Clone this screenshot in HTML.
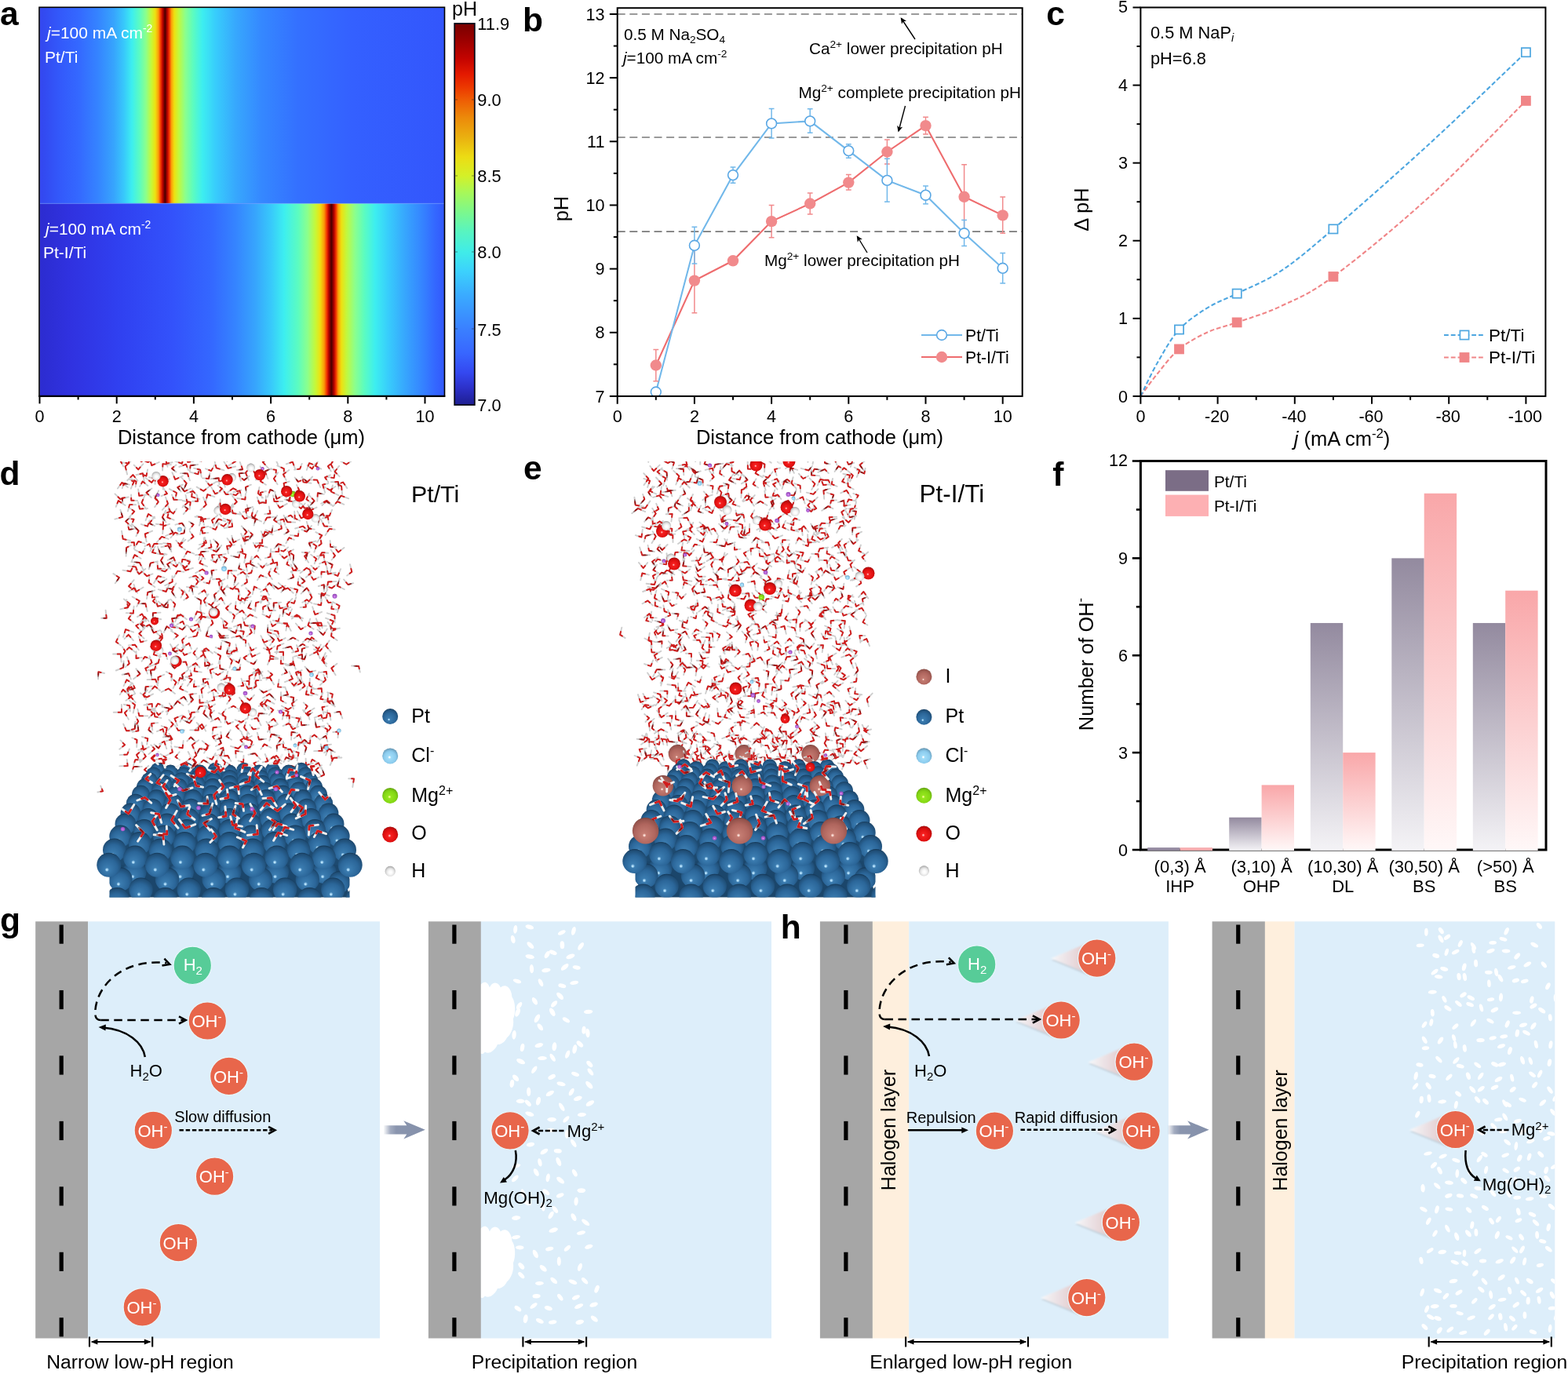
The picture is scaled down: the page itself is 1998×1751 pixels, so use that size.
<!DOCTYPE html>
<html lang="en"><head><meta charset="utf-8"><title>Figure</title>
<style>
html,body{margin:0;padding:0;background:#fff;}
body{width:1998px;height:1751px;overflow:hidden;}
svg{display:block;}
svg text{font-family:"Liberation Sans", sans-serif;}
</style></head>
<body>
<svg width="1998" height="1751" viewBox="0 0 1998 1751">
<defs>
<linearGradient id="ga1" x1="0" y1="0" x2="1" y2="0"><stop offset="0.0000" stop-color="#3346ee"/><stop offset="0.0475" stop-color="#3358fa"/><stop offset="0.0960" stop-color="#3468ff"/><stop offset="0.1445" stop-color="#3584ff"/><stop offset="0.1833" stop-color="#37a4fd"/><stop offset="0.2085" stop-color="#38c8fb"/><stop offset="0.2279" stop-color="#3deef0"/><stop offset="0.2473" stop-color="#5cfcc0"/><stop offset="0.2629" stop-color="#8cff8c"/><stop offset="0.2764" stop-color="#c6f838"/><stop offset="0.2861" stop-color="#eee010"/><stop offset="0.2939" stop-color="#fb9a08"/><stop offset="0.2997" stop-color="#f03000"/><stop offset="0.3046" stop-color="#b00000"/><stop offset="0.3100" stop-color="#4a0000"/><stop offset="0.3152" stop-color="#b00000"/><stop offset="0.3201" stop-color="#f03000"/><stop offset="0.3259" stop-color="#fba008"/><stop offset="0.3327" stop-color="#eee010"/><stop offset="0.3443" stop-color="#c0f840"/><stop offset="0.3598" stop-color="#8cff8c"/><stop offset="0.3792" stop-color="#5cfcc0"/><stop offset="0.4025" stop-color="#3deef0"/><stop offset="0.4355" stop-color="#38ccfc"/><stop offset="0.4840" stop-color="#37a8fd"/><stop offset="0.5480" stop-color="#3588ff"/><stop offset="0.6392" stop-color="#3470ff"/><stop offset="0.7750" stop-color="#3460ff"/><stop offset="1.0000" stop-color="#3356fc"/></linearGradient>
<linearGradient id="ga2" x1="0" y1="0" x2="1" y2="0"><stop offset="0.0000" stop-color="#2c2cd0"/><stop offset="0.0766" stop-color="#3032e0"/><stop offset="0.1930" stop-color="#3040f0"/><stop offset="0.3288" stop-color="#3352fb"/><stop offset="0.4258" stop-color="#3468ff"/><stop offset="0.4840" stop-color="#3584ff"/><stop offset="0.5325" stop-color="#37a4fd"/><stop offset="0.5713" stop-color="#38c8fb"/><stop offset="0.6043" stop-color="#3deef0"/><stop offset="0.6392" stop-color="#5cfcc0"/><stop offset="0.6625" stop-color="#8cff8c"/><stop offset="0.6819" stop-color="#c6f838"/><stop offset="0.6935" stop-color="#eee010"/><stop offset="0.7032" stop-color="#fb9a08"/><stop offset="0.7100" stop-color="#f03000"/><stop offset="0.7148" stop-color="#b00000"/><stop offset="0.7212" stop-color="#4a0000"/><stop offset="0.7274" stop-color="#b00000"/><stop offset="0.7323" stop-color="#f03000"/><stop offset="0.7381" stop-color="#fba008"/><stop offset="0.7459" stop-color="#eee010"/><stop offset="0.7595" stop-color="#c0f840"/><stop offset="0.7789" stop-color="#8cff8c"/><stop offset="0.8021" stop-color="#5cfcc0"/><stop offset="0.8293" stop-color="#3deef0"/><stop offset="0.8623" stop-color="#38ccfc"/><stop offset="0.9011" stop-color="#37a8fd"/><stop offset="0.9457" stop-color="#3584ff"/><stop offset="0.9767" stop-color="#3468ff"/><stop offset="1.0000" stop-color="#3359fc"/></linearGradient>
<linearGradient id="gcb" x1="0" y1="0" x2="0" y2="1"><stop offset="0.0000" stop-color="#780000"/><stop offset="0.0412" stop-color="#990000"/><stop offset="0.0926" stop-color="#c40400"/><stop offset="0.1337" stop-color="#e41a00"/><stop offset="0.1687" stop-color="#ec3a00"/><stop offset="0.1996" stop-color="#ee5c04"/><stop offset="0.2469" stop-color="#ec8a0a"/><stop offset="0.2984" stop-color="#eab010"/><stop offset="0.3498" stop-color="#ecdc14"/><stop offset="0.3992" stop-color="#d4f028"/><stop offset="0.4424" stop-color="#a8f858"/><stop offset="0.4938" stop-color="#7cf88c"/><stop offset="0.5453" stop-color="#58f4c0"/><stop offset="0.5988" stop-color="#40ece8"/><stop offset="0.6481" stop-color="#3cd2fc"/><stop offset="0.7099" stop-color="#3aacff"/><stop offset="0.8004" stop-color="#3a80ff"/><stop offset="0.8642" stop-color="#3866ff"/><stop offset="0.9156" stop-color="#3448f0"/><stop offset="0.9568" stop-color="#2c30c8"/><stop offset="1.0000" stop-color="#1e1e90"/></linearGradient>
<marker id="ah" viewBox="0 0 10 10" refX="8" refY="5" markerWidth="11" markerHeight="8" markerUnits="userSpaceOnUse" orient="auto"><path d="M0,0.5 L10,5 L0,9.5 L2.5,5 z" fill="#000"/></marker>
<filter id="fsoft" x="-2%" y="-2%" width="104%" height="104%"><feGaussianBlur stdDeviation="0.45"/></filter>
<radialGradient id="sPt" cx="0.5" cy="0.6" r="0.63" fx="0.41" fy="0.71"><stop offset="0" stop-color="#b8e4ff"/><stop offset="0.038" stop-color="#b8e4ff"/><stop offset="0.136" stop-color="#3b7cb0"/><stop offset="0.6" stop-color="#2b6699"/><stop offset="0.88" stop-color="#1f4d75"/><stop offset="1" stop-color="#0e2a44"/></radialGradient>
<radialGradient id="sI" cx="0.5" cy="0.6" r="0.63" fx="0.45" fy="0.68"><stop offset="0" stop-color="#ffe0d8"/><stop offset="0.032" stop-color="#ffe0d8"/><stop offset="0.112" stop-color="#c47c72"/><stop offset="0.6" stop-color="#b0665e"/><stop offset="0.88" stop-color="#93524b"/><stop offset="1" stop-color="#6a3630"/></radialGradient>
<radialGradient id="sO" cx="0.5" cy="0.6" r="0.63" fx="0.45" fy="0.58"><stop offset="0" stop-color="#ffb0b0"/><stop offset="0.045" stop-color="#ffb0b0"/><stop offset="0.160" stop-color="#f62020"/><stop offset="0.6" stop-color="#e01010"/><stop offset="0.88" stop-color="#b50d0d"/><stop offset="1" stop-color="#7a0808"/></radialGradient>
<radialGradient id="sH" cx="0.5" cy="0.6" r="0.63" fx="0.55" fy="0.6"><stop offset="0" stop-color="#ffffff"/><stop offset="0.090" stop-color="#ffffff"/><stop offset="0.320" stop-color="#f8f8f8"/><stop offset="0.6" stop-color="#e2e2e2"/><stop offset="0.88" stop-color="#b0b0b0"/><stop offset="1" stop-color="#6c6c6c"/></radialGradient>
<radialGradient id="sCl" cx="0.5" cy="0.6" r="0.63" fx="0.45" fy="0.58"><stop offset="0" stop-color="#ffffff"/><stop offset="0.045" stop-color="#ffffff"/><stop offset="0.160" stop-color="#a0dcf8"/><stop offset="0.6" stop-color="#8cccee"/><stop offset="0.88" stop-color="#6ca1bf"/><stop offset="1" stop-color="#41667e"/></radialGradient>
<radialGradient id="sMg" cx="0.5" cy="0.6" r="0.63" fx="0.45" fy="0.58"><stop offset="0" stop-color="#f4ff90"/><stop offset="0.045" stop-color="#f4ff90"/><stop offset="0.160" stop-color="#96e61e"/><stop offset="0.6" stop-color="#84d814"/><stop offset="0.88" stop-color="#6cb111"/><stop offset="1" stop-color="#4a7c0c"/></radialGradient>
<radialGradient id="sNa" cx="0.5" cy="0.6" r="0.63" fx="0.45" fy="0.58"><stop offset="0" stop-color="#f0c8ff"/><stop offset="0.045" stop-color="#f0c8ff"/><stop offset="0.160" stop-color="#c070e0"/><stop offset="0.6" stop-color="#a858cc"/><stop offset="0.88" stop-color="#8e47af"/><stop offset="1" stop-color="#6a3088"/></radialGradient>
<linearGradient id="gfg" x1="0" y1="0" x2="0" y2="1"><stop offset="0" stop-color="#938a9f"/><stop offset="1" stop-color="#f4f3f6"/></linearGradient>
<linearGradient id="gfp" x1="0" y1="0" x2="0" y2="1"><stop offset="0" stop-color="#f9a7a9"/><stop offset="1" stop-color="#fff8f8"/></linearGradient>
<linearGradient id="gtr" x1="0" y1="0" x2="1" y2="0"><stop offset="0" stop-color="#8c97b0" stop-opacity="0.05"/><stop offset="0.16" stop-color="#8c97b0" stop-opacity="0.8"/><stop offset="0.3" stop-color="#8a95ae"/><stop offset="1" stop-color="#8490aa"/></linearGradient>
<linearGradient id="gtail" x1="0" y1="0" x2="1" y2="0"><stop offset="0" stop-color="#fbfbfc" stop-opacity="0.9"/><stop offset="0.5" stop-color="#ecdfe2" stop-opacity="0.95"/><stop offset="1" stop-color="#e2c4c2" stop-opacity="0.95"/></linearGradient>
<filter id="fblur" x="-20%" y="-20%" width="140%" height="140%"><feGaussianBlur stdDeviation="1.2"/></filter>
</defs>
<rect x="50.50" y="9.50" width="515.50" height="249.80" fill="url(#ga1)" />
<rect x="50.50" y="259.30" width="515.50" height="245.20" fill="url(#ga2)" />
<rect x="50.50" y="258.70" width="515.50" height="1.20" fill="#5f8cff" opacity="0.55"/>
<rect x="50.0" y="9.3" width="516.5" height="495.8" fill="none" stroke="#000" stroke-width="1.6"/>
<line x1="49.20" y1="504.80" x2="567.30" y2="504.80" stroke="#000" stroke-width="2" />
<line x1="50.50" y1="504.50" x2="50.50" y2="514.40" stroke="#000" stroke-width="2" />
<text x="50.50" y="538.20" font-size="21.6" text-anchor="middle" >0</text>
<line x1="99.60" y1="504.50" x2="99.60" y2="509.40" stroke="#000" stroke-width="2" />
<line x1="148.70" y1="504.50" x2="148.70" y2="514.40" stroke="#000" stroke-width="2" />
<text x="148.70" y="538.20" font-size="21.6" text-anchor="middle" >2</text>
<line x1="197.80" y1="504.50" x2="197.80" y2="509.40" stroke="#000" stroke-width="2" />
<line x1="246.90" y1="504.50" x2="246.90" y2="514.40" stroke="#000" stroke-width="2" />
<text x="246.90" y="538.20" font-size="21.6" text-anchor="middle" >4</text>
<line x1="296.00" y1="504.50" x2="296.00" y2="509.40" stroke="#000" stroke-width="2" />
<line x1="345.10" y1="504.50" x2="345.10" y2="514.40" stroke="#000" stroke-width="2" />
<text x="345.10" y="538.20" font-size="21.6" text-anchor="middle" >6</text>
<line x1="394.20" y1="504.50" x2="394.20" y2="509.40" stroke="#000" stroke-width="2" />
<line x1="443.30" y1="504.50" x2="443.30" y2="514.40" stroke="#000" stroke-width="2" />
<text x="443.30" y="538.20" font-size="21.6" text-anchor="middle" >8</text>
<line x1="492.40" y1="504.50" x2="492.40" y2="509.40" stroke="#000" stroke-width="2" />
<line x1="541.50" y1="504.50" x2="541.50" y2="514.40" stroke="#000" stroke-width="2" />
<text x="541.50" y="538.20" font-size="21.6" text-anchor="middle" >10</text>
<text x="307.50" y="566.00" font-size="25.5" text-anchor="middle" >Distance from cathode (μm)</text>
<text x="60.00" y="49.20" font-size="21" fill="#fff" ><tspan font-style="italic">j</tspan>=100 mA cm<tspan dy="-8.4" font-size="13.9">-2</tspan></text>
<text x="57.00" y="80.00" font-size="21" fill="#fff" >Pt/Ti</text>
<text x="58.00" y="299.20" font-size="21" fill="#fff" ><tspan font-style="italic">j</tspan>=100 mA cm<tspan dy="-8.4" font-size="13.9">-2</tspan></text>
<text x="55.00" y="329.00" font-size="21" fill="#fff" >Pt-I/Ti</text>
<rect x="579.2" y="30" width="25.6" height="486" fill="url(#gcb)" stroke="#0a0a18" stroke-width="1.8"/>
<line x1="579.00" y1="127.00" x2="583.00" y2="127.00" stroke="#222" stroke-width="1" opacity="0.5"/>
<line x1="601.00" y1="127.00" x2="605.00" y2="127.00" stroke="#222" stroke-width="1" opacity="0.5"/>
<line x1="579.00" y1="224.00" x2="583.00" y2="224.00" stroke="#222" stroke-width="1" opacity="0.5"/>
<line x1="601.00" y1="224.00" x2="605.00" y2="224.00" stroke="#222" stroke-width="1" opacity="0.5"/>
<line x1="579.00" y1="321.00" x2="583.00" y2="321.00" stroke="#222" stroke-width="1" opacity="0.5"/>
<line x1="601.00" y1="321.00" x2="605.00" y2="321.00" stroke="#222" stroke-width="1" opacity="0.5"/>
<line x1="579.00" y1="419.00" x2="583.00" y2="419.00" stroke="#222" stroke-width="1" opacity="0.5"/>
<line x1="601.00" y1="419.00" x2="605.00" y2="419.00" stroke="#222" stroke-width="1" opacity="0.5"/>
<text x="576.00" y="20.00" font-size="25" >pH</text>
<text x="608.30" y="38.00" font-size="21.8" >11.9</text>
<text x="608.30" y="135.00" font-size="21.8" >9.0</text>
<text x="608.30" y="232.00" font-size="21.8" >8.5</text>
<text x="608.30" y="329.00" font-size="21.8" >8.0</text>
<text x="608.30" y="427.50" font-size="21.8" >7.5</text>
<text x="608.30" y="524.00" font-size="21.8" >7.0</text>
<text x="0.00" y="32.00" font-size="42.5" font-weight="bold" >a</text>
<line x1="786.70" y1="18.00" x2="1302.70" y2="18.00" stroke="#7a7a7a" stroke-width="1.6" stroke-dasharray="10 5.6"/>
<line x1="786.70" y1="175.03" x2="1302.70" y2="175.03" stroke="#7a7a7a" stroke-width="1.6" stroke-dasharray="10 5.6"/>
<line x1="786.70" y1="295.13" x2="1302.70" y2="295.13" stroke="#7a7a7a" stroke-width="1.6" stroke-dasharray="10 5.6"/>
<clipPath id="cpb"><rect x="786.7" y="10.2" width="516.0" height="494.7"/></clipPath>
<g clip-path="url(#cpb)">
<polyline fill="none" stroke="#ee6c6e" stroke-width="2.1" points="835.8,465.5 884.9,357.6 934.0,332.3 983.1,282.1 1032.2,259.5 1081.3,232.6 1130.4,193.5 1179.5,160.1 1228.6,250.8 1277.7,274.4"/>
<polyline fill="none" stroke="#72b8ea" stroke-width="2.1" points="835.8,499.5 884.9,312.8 934.0,223.1 983.1,157.4 1032.2,154.4 1081.3,192.1 1130.4,229.9 1179.5,248.7 1228.6,297.3 1277.7,341.8"/>
<line x1="835.80" y1="445.57" x2="835.80" y2="485.68" stroke="#f18a8c" stroke-width="1.5" />
<line x1="832.40" y1="445.57" x2="839.20" y2="445.57" stroke="#f18a8c" stroke-width="1.5" />
<line x1="832.40" y1="485.68" x2="839.20" y2="485.68" stroke="#f18a8c" stroke-width="1.5" />
<line x1="884.90" y1="316.82" x2="884.90" y2="398.72" stroke="#f18a8c" stroke-width="1.5" />
<line x1="881.50" y1="316.82" x2="888.30" y2="316.82" stroke="#f18a8c" stroke-width="1.5" />
<line x1="881.50" y1="398.72" x2="888.30" y2="398.72" stroke="#f18a8c" stroke-width="1.5" />
<line x1="983.10" y1="261.54" x2="983.10" y2="302.66" stroke="#f18a8c" stroke-width="1.5" />
<line x1="979.70" y1="261.54" x2="986.50" y2="261.54" stroke="#f18a8c" stroke-width="1.5" />
<line x1="979.70" y1="302.66" x2="986.50" y2="302.66" stroke="#f18a8c" stroke-width="1.5" />
<line x1="1032.20" y1="246.04" x2="1032.20" y2="273.00" stroke="#f18a8c" stroke-width="1.5" />
<line x1="1028.80" y1="246.04" x2="1035.60" y2="246.04" stroke="#f18a8c" stroke-width="1.5" />
<line x1="1028.80" y1="273.00" x2="1035.60" y2="273.00" stroke="#f18a8c" stroke-width="1.5" />
<line x1="1081.30" y1="222.45" x2="1081.30" y2="242.00" stroke="#f18a8c" stroke-width="1.5" />
<line x1="1077.90" y1="222.45" x2="1084.70" y2="222.45" stroke="#f18a8c" stroke-width="1.5" />
<line x1="1077.90" y1="242.00" x2="1084.70" y2="242.00" stroke="#f18a8c" stroke-width="1.5" />
<line x1="1130.40" y1="177.96" x2="1130.40" y2="208.97" stroke="#f18a8c" stroke-width="1.5" />
<line x1="1127.00" y1="177.96" x2="1133.80" y2="177.96" stroke="#f18a8c" stroke-width="1.5" />
<line x1="1127.00" y1="208.97" x2="1133.80" y2="208.97" stroke="#f18a8c" stroke-width="1.5" />
<line x1="1179.50" y1="149.31" x2="1179.50" y2="170.88" stroke="#f18a8c" stroke-width="1.5" />
<line x1="1176.10" y1="149.31" x2="1182.90" y2="149.31" stroke="#f18a8c" stroke-width="1.5" />
<line x1="1176.10" y1="170.88" x2="1182.90" y2="170.88" stroke="#f18a8c" stroke-width="1.5" />
<line x1="1228.60" y1="209.64" x2="1228.60" y2="291.88" stroke="#f18a8c" stroke-width="1.5" />
<line x1="1225.20" y1="209.64" x2="1232.00" y2="209.64" stroke="#f18a8c" stroke-width="1.5" />
<line x1="1225.20" y1="291.88" x2="1232.00" y2="291.88" stroke="#f18a8c" stroke-width="1.5" />
<line x1="1277.70" y1="251.10" x2="1277.70" y2="297.27" stroke="#f18a8c" stroke-width="1.5" />
<line x1="1274.30" y1="251.10" x2="1281.10" y2="251.10" stroke="#f18a8c" stroke-width="1.5" />
<line x1="1274.30" y1="297.27" x2="1281.10" y2="297.27" stroke="#f18a8c" stroke-width="1.5" />
<line x1="835.80" y1="496.12" x2="835.80" y2="502.86" stroke="#72b8ea" stroke-width="1.5" />
<line x1="832.40" y1="496.12" x2="839.20" y2="496.12" stroke="#72b8ea" stroke-width="1.5" />
<line x1="832.40" y1="502.86" x2="839.20" y2="502.86" stroke="#72b8ea" stroke-width="1.5" />
<line x1="884.90" y1="289.18" x2="884.90" y2="336.03" stroke="#72b8ea" stroke-width="1.5" />
<line x1="881.50" y1="289.18" x2="888.30" y2="289.18" stroke="#72b8ea" stroke-width="1.5" />
<line x1="881.50" y1="336.03" x2="888.30" y2="336.03" stroke="#72b8ea" stroke-width="1.5" />
<line x1="934.00" y1="213.01" x2="934.00" y2="233.23" stroke="#72b8ea" stroke-width="1.5" />
<line x1="930.60" y1="213.01" x2="937.40" y2="213.01" stroke="#72b8ea" stroke-width="1.5" />
<line x1="930.60" y1="233.23" x2="937.40" y2="233.23" stroke="#72b8ea" stroke-width="1.5" />
<line x1="983.10" y1="138.52" x2="983.10" y2="175.94" stroke="#72b8ea" stroke-width="1.5" />
<line x1="979.70" y1="138.52" x2="986.50" y2="138.52" stroke="#72b8ea" stroke-width="1.5" />
<line x1="979.70" y1="175.94" x2="986.50" y2="175.94" stroke="#72b8ea" stroke-width="1.5" />
<line x1="1032.20" y1="138.86" x2="1032.20" y2="169.19" stroke="#72b8ea" stroke-width="1.5" />
<line x1="1028.80" y1="138.86" x2="1035.60" y2="138.86" stroke="#72b8ea" stroke-width="1.5" />
<line x1="1028.80" y1="169.19" x2="1035.60" y2="169.19" stroke="#72b8ea" stroke-width="1.5" />
<line x1="1081.30" y1="183.69" x2="1081.30" y2="201.21" stroke="#72b8ea" stroke-width="1.5" />
<line x1="1077.90" y1="183.69" x2="1084.70" y2="183.69" stroke="#72b8ea" stroke-width="1.5" />
<line x1="1077.90" y1="201.21" x2="1084.70" y2="201.21" stroke="#72b8ea" stroke-width="1.5" />
<line x1="1130.40" y1="202.22" x2="1130.40" y2="257.16" stroke="#72b8ea" stroke-width="1.5" />
<line x1="1127.00" y1="202.22" x2="1133.80" y2="202.22" stroke="#72b8ea" stroke-width="1.5" />
<line x1="1127.00" y1="257.16" x2="1133.80" y2="257.16" stroke="#72b8ea" stroke-width="1.5" />
<line x1="1179.50" y1="236.94" x2="1179.50" y2="259.86" stroke="#72b8ea" stroke-width="1.5" />
<line x1="1176.10" y1="236.94" x2="1182.90" y2="236.94" stroke="#72b8ea" stroke-width="1.5" />
<line x1="1176.10" y1="259.86" x2="1182.90" y2="259.86" stroke="#72b8ea" stroke-width="1.5" />
<line x1="1228.60" y1="280.42" x2="1228.60" y2="313.45" stroke="#72b8ea" stroke-width="1.5" />
<line x1="1225.20" y1="280.42" x2="1232.00" y2="280.42" stroke="#72b8ea" stroke-width="1.5" />
<line x1="1225.20" y1="313.45" x2="1232.00" y2="313.45" stroke="#72b8ea" stroke-width="1.5" />
<line x1="1277.70" y1="322.55" x2="1277.70" y2="360.97" stroke="#72b8ea" stroke-width="1.5" />
<line x1="1274.30" y1="322.55" x2="1281.10" y2="322.55" stroke="#72b8ea" stroke-width="1.5" />
<line x1="1274.30" y1="360.97" x2="1281.10" y2="360.97" stroke="#72b8ea" stroke-width="1.5" />
<circle cx="835.8" cy="465.5" r="7.2" fill="#f18a8c"/>
<circle cx="884.9" cy="357.6" r="7.2" fill="#f18a8c"/>
<circle cx="934.0" cy="332.3" r="7.2" fill="#f18a8c"/>
<circle cx="983.1" cy="282.1" r="7.2" fill="#f18a8c"/>
<circle cx="1032.2" cy="259.5" r="7.2" fill="#f18a8c"/>
<circle cx="1081.3" cy="232.6" r="7.2" fill="#f18a8c"/>
<circle cx="1130.4" cy="193.5" r="7.2" fill="#f18a8c"/>
<circle cx="1179.5" cy="160.1" r="7.2" fill="#f18a8c"/>
<circle cx="1228.6" cy="250.8" r="7.2" fill="#f18a8c"/>
<circle cx="1277.7" cy="274.4" r="7.2" fill="#f18a8c"/>
<circle cx="835.8" cy="499.5" r="6.4" fill="#fff" stroke="#5aa7e4" stroke-width="1.6"/>
<circle cx="884.9" cy="312.8" r="6.4" fill="#fff" stroke="#5aa7e4" stroke-width="1.6"/>
<circle cx="934.0" cy="223.1" r="6.4" fill="#fff" stroke="#5aa7e4" stroke-width="1.6"/>
<circle cx="983.1" cy="157.4" r="6.4" fill="#fff" stroke="#5aa7e4" stroke-width="1.6"/>
<circle cx="1032.2" cy="154.4" r="6.4" fill="#fff" stroke="#5aa7e4" stroke-width="1.6"/>
<circle cx="1081.3" cy="192.1" r="6.4" fill="#fff" stroke="#5aa7e4" stroke-width="1.6"/>
<circle cx="1130.4" cy="229.9" r="6.4" fill="#fff" stroke="#5aa7e4" stroke-width="1.6"/>
<circle cx="1179.5" cy="248.7" r="6.4" fill="#fff" stroke="#5aa7e4" stroke-width="1.6"/>
<circle cx="1228.6" cy="297.3" r="6.4" fill="#fff" stroke="#5aa7e4" stroke-width="1.6"/>
<circle cx="1277.7" cy="341.8" r="6.4" fill="#fff" stroke="#5aa7e4" stroke-width="1.6"/>
</g>
<rect x="786.7" y="10.2" width="516.0" height="494.7" fill="none" stroke="#000" stroke-width="2"/>
<line x1="786.70" y1="504.90" x2="786.70" y2="514.80" stroke="#000" stroke-width="2" />
<text x="786.70" y="538.20" font-size="21.6" text-anchor="middle" >0</text>
<line x1="835.80" y1="504.90" x2="835.80" y2="509.80" stroke="#000" stroke-width="2" />
<line x1="884.90" y1="504.90" x2="884.90" y2="514.80" stroke="#000" stroke-width="2" />
<text x="884.90" y="538.20" font-size="21.6" text-anchor="middle" >2</text>
<line x1="934.00" y1="504.90" x2="934.00" y2="509.80" stroke="#000" stroke-width="2" />
<line x1="983.10" y1="504.90" x2="983.10" y2="514.80" stroke="#000" stroke-width="2" />
<text x="983.10" y="538.20" font-size="21.6" text-anchor="middle" >4</text>
<line x1="1032.20" y1="504.90" x2="1032.20" y2="509.80" stroke="#000" stroke-width="2" />
<line x1="1081.30" y1="504.90" x2="1081.30" y2="514.80" stroke="#000" stroke-width="2" />
<text x="1081.30" y="538.20" font-size="21.6" text-anchor="middle" >6</text>
<line x1="1130.40" y1="504.90" x2="1130.40" y2="509.80" stroke="#000" stroke-width="2" />
<line x1="1179.50" y1="504.90" x2="1179.50" y2="514.80" stroke="#000" stroke-width="2" />
<text x="1179.50" y="538.20" font-size="21.6" text-anchor="middle" >8</text>
<line x1="1228.60" y1="504.90" x2="1228.60" y2="509.80" stroke="#000" stroke-width="2" />
<line x1="1277.70" y1="504.90" x2="1277.70" y2="514.80" stroke="#000" stroke-width="2" />
<text x="1277.70" y="538.20" font-size="21.6" text-anchor="middle" >10</text>
<line x1="776.80" y1="504.90" x2="786.70" y2="504.90" stroke="#000" stroke-width="2" />
<text x="770.50" y="512.50" font-size="21.6" text-anchor="end" >7</text>
<line x1="781.80" y1="464.32" x2="786.70" y2="464.32" stroke="#000" stroke-width="2" />
<line x1="776.80" y1="423.75" x2="786.70" y2="423.75" stroke="#000" stroke-width="2" />
<text x="770.50" y="431.35" font-size="21.6" text-anchor="end" >8</text>
<line x1="781.80" y1="383.17" x2="786.70" y2="383.17" stroke="#000" stroke-width="2" />
<line x1="776.80" y1="342.60" x2="786.70" y2="342.60" stroke="#000" stroke-width="2" />
<text x="770.50" y="350.20" font-size="21.6" text-anchor="end" >9</text>
<line x1="781.80" y1="302.02" x2="786.70" y2="302.02" stroke="#000" stroke-width="2" />
<line x1="776.80" y1="261.45" x2="786.70" y2="261.45" stroke="#000" stroke-width="2" />
<text x="770.50" y="269.05" font-size="21.6" text-anchor="end" >10</text>
<line x1="781.80" y1="220.87" x2="786.70" y2="220.87" stroke="#000" stroke-width="2" />
<line x1="776.80" y1="180.30" x2="786.70" y2="180.30" stroke="#000" stroke-width="2" />
<text x="770.50" y="187.90" font-size="21.6" text-anchor="end" >11</text>
<line x1="781.80" y1="139.72" x2="786.70" y2="139.72" stroke="#000" stroke-width="2" />
<line x1="776.80" y1="99.15" x2="786.70" y2="99.15" stroke="#000" stroke-width="2" />
<text x="770.50" y="106.75" font-size="21.6" text-anchor="end" >12</text>
<line x1="781.80" y1="58.57" x2="786.70" y2="58.57" stroke="#000" stroke-width="2" />
<line x1="776.80" y1="18.00" x2="786.70" y2="18.00" stroke="#000" stroke-width="2" />
<text x="770.50" y="25.60" font-size="21.6" text-anchor="end" >13</text>
<text x="1044.50" y="566.00" font-size="25.5" text-anchor="middle" >Distance from cathode (μm)</text>
<text x="723.50" y="266.00" font-size="25.5" text-anchor="middle" transform="rotate(-90 723.50 266.00)" >pH</text>
<text x="666.00" y="40.00" font-size="42.5" font-weight="bold" >b</text>
<text x="795.00" y="51.30" font-size="20.7" >0.5 M Na<tspan dy="4.1" font-size="13.7">2</tspan><tspan dy="-4.1">SO</tspan><tspan dy="4.1" font-size="13.7">4</tspan></text>
<text x="794.00" y="81.30" font-size="20.7" ><tspan font-style="italic">j</tspan>=100 mA cm<tspan dy="-8.3" font-size="13.7">-2</tspan></text>
<text x="1031.00" y="69.00" font-size="20.7" >Ca<tspan dy="-8.3" font-size="13.7">2+</tspan><tspan dy="8.3"> lower precipitation pH</tspan></text>
<text x="1017.50" y="125.20" font-size="20.7" >Mg<tspan dy="-8.3" font-size="13.7">2+</tspan><tspan dy="8.3"> complete precipitation pH</tspan></text>
<text x="974.00" y="339.20" font-size="20.7" >Mg<tspan dy="-8.3" font-size="13.7">2+</tspan><tspan dy="8.3"> lower precipitation pH</tspan></text>
<line x1="1166.00" y1="50.00" x2="1148.50" y2="23.50" stroke="#000" stroke-width="1.4" marker-end="url(#ah)"/>
<line x1="1153.50" y1="135.00" x2="1145.00" y2="167.00" stroke="#000" stroke-width="1.4" marker-end="url(#ah)"/>
<line x1="1105.00" y1="322.00" x2="1092.50" y2="301.50" stroke="#000" stroke-width="1.4" marker-end="url(#ah)"/>
<line x1="1174.00" y1="427.00" x2="1226.00" y2="427.00" stroke="#72b8ea" stroke-width="2.1" />
<circle cx="1200" cy="427" r="6.4" fill="#fff" stroke="#5aa7e4" stroke-width="1.6"/>
<text x="1230.00" y="434.50" font-size="21.2" >Pt/Ti</text>
<line x1="1174.00" y1="455.00" x2="1226.00" y2="455.00" stroke="#ee6c6e" stroke-width="2.1" />
<circle cx="1200" cy="455" r="7.2" fill="#f18a8c"/>
<text x="1230.00" y="462.50" font-size="21.2" >Pt-I/Ti</text>
<path d="M1453.4,504.9 C1457.0,500.1 1466.8,486.0 1475.0,476.0 C1483.2,466.0 1491.8,453.7 1502.5,444.9 C1513.2,436.1 1527.0,428.8 1539.3,423.1 C1551.6,417.4 1560.7,416.4 1576.2,410.9 C1591.6,405.4 1611.7,399.9 1632.1,390.2 C1652.6,380.5 1667.3,375.8 1698.9,352.5 C1730.5,329.2 1780.7,287.9 1821.7,250.5 C1862.6,213.2 1923.9,148.8 1944.4,128.4" fill="none" stroke="#f08587" stroke-width="2.1" stroke-dasharray="5.8 3"/>
<path d="M1453.4,504.9 C1457.0,497.8 1466.8,476.1 1475.0,462.0 C1483.2,447.9 1491.8,431.7 1502.5,420.0 C1513.2,408.3 1527.0,399.5 1539.3,391.9 C1551.6,384.2 1560.7,381.9 1576.2,374.1 C1591.6,366.4 1611.7,359.1 1632.1,345.4 C1652.6,331.7 1667.3,319.0 1698.9,291.9 C1730.5,264.8 1780.7,220.5 1821.7,183.0 C1862.6,145.5 1923.9,86.1 1944.4,66.7" fill="none" stroke="#4da6e0" stroke-width="2.1" stroke-dasharray="5.8 3"/>
<rect x="1496.10" y="438.50" width="12.80" height="12.80" fill="#f08587" />
<rect x="1569.75" y="404.50" width="12.80" height="12.80" fill="#f08587" />
<rect x="1692.50" y="346.10" width="12.80" height="12.80" fill="#f08587" />
<rect x="1938.00" y="122.00" width="12.80" height="12.80" fill="#f08587" />
<rect x="1496.9" y="414.4" width="11.2" height="11.2" fill="#fff" stroke="#4da6e0" stroke-width="1.7"/>
<rect x="1570.6" y="368.5" width="11.2" height="11.2" fill="#fff" stroke="#4da6e0" stroke-width="1.7"/>
<rect x="1693.3" y="286.3" width="11.2" height="11.2" fill="#fff" stroke="#4da6e0" stroke-width="1.7"/>
<rect x="1938.8" y="61.1" width="11.2" height="11.2" fill="#fff" stroke="#4da6e0" stroke-width="1.7"/>
<rect x="1453.4" y="9.5" width="516.0" height="495.4" fill="none" stroke="#000" stroke-width="2"/>
<line x1="1453.40" y1="504.90" x2="1453.40" y2="514.80" stroke="#000" stroke-width="2" />
<text x="1453.40" y="538.20" font-size="21.6" text-anchor="middle" >0</text>
<line x1="1502.50" y1="504.90" x2="1502.50" y2="509.80" stroke="#000" stroke-width="2" />
<line x1="1551.60" y1="504.90" x2="1551.60" y2="514.80" stroke="#000" stroke-width="2" />
<text x="1550.60" y="538.20" font-size="21.6" text-anchor="middle" >-20</text>
<line x1="1600.70" y1="504.90" x2="1600.70" y2="509.80" stroke="#000" stroke-width="2" />
<line x1="1649.80" y1="504.90" x2="1649.80" y2="514.80" stroke="#000" stroke-width="2" />
<text x="1648.80" y="538.20" font-size="21.6" text-anchor="middle" >-40</text>
<line x1="1698.90" y1="504.90" x2="1698.90" y2="509.80" stroke="#000" stroke-width="2" />
<line x1="1748.00" y1="504.90" x2="1748.00" y2="514.80" stroke="#000" stroke-width="2" />
<text x="1747.00" y="538.20" font-size="21.6" text-anchor="middle" >-60</text>
<line x1="1797.10" y1="504.90" x2="1797.10" y2="509.80" stroke="#000" stroke-width="2" />
<line x1="1846.20" y1="504.90" x2="1846.20" y2="514.80" stroke="#000" stroke-width="2" />
<text x="1845.20" y="538.20" font-size="21.6" text-anchor="middle" >-80</text>
<line x1="1895.30" y1="504.90" x2="1895.30" y2="509.80" stroke="#000" stroke-width="2" />
<line x1="1944.40" y1="504.90" x2="1944.40" y2="514.80" stroke="#000" stroke-width="2" />
<text x="1943.40" y="538.20" font-size="21.6" text-anchor="middle" >-100</text>
<line x1="1443.50" y1="504.90" x2="1453.40" y2="504.90" stroke="#000" stroke-width="2" />
<text x="1437.00" y="512.50" font-size="21.6" text-anchor="end" >0</text>
<line x1="1448.50" y1="455.36" x2="1453.40" y2="455.36" stroke="#000" stroke-width="2" />
<line x1="1443.50" y1="405.82" x2="1453.40" y2="405.82" stroke="#000" stroke-width="2" />
<text x="1437.00" y="413.42" font-size="21.6" text-anchor="end" >1</text>
<line x1="1448.50" y1="356.28" x2="1453.40" y2="356.28" stroke="#000" stroke-width="2" />
<line x1="1443.50" y1="306.74" x2="1453.40" y2="306.74" stroke="#000" stroke-width="2" />
<text x="1437.00" y="314.34" font-size="21.6" text-anchor="end" >2</text>
<line x1="1448.50" y1="257.20" x2="1453.40" y2="257.20" stroke="#000" stroke-width="2" />
<line x1="1443.50" y1="207.66" x2="1453.40" y2="207.66" stroke="#000" stroke-width="2" />
<text x="1437.00" y="215.26" font-size="21.6" text-anchor="end" >3</text>
<line x1="1448.50" y1="158.12" x2="1453.40" y2="158.12" stroke="#000" stroke-width="2" />
<line x1="1443.50" y1="108.58" x2="1453.40" y2="108.58" stroke="#000" stroke-width="2" />
<text x="1437.00" y="116.18" font-size="21.6" text-anchor="end" >4</text>
<line x1="1448.50" y1="59.04" x2="1453.40" y2="59.04" stroke="#000" stroke-width="2" />
<line x1="1443.50" y1="9.50" x2="1453.40" y2="9.50" stroke="#000" stroke-width="2" />
<text x="1437.00" y="15.80" font-size="21.6" text-anchor="end" >5</text>
<text x="1710.00" y="568.00" font-size="25.5" text-anchor="middle" ><tspan font-style="italic">j</tspan> (mA cm<tspan dy="-10.2" font-size="16.8">-2</tspan><tspan dy="10.2">)</tspan></text>
<text x="1386.50" y="267.00" font-size="25.5" text-anchor="middle" transform="rotate(-90 1386.50 267.00)" >Δ pH</text>
<text x="1333.20" y="32.40" font-size="42.5" font-weight="bold" >c</text>
<text x="1466.00" y="48.80" font-size="21.8" >0.5 M NaP<tspan dy="4.4" font-size="14.4" font-style="italic">i</tspan></text>
<text x="1466.00" y="81.60" font-size="21.8" >pH=6.8</text>
<line x1="1840.00" y1="427.00" x2="1892.00" y2="427.00" stroke="#4da6e0" stroke-width="2.1" stroke-dasharray="5.8 3"/>
<rect x="1860.4" y="421.4" width="11.2" height="11.2" fill="#fff" stroke="#4da6e0" stroke-width="1.7"/>
<text x="1897.00" y="434.50" font-size="22.5" >Pt/Ti</text>
<line x1="1840.00" y1="455.50" x2="1892.00" y2="455.50" stroke="#f08587" stroke-width="2.1" stroke-dasharray="5.8 3"/>
<rect x="1859.60" y="449.10" width="12.80" height="12.80" fill="#f08587" />
<text x="1897.00" y="463.00" font-size="22.5" >Pt-I/Ti</text>
<clipPath id="cpd"><rect x="100" y="588" width="380" height="560"/></clipPath>
<g clip-path="url(#cpd)">
<g filter="url(#fsoft)">
<path d="M158.3,581.5L153.7,587.7l3.5,6.7M155.1,589.2L164.2,590.6l0.3,-10.2M174.2,583.2L180.2,588.3l5.5,-3.9M180.9,586.6L188.8,589.0l7.3,-6.7M217.9,592.2L207.4,591.1l-0.3,8.4M213.5,594.8L211.1,586.1l-10.3,0.3M222.4,587.4L231.9,590.8l2.5,-10.3M236.4,581.7L239.3,588.9l6.8,-1.1M255.1,588.0L257.3,580.4l-9.6,-1.6M248.2,582.0L256.8,587.5l6.0,-8.8M274.6,583.8L282.0,583.4l-2.2,-8.0M289.3,587.9L282.9,579.8l-8.1,0.9M291.3,593.4L300.2,587.9l-2.4,-8.4M319.8,574.9L315.2,582.5l4.9,4.5M316.5,578.2L325.6,579.5l-0.4,-8.5M342.8,583.9L334.8,588.8l7.1,7.8M354.1,591.8L350.4,583.6l-7.4,2.8M359.2,574.8L365.1,579.6l6.4,-7.6M376.3,598.1L372.8,588.7l-8.0,2.6M381.5,576.2L381.5,583.8l7.1,0.9M403.4,593.8L394.1,590.2l-3.3,8.6M404.6,573.9L408.5,581.0l7.2,-4.1M426.9,582.9L421.7,591.7l5.0,9.4M433.2,587.1L441.3,591.8l7.3,-4.8M166.5,587.9L159.6,594.4l2.5,10.1M170.7,592.7L176.2,598.4l6.1,-7.1M183.8,613.2L181.9,603.3l-8.4,1.9M190.3,583.8L193.3,593.2l9.5,-4.2M212.2,582.9L212.0,590.7l7.6,-1.4M224.5,592.5L218.9,596.9l5.5,4.6M240.0,599.2L237.0,591.7l-8.7,3.3M252.2,592.0L242.7,593.1l-0.8,8.1M256.8,607.8L255.1,598.7l-8.1,-2.0M262.0,597.3L269.1,600.1l4.3,-7.7M273.7,588.4L275.7,596.3l9.8,3.0M285.2,588.1L290.5,596.8l9.6,-2.3M302.0,599.0L309.2,598.2l-3.4,-9.2M317.5,597.0L312.9,602.5l4.0,9.2M331.6,594.3L335.2,603.4l7.3,-4.8M345.8,597.1L337.6,600.7l3.8,9.3M351.2,607.1L351.9,598.9l-8.0,-1.2M361.6,604.6L361.9,597.3l-8.6,-3.9M375.0,598.6L382.2,597.5l2.5,-6.6M391.6,593.0L397.8,597.5l3.9,-6.4M406.4,585.3L401.9,593.7l7.3,3.9M424.1,588.8L417.9,594.2l3.9,6.2M432.1,593.8L426.6,601.0l5.9,6.2M162.9,620.9L155.5,614.9l-5.6,7.6M175.4,612.5L169.4,605.1l-7.2,7.1M172.7,620.5L173.6,613.6l-6.2,-3.3M179.1,603.3L186.4,606.7l1.7,-8.2M197.6,616.9L197.6,609.8l-7.6,-1.6M215.9,610.3L208.6,613.9l-0.9,9.7M219.4,602.2L223.3,611.0l9.5,-4.5M241.9,612.3L238.9,603.4l-8.9,-0.3M242.4,601.6L252.5,604.3l0.9,-7.2M258.1,609.4L266.0,610.0l1.5,-7.2M279.5,617.4L278.7,609.2l-10.1,1.1M286.9,620.7L284.2,612.3l-9.5,2.1M314.4,602.6L304.6,603.4l2.2,9.3M305.3,607.5L311.1,611.9l6.5,-5.1M320.9,595.8L325.4,604.6l7.9,-6.6M326.0,611.5L335.2,609.3l2.6,-7.4M354.2,602.3L348.9,610.0l4.7,7.3M368.3,599.0L360.9,604.5l3.8,7.5M375.7,608.5L379.9,613.9l7.5,-3.0M385.1,607.4L386.5,614.4l10.0,1.4M408.3,621.1L404.1,611.6l-10.1,-0.2M420.9,605.3L414.1,608.4l4.2,6.0M417.2,607.9L425.6,609.1l1.5,-9.6M431.6,622.8L430.9,614.0l-9.1,0.2M165.0,617.6L157.9,615.8l-2.2,6.4M166.8,622.7L170.6,614.0l-6.0,-3.3M188.4,618.9L181.7,613.5l-3.5,6.4M185.4,608.9L193.3,614.9l5.1,-6.9M201.0,609.6L205.0,616.6l6.8,-1.7M232.7,617.6L226.3,621.2l4.3,5.3M233.4,625.3L237.7,615.9l-6.9,-7.9M250.8,631.2L246.0,626.0l-7.9,2.3M250.7,620.6L259.3,625.7l7.0,-5.5M262.4,612.8L267.3,618.8l6.4,-3.6M276.3,629.7L282.9,622.8l-5.4,-4.1M305.5,626.6L297.2,622.3l-8.2,6.1M307.4,631.9L305.4,625.3l-8.0,1.9M319.9,617.7L313.0,620.9l0.9,6.8M336.9,606.0L331.8,613.3l7.1,4.4M350.6,626.8L344.4,623.9l-3.4,9.4M368.7,613.5L361.6,615.9l1.7,9.9M372.1,631.5L369.5,623.5l-7.1,0.4M373.3,629.7L381.1,624.2l-3.1,-6.2M384.5,608.6L391.9,614.2l6.2,-6.7M418.3,616.1L411.2,617.7l3.0,10.0M423.9,618.5L421.8,626.5l9.4,4.6M436.1,630.1L435.1,619.7l-6.9,-3.7M442.3,622.1L437.1,614.5l-6.2,2.7M163.8,633.5L155.6,634.6l0.9,6.9M167.1,630.4L167.3,637.7l7.9,0.3M176.1,623.4L177.3,631.8l10.1,-1.5M193.4,622.4L186.5,627.8l6.3,6.2M202.1,625.3L197.5,634.9l4.4,5.1M205.6,632.2L212.9,629.1l-4.2,-6.4M223.1,637.2L225.0,628.0l-9.2,-4.8M229.1,618.2L235.0,626.3l8.0,-3.8M245.3,623.9L244.2,633.2l10.0,2.8M273.3,633.2L264.4,630.1l-2.6,10.4M268.8,620.1L274.1,629.3l6.7,-2.7M283.0,622.4L287.9,630.1l6.8,-0.2M293.8,629.2L300.6,631.1l6.6,-6.6M302.1,635.0L312.4,636.6l0.6,-7.3M330.5,621.0L328.9,628.8l6.1,5.6M339.0,626.0L331.8,627.9l2.1,6.6M350.5,628.3L352.4,635.8l9.4,-4.9M370.6,623.4L361.2,628.1l3.5,6.3M362.6,636.6L369.3,637.9l0.7,-9.7M393.8,628.9L390.4,636.3l5.7,4.2M412.8,629.9L404.9,628.3l-0.6,10.3M424.3,645.0L416.5,638.0l-6.1,6.1M412.8,620.0L420.4,624.8l7.1,-4.8M444.2,635.3L434.4,631.7l-5.7,8.3M159.6,644.0L150.8,638.1l-3.1,7.7M146.5,629.4L153.2,636.0l8.6,-1.9M173.2,643.2L165.2,643.1l-2.3,8.4M184.5,631.3L180.6,640.7l6.0,8.1M197.2,646.1L201.8,639.5l-5.2,-7.7M206.8,649.8L214.0,641.9l-3.0,-8.3M219.0,630.4L221.5,636.8l10.1,0.3M232.5,646.4L238.8,640.8l-2.3,-9.9M241.6,649.1L242.7,639.9l-10.0,-1.9M245.1,638.8L252.1,638.8l-1.0,-7.9M255.5,650.0L262.8,643.1l-3.8,-9.3M280.6,636.5L280.7,645.0l10.2,0.7M297.5,645.8L289.6,647.0l2.4,6.2M295.2,645.9L301.8,639.5l-5.7,-7.4M322.1,646.0L312.9,649.1l2.1,10.5M327.7,633.6L330.4,641.5l8.6,-2.6M328.7,638.9L338.9,641.1l-0.1,-8.8M348.0,631.3L349.6,639.0l10.6,-0.1M369.9,630.0L367.9,638.6l9.1,0.8M378.4,643.5L383.5,648.1l5.2,-6.6M384.0,641.7L388.0,647.6l10.3,-0.6M393.7,645.8L400.6,638.3l-6.9,-7.3M421.4,643.4L415.3,638.2l-6.1,3.6M438.3,642.8L429.9,639.1l-4.9,5.5M146.3,661.6L156.2,658.8l-2.8,-9.0M164.8,659.0L171.2,651.8l-6.5,-4.7M176.0,640.0L178.0,648.6l10.1,-0.7M197.3,660.3L189.1,655.0l-3.5,8.2M211.3,650.5L206.8,659.1l4.6,6.3M208.1,655.1L217.0,651.9l-3.3,-8.3M214.4,649.5L220.8,654.6l4.1,-6.2M233.8,655.2L239.4,648.6l-5.9,-4.3M254.6,666.4L256.4,658.9l-7.9,-0.4M253.9,669.7L257.8,660.0l-6.9,-2.6M279.9,641.3L275.4,649.8l6.4,8.1M296.6,642.2L291.0,650.2l5.9,4.4M294.9,645.5L296.8,654.0l9.3,1.5M309.8,652.5L316.3,650.6l-1.5,-7.2M323.0,648.1L320.6,657.4l6.1,5.4M349.7,658.8L340.1,659.6l-4.1,7.6M337.2,655.1L344.4,654.5l-1.7,-9.0M351.7,640.2L356.5,647.2l9.3,-5.3M375.5,661.9L370.5,656.6l-6.2,2.7M378.9,651.6L383.7,660.3l7.7,-3.4M392.4,643.5L396.0,650.2l7.5,-3.6M414.3,660.7L411.6,654.5l-6.4,4.8M411.0,657.0L419.7,657.4l3.4,-7.6M166.1,658.9L160.1,664.4l8.0,7.1M167.4,669.8L170.5,661.8l-6.6,-0.9M179.9,668.1L188.0,670.7l2.5,-7.5M196.9,658.6L190.4,666.9l6.7,3.3M198.8,667.7L208.1,668.9l-0.5,-8.7M215.8,650.2L213.3,659.4l8.3,3.3M236.3,672.8L231.8,666.6l-8.3,2.1M241.6,674.7L246.6,668.5l-5.7,-3.9M267.0,660.7L258.4,661.7l1.6,7.5M277.3,656.7L270.0,663.0l2.8,7.6M287.2,664.3L278.4,661.4l-5.3,8.0M290.2,671.2L293.5,663.6l-8.8,-3.0M305.3,652.6L311.7,661.1l6.9,-2.1M328.2,651.0L323.8,660.1l9.3,4.5M323.5,669.5L325.8,661.4l-9.9,-3.1M353.2,657.1L349.0,662.7l8.3,6.0M363.2,668.8L361.2,661.6l-8.5,2.3M361.5,656.8L366.2,665.3l10.0,0.3M375.2,651.7L375.8,660.5l6.4,3.1M391.6,675.8L386.1,670.7l-10.0,2.8M405.5,669.1L406.7,659.9l-8.9,-1.5M418.9,666.7L417.8,658.8l-6.9,1.7M162.6,667.0L164.3,674.9l8.0,-1.2M173.5,683.2L176.6,676.5l-7.5,-7.6M194.1,676.6L184.8,680.5l1.9,9.9M216.1,667.9L208.0,670.5l-0.8,9.6M211.1,682.8L220.6,678.9l-3.8,-5.9M229.5,681.1L223.1,678.7l-5.7,6.6M225.3,681.5L234.5,679.3l1.1,-6.6M265.3,670.9L257.1,672.7l-2.2,8.5M257.4,672.1L258.1,679.6l7.3,-0.7M267.3,671.6L274.5,675.0l4.4,-8.7M277.7,666.6L284.8,670.8l7.4,-7.5M285.7,673.0L296.1,671.1l-1.1,-9.2M309.1,684.7L314.4,677.9l-6.6,-7.5M316.2,689.0L321.8,681.2l-5.4,-5.1M347.5,681.4L337.6,677.6l-2.5,8.1M338.5,675.3L346.3,678.7l1.4,-8.5M349.4,677.1L358.9,673.7l-1.5,-8.6M362.2,680.9L367.8,677.2l-3.4,-5.8M384.4,675.0L390.8,677.6l6.1,-7.5M390.8,665.0L393.5,673.6l7.2,1.0M409.0,662.1L413.3,670.5l9.1,0.5M426.7,674.8L419.7,673.9l-5.1,8.2M155.0,676.6L156.7,686.9l9.3,2.0M171.4,700.3L170.9,691.2l-7.6,0.0M184.4,692.6L176.3,689.9l-5.6,9.0M206.5,693.1L196.5,692.9l-4.9,9.5M214.6,686.9L206.2,683.9l-6.7,7.4M218.1,701.7L217.3,693.3l-9.2,-1.2M224.4,688.8L229.3,694.3l7.1,-6.5M239.6,689.6L246.6,684.0l-4.8,-7.0M252.6,699.7L260.3,694.4l-0.6,-9.0M254.0,694.2L262.8,691.8l-1.8,-6.9M274.8,701.2L278.2,693.7l-6.1,-6.3M295.3,682.7L297.3,691.4l7.7,-3.9M307.2,680.1L311.3,689.5l7.8,-2.9M322.5,682.8L312.5,684.5l-0.4,9.0M325.8,692.3L334.1,692.2l0.3,-10.7M332.8,677.2L336.2,683.7l8.3,-5.1M362.6,695.8L354.6,693.2l-5.0,5.7M374.8,687.8L368.4,685.2l-4.0,7.0M369.7,681.9L379.9,683.2l0.8,-6.8M402.6,689.5L393.8,692.2l2.6,6.2M402.2,698.7L409.6,692.7l-1.7,-8.7M404.2,691.0L410.3,682.3l-8.0,-4.1M167.0,694.9L161.0,698.1l-0.4,10.6M172.2,700.8L181.2,705.3l3.2,-6.3M192.6,700.6L190.4,693.2l-6.0,3.0M201.0,696.8L204.3,705.8l8.2,0.7M218.4,703.1L214.4,695.2l-9.0,2.0M233.9,686.1L228.7,695.3l7.5,5.2M247.2,705.6L238.8,702.6l-4.4,7.3M265.4,702.6L256.2,703.2l-3.0,10.0M261.3,699.5L269.4,697.4l-1.5,-8.8M266.9,699.2L275.8,703.1l6.4,-8.0M299.0,694.4L289.1,695.9l1.9,9.3M291.0,700.4L295.3,693.9l-5.7,-7.8M302.6,704.2L309.3,703.1l-2.1,-8.3M322.8,691.7L326.0,697.5l8.5,-6.2M340.5,697.5L331.5,694.8l-2.8,7.6M345.9,703.2L355.2,703.1l0.1,-9.3M354.7,700.8L361.3,702.6l5.7,-5.1M373.9,700.3L368.1,703.5l2.1,9.9M389.5,714.0L391.7,704.5l-7.0,-0.8M400.4,703.6L403.2,695.7l-8.9,-5.5M418.2,704.7L410.3,704.1l-5.2,8.8M420.6,688.9L421.2,696.9l7.3,0.4M179.5,711.8L171.6,707.1l-4.2,9.1M182.4,725.7L177.8,717.0l-9.7,-0.9M197.7,696.2L194.0,703.9l10.0,2.5M210.2,705.5L205.0,714.3l5.1,8.1M225.0,719.8L221.0,710.2l-7.2,3.7M242.3,714.2L232.4,712.9l-1.3,7.6M238.4,722.2L241.9,715.8l-8.2,-3.1M261.2,712.4L257.4,706.6l-8.3,0.7M276.8,706.9L270.1,707.2l1.4,8.3M287.7,705.9L278.5,707.6l2.8,6.4M284.6,719.9L288.9,711.9l-8.4,-4.4M294.3,708.3L304.4,710.6l1.6,-7.9M311.2,717.0L313.3,706.6l-10.0,-3.4M332.3,713.6L327.1,708.1l-5.8,5.0M337.8,711.3L344.3,709.7l0.9,-10.0M353.5,725.1L353.1,716.7l-8.1,2.2M356.4,706.1L362.1,711.5l8.2,-5.7M373.3,717.9L374.2,707.5l-7.7,-5.3M394.4,703.2L388.1,708.8l5.0,7.9M400.7,718.3L403.1,711.9l-7.0,-5.2M413.4,714.8L412.5,707.1l-8.6,1.8M422.6,713.5L427.0,708.1l-5.3,-7.3M156.5,726.6L166.4,728.3l4.6,-9.0M176.6,731.8L172.9,722.4l-9.4,-1.0M200.8,715.5L191.8,717.7l-2.1,7.5M200.5,716.0L201.0,724.5l9.6,0.6M221.5,713.6L213.1,719.0l4.0,5.9M216.2,716.9L224.4,722.2l3.7,-5.5M229.2,717.3L235.8,723.5l5.8,-5.4M257.6,711.1L254.4,717.7l9.6,4.1M264.2,730.4L258.0,725.5l-8.7,4.7M268.9,713.6L274.9,716.7l3.2,-6.2M301.4,727.3L290.9,727.1l-0.9,10.1M305.5,718.0L304.2,724.6l7.5,2.4M321.9,716.9L313.4,718.8l1.5,8.9M320.6,709.4L318.7,718.5l8.8,4.7M328.9,718.2L334.5,723.5l5.3,-5.5M340.1,720.6L348.5,717.1l-3.2,-9.5M367.5,712.7L365.5,719.1l6.1,3.4M370.5,728.8L378.7,724.8l-6.1,-8.8M399.8,729.0L390.7,723.8l-8.0,6.4M396.3,720.8L401.6,726.0l5.0,-4.3M417.0,724.7L414.0,715.6l-6.9,2.8M420.8,728.7L423.6,719.7l-7.3,-3.9M172.7,725.5L177.3,731.4l8.0,-6.4M179.9,727.3L187.2,734.2l7.3,-2.8M209.6,736.2L201.5,734.1l-5.4,8.8M200.4,725.6L210.3,728.4l5.5,-5.4M234.3,728.9L226.4,727.6l-4.9,8.2M230.2,718.8L236.4,726.9l9.5,-3.0M255.4,739.1L249.5,733.7l-8.2,2.5M253.4,741.5L259.4,737.0l-5.3,-4.9M276.1,726.1L269.5,727.3l0.9,8.5M283.5,744.2L279.6,737.6l-8.7,0.6M298.1,745.7L300.4,735.9l-5.8,-5.8M316.7,735.0L309.5,728.8l-6.6,3.8M312.6,732.0L320.1,730.0l2.1,-7.0M339.9,736.2L332.0,732.9l-4.0,6.3M345.3,724.5L342.3,731.4l4.5,6.8M353.2,720.0L349.6,727.6l5.7,4.1M367.3,738.3L374.2,735.6l-2.7,-7.4M370.7,719.4L373.7,726.9l8.5,0.4M389.9,735.7L396.0,730.5l-1.6,-6.4M418.8,729.2L409.6,728.7l-0.3,7.0M416.2,722.0L417.9,731.6l9.5,-1.8M421.8,730.2L430.3,734.0l3.8,-8.8M170.7,739.2L163.9,747.1l6.8,5.3M175.1,755.5L170.7,749.3l-6.4,4.5M190.4,734.4L189.6,742.5l7.6,5.6M198.3,738.0L204.5,743.1l7.8,-5.1M212.1,749.3L219.2,750.8l5.3,-7.4M210.2,746.1L219.7,741.5l-0.2,-7.2M251.6,748.5L243.8,746.4l-2.8,7.1M247.2,748.8L252.5,741.2l-5.3,-7.5M259.4,742.0L266.5,743.6l2.2,-7.9M286.3,738.1L278.7,741.8l1.8,9.6M283.5,743.5L281.5,750.7l5.2,5.9M305.7,758.5L303.4,750.7l-7.9,-0.8M307.7,746.6L314.9,741.9l-1.2,-8.3M331.5,751.1L324.0,747.6l-2.3,9.8M342.8,758.1L338.6,750.3l-6.5,3.9M349.6,750.4L343.4,742.9l-5.1,5.4M358.3,754.8L362.9,749.7l-8.0,-6.8M380.3,737.3L379.6,744.9l7.0,3.5M380.4,746.6L388.4,740.7l-6.8,-6.3M394.2,730.9L399.5,738.9l6.8,-3.3M412.9,753.6L412.9,745.2l-7.1,1.8M428.6,740.9L418.1,741.5l-1.6,9.4M432.6,737.4L429.9,746.6l8.8,4.4M170.5,744.8L173.4,754.0l9.1,-5.5M197.2,752.4L188.2,754.9l-1.2,8.2M193.9,753.8L194.0,761.4l7.6,-0.8M201.8,751.1L211.6,754.0l3.8,-8.7M222.7,746.2L219.0,754.3l4.8,7.2M230.5,761.6L233.7,754.5l-5.5,-5.4M246.0,757.1L244.5,749.1l-6.6,-1.1M263.6,758.0L260.4,752.1l-7.2,4.8M278.7,753.0L273.0,758.0l1.4,7.5M289.9,746.1L283.5,753.2l4.0,5.9M289.3,747.7L296.6,750.8l7.2,-7.7M314.8,765.1L307.9,762.3l-1.8,6.9M312.7,762.7L318.9,755.4l-5.6,-6.1M345.1,763.1L335.3,760.7l-2.8,7.6M341.1,766.8L339.0,760.1l-6.6,-0.9M346.3,744.1L354.5,750.5l9.0,-4.0M373.7,755.8L366.8,749.4l-7.1,3.0M376.8,758.9L379.2,751.6l-9.5,-2.6M396.6,757.2L390.9,749.3l-7.3,7.3M419.5,759.1L409.7,756.0l-0.8,9.9M406.0,756.7L412.6,759.1l4.7,-7.6M414.9,746.8L422.9,749.5l7.9,-6.3M161.8,775.7L165.5,769.7l-7.6,-6.3M174.3,772.8L177.7,765.8l-9.1,-5.3M187.8,778.9L185.3,769.2l-7.9,0.2M199.7,760.0L194.9,766.0l5.8,5.2M201.8,766.5L209.0,772.5l6.5,-8.1M220.8,777.9L223.2,770.0l-5.7,-6.2M234.1,764.8L239.8,761.0l-5.2,-8.5M255.3,775.5L256.2,765.2l-7.7,-4.5M265.6,757.3L259.8,765.2l3.0,7.0M261.9,767.2L269.1,771.5l6.1,-7.9M286.3,769.6L281.9,761.8l-5.4,4.6M304.8,753.3L303.6,763.5l5.6,3.8M319.5,760.3L313.0,762.3l-1.9,6.7M333.6,766.0L326.0,768.2l-0.8,10.5M343.4,769.4L339.4,762.1l-8.3,5.3M358.2,767.6L348.7,768.5l-0.1,9.4M372.5,762.9L365.9,769.8l1.8,7.5M366.8,766.9L374.8,768.8l2.4,-7.6M397.5,768.8L390.9,764.2l-5.6,3.6M391.7,769.5L397.4,761.2l-4.8,-8.7M400.0,769.4L409.0,771.2l1.0,-6.9M414.3,760.8L418.5,768.0l6.9,-0.4M429.9,780.4L432.6,772.0l-8.5,-4.9M153.3,776.4L163.2,774.0l-1.9,-9.7M160.8,781.1L169.8,781.6l0.8,-9.0M186.1,791.6L181.0,782.4l-6.0,3.7M204.5,780.6L194.9,781.2l-0.1,7.2M198.6,764.6L200.9,772.7l8.6,-2.0M205.5,772.8L213.7,774.2l0.4,-8.9M233.9,784.5L226.3,783.9l-3.1,8.4M260.6,781.9L251.2,779.3l-4.0,8.7M250.0,791.1L257.1,784.3l-1.8,-8.4M267.2,769.8L272.8,775.6l6.7,-5.7M294.4,769.0L288.0,775.0l5.3,5.8M300.6,766.9L299.9,775.6l6.0,3.3M313.6,784.5L308.6,777.9l-7.6,5.1M320.3,765.8L316.2,774.7l8.7,3.1M342.6,770.2L335.2,773.6l-0.0,6.6M340.7,770.7L343.2,778.0l7.9,0.0M354.8,767.8L356.7,775.3l7.9,-1.8M370.4,773.9L361.4,776.9l-1.2,8.5M386.0,788.1L378.2,783.5l-6.4,4.9M382.6,774.0L389.8,773.5l-0.6,-6.8M398.1,773.3L401.5,783.2l8.5,-3.4M423.2,768.9L422.3,775.9l6.7,0.9M426.7,793.5L426.4,784.4l-9.5,-3.1M169.0,781.3L163.8,788.2l6.2,5.1M183.7,787.6L180.7,795.6l7.3,3.3M189.8,791.8L184.2,786.0l-4.9,7.0M205.3,789.3L197.9,787.6l-2.9,6.8M227.7,787.5L219.0,788.1l3.0,10.1M237.9,789.2L230.1,783.1l-8.9,5.1M236.4,799.6L232.8,791.8l-7.3,4.0M265.3,785.7L256.8,786.0l-2.4,7.9M267.3,787.7L258.0,785.9l-5.6,7.3M270.4,772.5L270.7,783.1l7.9,1.1M285.0,800.4L289.6,794.4l-7.9,-6.7M296.0,792.6L299.0,784.8l-5.1,-4.8M307.5,803.1L306.9,795.6l-8.8,3.0M327.1,787.1L318.6,783.1l-6.4,5.9M334.4,782.6L343.2,787.1l2.6,-6.3M347.6,790.6L354.6,791.7l2.1,-7.9M370.7,803.8L365.6,794.8l-6.7,0.1M361.5,779.8L368.2,784.0l3.8,-7.7M385.2,791.3L380.9,785.3l-9.7,0.4M407.7,801.9L403.2,793.8l-10.1,0.6M410.7,800.2L409.2,793.6l-10.4,0.2M421.1,800.1L424.9,791.7l-9.9,-4.0M170.1,805.6L160.1,802.1l-3.1,9.8M179.8,793.6L173.3,797.3l7.2,7.8M185.7,790.7L179.3,795.5l5.0,5.2M195.5,801.9L190.3,796.1l-8.5,4.1M219.4,803.0L212.6,798.2l-3.8,7.6M219.2,791.2L218.9,799.1l9.7,1.3M223.6,797.6L232.4,802.5l5.3,-5.8M239.3,797.2L245.7,805.1l7.4,-5.3M255.6,804.1L252.4,795.5l-10.0,3.4M265.6,800.0L271.4,794.4l-3.3,-8.6M284.1,791.5L285.3,800.1l9.5,0.6M290.9,802.2L300.1,806.9l2.8,-8.7M309.0,813.2L310.7,804.8l-10.2,-1.7M309.2,787.1L312.2,797.0l8.3,1.4M324.1,807.3L324.7,797.7l-10.1,-1.1M344.5,791.8L347.2,798.2l9.0,-5.8M355.7,811.6L354.0,804.7l-10.1,-1.9M364.4,803.6L366.0,794.4l-10.7,-0.3M376.9,794.5L383.3,802.1l6.3,-3.7M395.2,788.7L392.5,796.9l7.1,4.9M402.8,788.3L406.3,797.2l9.4,0.4M420.1,797.7L423.2,803.9l9.6,-3.5M417.7,792.9L423.6,801.3l9.3,-0.5M169.9,816.1L163.7,808.8l-5.2,5.3M183.4,801.1L177.3,807.5l6.3,6.2M191.8,798.7L195.8,806.4l8.3,-3.2M198.5,816.8L206.9,810.9l-1.6,-6.8M201.2,821.2L207.1,812.9l-7.3,-6.0M221.4,814.6L226.7,809.7l-8.8,-5.8M237.3,810.6L232.1,815.7l1.7,8.5M240.6,812.7L250.5,810.3l3.3,-10.1M265.5,800.9L262.7,810.4l7.7,2.4M277.5,805.6L280.7,812.8l10.3,0.0M276.3,803.8L282.0,810.7l8.7,-0.8M310.0,816.0L305.4,810.2l-10.3,2.4M313.1,823.5L313.2,816.1l-7.4,-2.9M314.5,811.0L320.8,806.1l-3.5,-8.4M341.3,796.5L341.0,805.7l10.2,2.9M344.2,822.2L349.2,815.3l-7.5,-7.0M351.6,808.8L355.9,817.0l7.8,-3.9M380.3,816.4L373.3,812.5l-6.3,3.5M400.5,817.1L391.5,813.6l-5.7,4.8M403.5,817.1L397.2,812.2l-4.3,5.9M404.5,802.4L411.9,809.2l5.0,-7.7M172.5,831.3L164.7,824.9l-7.0,7.0M176.8,828.2L171.9,821.7l-7.9,0.7M176.7,811.0L179.3,818.4l7.5,-2.1M200.7,818.9L192.2,824.1l3.8,6.5M195.1,821.5L201.9,823.5l0.3,-8.3M227.2,821.4L220.0,828.5l6.3,4.4M225.1,825.8L231.1,830.3l4.8,-6.9M243.9,826.9L240.8,819.7l-8.9,5.6M266.4,829.0L258.4,829.8l2.7,8.4M270.8,832.6L262.7,826.3l-6.1,3.4M274.7,825.0L281.1,827.3l1.0,-8.3M291.5,827.7L292.8,819.7l-9.7,-3.4M292.0,830.1L301.9,828.7l-1.4,-7.4M316.5,819.9L320.5,829.0l6.1,-3.4M332.4,810.2L336.4,818.7l9.3,-3.7M336.6,820.2L343.2,828.3l6.8,-4.8M361.5,820.2L353.7,823.4l-1.4,9.5M374.2,830.3L370.6,824.0l-10.2,2.4M392.8,824.4L384.9,826.8l-0.4,7.0M391.4,824.4L385.7,820.8l-6.4,3.8M398.8,821.9L405.4,827.3l3.4,-5.8M419.7,816.4L415.1,823.1l6.6,7.7M154.6,843.5L153.7,833.4l-9.6,0.1M155.3,837.4L159.5,830.0l-3.6,-5.8M173.6,830.1L173.5,839.0l7.4,-1.1M191.1,839.5L184.5,837.0l-3.9,5.7M198.5,826.0L195.8,834.1l9.0,2.8M213.2,840.1L211.2,833.2l-7.8,-0.9M217.0,821.1L222.4,830.3l7.7,-1.8M231.6,828.9L234.9,834.9l8.0,-3.3M251.2,826.1L246.6,832.3l4.2,5.3M264.9,842.8L259.5,833.9l-8.4,6.4M278.5,845.6L281.1,835.9l-8.0,-5.1M290.3,825.6L289.1,832.9l6.6,0.7M302.8,830.4L295.9,830.4l-3.5,5.7M319.2,832.5L310.6,838.3l4.9,4.7M318.0,828.7L321.3,836.9l9.6,-4.6M344.8,838.2L342.9,828.9l-7.1,-2.9M354.0,838.9L344.6,835.3l-1.2,7.3M361.1,841.1L361.0,830.8l-10.7,0.3M372.1,831.6L380.1,829.7l-2.1,-7.6M385.7,842.6L384.9,834.0l-9.8,2.6M407.8,839.1L403.9,830.4l-9.1,4.8M400.0,827.5L407.5,829.9l5.4,-6.6M147.8,854.5L157.2,850.6l0.4,-8.2M159.8,850.1L164.8,845.5l-2.9,-8.2M193.1,848.1L185.3,851.7l2.7,6.8M188.4,849.3L193.5,844.4l-2.9,-8.2M192.9,848.3L201.7,844.9l2.3,-10.2M217.0,846.1L222.4,851.7l7.5,-6.9M240.0,853.0L236.8,843.5l-6.9,0.2M254.3,850.5L249.4,845.1l-8.6,5.4M260.8,838.4L261.2,848.8l9.6,-2.3M264.6,852.2L267.1,845.8l-5.6,-4.0M280.0,841.7L280.4,852.1l7.8,1.6M292.6,850.9L295.8,842.2l-5.5,-6.4M296.5,840.2L304.0,844.8l2.3,-6.6M315.0,842.7L323.3,846.4l3.9,-5.4M334.4,861.5L329.0,852.6l-7.2,5.1M354.2,839.8L344.1,839.7l-3.1,7.2M358.4,836.8L357.8,845.7l6.7,0.3M376.7,852.6L373.9,844.9l-9.9,2.7M366.0,848.4L373.7,846.9l-0.4,-9.5M379.6,838.0L387.8,840.3l2.7,-7.1M414.7,832.1L410.4,841.4l5.9,4.4M416.1,835.8L411.5,842.4l4.4,6.8M166.9,865.5L163.9,858.3l-8.3,1.5M170.1,865.2L178.5,858.8l-5.1,-6.5M199.5,851.5L191.9,854.4l1.4,9.8M188.4,854.0L196.8,853.5l3.1,-9.5M218.4,867.4L218.7,859.5l-6.8,-3.4M239.2,854.2L232.0,859.7l1.9,7.6M236.7,862.9L244.0,860.9l-1.6,-6.7M248.9,846.5L247.6,855.4l9.2,1.2M276.6,850.3L267.7,853.9l2.5,10.0M271.6,856.5L277.7,860.3l6.7,-4.2M292.2,870.5L293.5,863.8l-7.5,-0.4M295.3,853.4L305.4,853.5l1.0,-6.9M326.5,857.2L317.7,861.6l-0.1,10.2M334.5,856.3L326.7,857.5l-2.6,8.0M331.0,864.9L330.1,855.4l-6.9,-3.1M339.3,866.2L347.1,859.8l-5.6,-4.8M359.0,859.8L365.8,857.0l-4.0,-6.3M384.6,854.1L377.1,856.8l2.7,8.4M384.1,866.2L383.0,856.6l-6.4,2.1M388.5,849.6L394.6,856.5l7.6,-1.9M417.0,863.3L415.8,856.0l-7.7,0.9M429.4,845.7L422.3,851.6l5.3,8.7M168.1,870.8L161.5,866.2l-3.9,8.0M172.0,883.6L167.4,875.2l-8.1,6.6M193.8,874.5L185.6,875.2l-0.6,9.0M201.1,873.8L198.1,865.8l-10.5,0.3M209.4,859.7L201.5,863.1l-0.0,8.0M220.7,876.9L224.6,869.4l-7.1,-6.3M236.1,866.6L229.3,863.8l-2.5,7.7M238.9,873.9L244.7,865.9l-7.9,-3.6M265.9,865.2L258.7,865.4l1.0,7.2M266.8,876.5L264.3,868.7l-6.9,3.6M281.6,867.0L288.1,864.7l2.2,-9.0M295.1,880.5L293.8,871.6l-7.3,-2.2M303.4,874.6L310.3,873.8l-2.8,-9.0M317.2,878.5L317.4,868.0l-6.9,-0.1M333.0,866.9L326.3,867.1l-2.1,8.1M349.0,872.3L343.9,863.5l-9.0,0.8M355.5,866.0L354.1,875.4l9.4,0.4M363.0,869.1L372.9,865.2l-4.3,-9.4M374.3,874.9L384.0,870.4l-3.7,-6.8M394.9,864.6L394.2,873.8l5.8,3.4M406.4,856.3L402.7,864.0l9.2,4.6M408.1,872.8L415.0,866.6l-2.7,-6.9M163.6,885.3L156.8,878.8l-4.0,6.4M167.2,871.8L162.2,878.1l2.2,6.4M161.8,880.6L171.8,876.9l-3.1,-6.5M187.9,879.5L182.4,885.3l3.7,6.1M203.9,880.0L197.2,874.5l-7.2,7.9M223.0,883.9L214.7,877.5l-9.0,4.4M232.6,871.4L229.1,877.4l9.7,4.4M250.3,883.9L242.3,884.9l1.6,10.1M247.8,867.4L246.9,875.3l7.0,-0.8M261.9,873.9L256.5,878.7l1.6,10.3M278.1,883.8L273.2,878.5l-7.9,4.4M273.9,887.9L283.4,886.4l1.8,-8.8M292.0,888.3L298.9,883.4l-1.3,-8.5M312.4,871.3L316.0,877.9l10.4,-2.5M320.7,879.1L326.5,874.2l-1.2,-6.6M330.6,878.5L335.8,882.7l9.7,-4.3M350.9,891.7L343.4,884.3l-8.3,5.2M358.9,886.8L367.0,885.3l-3.6,-9.2M368.9,867.2L374.6,873.7l7.2,-7.6M381.8,879.7L388.5,874.3l-3.4,-6.0M397.8,873.1L396.3,883.0l8.4,2.6M410.4,887.9L409.7,877.2l-10.5,0.9M422.2,894.3L423.8,884.6l-6.5,-2.3M161.8,881.0L164.9,887.9l7.4,-3.9M172.7,895.1L166.8,888.2l-6.3,4.6M178.8,883.3L186.9,888.6l8.2,-4.2M193.9,905.6L193.7,896.9l-10.2,1.6M207.4,899.1L201.1,896.7l-4.9,8.6M233.5,899.1L226.2,893.5l-6.3,7.8M238.6,894.0L234.3,887.9l-8.8,5.7M240.1,898.1L246.1,891.6l-5.3,-6.6M254.2,886.4L254.5,895.7l10.6,-0.7M266.6,894.0L273.3,892.2l-1.8,-9.7M280.6,888.9L287.4,886.6l-2.3,-7.8M289.2,896.9L293.7,890.7l-5.0,-7.0M305.3,904.1L309.8,895.4l-4.8,-6.5M311.6,887.1L318.1,892.4l5.8,-6.6M342.5,903.9L337.1,896.5l-7.4,3.3M349.5,896.8L340.4,891.9l-5.9,8.6M358.0,882.1L357.9,892.5l6.6,3.6M378.4,891.7L371.9,896.4l2.1,6.9M372.9,897.4L374.2,888.9l-8.6,-1.5M391.8,875.0L389.9,885.0l8.0,1.2M411.3,882.9L408.3,890.7l7.7,1.4M418.0,884.3L417.4,894.1l7.5,5.2M426.7,900.4L423.0,893.2l-10.2,1.5M144.7,907.7L155.0,907.7l-0.1,-9.8M165.7,906.4L165.1,899.2l-7.3,-1.5M169.7,908.6L172.0,898.3l-7.0,-5.5M187.3,896.7L188.2,904.3l8.3,0.5M189.6,914.8L195.2,909.5l-5.6,-5.8M212.8,910.5L215.6,902.8l-9.2,-2.1M211.8,906.9L219.6,902.1l-3.7,-5.7M253.1,907.3L244.1,907.9l-2.1,9.7M262.5,899.4L254.6,900.3l-3.3,6.4M263.9,892.9L267.2,902.0l7.0,-4.6M267.1,912.2L268.8,905.0l-6.0,-5.2M287.7,903.7L283.3,909.5l4.8,6.5M303.3,903.5L297.7,899.7l-6.3,2.9M319.0,909.4L313.8,903.6l-9.8,2.5M340.2,909.6L329.9,909.1l-1.6,8.3M337.5,891.6L331.8,897.1l6.2,7.7M343.0,911.1L348.3,904.7l-8.2,-5.7M365.2,914.7L367.5,906.9l-8.0,-2.9M358.8,899.5L367.0,904.1l8.5,-4.9M387.1,907.0L391.6,900.0l-4.8,-4.6M400.5,902.5L391.9,908.1l2.6,8.8M417.6,899.6L410.4,901.3l1.9,8.2M421.4,917.6L420.3,909.5l-6.5,-2.1M436.3,915.4L433.1,906.9l-7.0,1.3M165.2,902.1L158.9,908.5l5.0,8.2M171.7,926.7L176.2,919.2l-3.1,-5.9M175.3,903.7L177.5,912.3l10.7,0.1M195.9,903.0L197.3,913.2l8.1,1.8M197.4,904.6L201.9,911.3l5.8,-4.8M232.1,911.5L222.5,915.6l3.5,9.0M239.3,915.9L233.4,912.7l-3.9,7.0M237.7,919.9L243.3,913.0l-3.0,-7.4M262.8,900.7L259.3,909.4l7.4,6.8M273.1,905.5L267.6,909.9l2.7,7.7M281.5,920.4L277.9,914.8l-9.1,4.7M286.7,920.9L287.5,913.5l-8.8,-4.8M299.7,917.3L307.7,920.6l6.0,-4.6M325.1,907.3L317.8,907.9l-2.5,8.1M332.5,924.3L327.6,915.1l-7.1,1.6M353.9,922.9L348.6,915.9l-5.7,4.8M359.8,916.7L361.6,908.5l-7.4,-3.2M368.6,920.9L368.7,911.7l-8.9,0.6M378.4,925.1L381.7,915.8l-10.2,-1.9M386.1,905.0L392.2,911.7l5.9,-3.7M411.3,918.8L409.5,911.2l-8.8,3.5M406.1,916.7L416.1,914.5l1.1,-9.2M157.2,922.7L161.0,931.2l8.7,0.2M162.4,931.1L171.8,928.9l0.6,-9.3M201.2,921.1L193.1,921.9l1.2,8.6M209.6,937.6L207.5,929.0l-7.5,3.2M210.9,936.9L212.7,927.7l-7.0,-2.6M214.1,930.6L220.8,922.8l-5.4,-5.5M233.3,917.5L241.5,921.5l6.5,-7.8M262.2,931.6L257.3,922.9l-7.7,5.9M250.7,920.9L257.5,929.1l5.4,-4.8M281.9,926.1L271.6,927.2l-0.9,8.2M286.7,916.3L290.5,922.7l6.6,-2.7M306.2,921.4L300.8,925.7l7.2,7.4M313.4,920.4L311.1,927.1l6.4,8.2M318.4,923.8L322.6,929.4l7.6,-1.2M352.4,924.0L342.8,927.1l1.4,6.7M340.9,932.7L344.3,926.7l-4.8,-6.9M373.4,926.3L367.7,922.1l-7.1,3.0M367.5,921.0L373.0,929.3l7.3,-3.4M383.0,913.9L384.3,924.3l9.3,-0.7M401.3,916.6L403.0,926.8l10.1,-1.7M416.9,936.2L417.1,929.6l-6.2,-3.7M415.7,935.2L421.4,927.5l-4.2,-5.7M168.8,932.9L176.4,931.2l-1.2,-9.9M187.2,948.7L188.3,941.2l-7.4,-2.2M191.9,923.6L189.3,930.0l5.3,4.7M212.6,929.0L211.0,936.2l8.3,5.9M218.5,948.0L217.2,937.6l-9.4,1.9M222.9,924.3L227.2,930.9l7.8,-0.4M249.6,945.5L243.1,939.4l-4.7,5.1M242.3,930.4L252.8,930.6l0.2,-7.9M277.4,935.9L271.1,938.7l3.9,5.9M274.0,942.9L282.1,940.4l-0.7,-7.5M293.7,930.2L288.6,938.5l6.4,4.3M315.3,938.0L306.5,943.1l4.5,5.3M315.2,934.3L314.1,942.4l6.4,1.8M327.8,933.7L330.0,942.6l9.0,-1.0M356.1,937.7L345.8,935.7l-2.5,8.1M353.7,947.8L358.5,941.5l-7.6,-3.8M378.9,934.0L371.5,932.9l-0.4,9.9M385.3,944.7L381.4,936.0l-6.7,4.9M393.2,947.5L388.0,942.7l-7.6,7.4M407.7,942.6L400.5,936.6l-6.1,4.4M417.4,945.0L415.2,937.7l-6.0,3.6M430.5,940.0L431.0,932.4l-6.7,0.6M152.2,954.7L159.1,949.2l-5.6,-5.8M174.2,952.0L174.5,942.8l-6.2,-2.6M176.2,955.8L182.7,953.6l-2.0,-7.6M189.4,961.1L197.1,954.5l-4.8,-5.1M212.3,954.2L209.3,944.8l-6.1,3.2M211.4,944.3L219.5,942.0l-4.0,-7.0M253.1,943.3L244.8,949.4l4.2,9.3M261.8,955.2L254.3,954.1l-4.7,9.1M260.1,959.6L265.1,950.2l-7.4,-6.0M275.0,951.0L281.9,947.2l-3.1,-7.5M285.9,961.3L284.2,952.8l-6.9,3.0M293.9,950.9L303.5,954.0l7.2,-6.8M307.9,934.6L312.2,942.0l8.6,-4.0M318.3,954.2L321.3,945.2l-6.1,-5.2M345.4,952.8L336.8,948.4l-4.4,6.4M361.9,947.0L352.7,950.2l0.1,7.1M360.9,944.6L360.9,952.2l9.2,2.4M375.3,963.6L370.1,954.8l-7.3,0.5M388.8,946.9L380.6,946.1l-1.2,8.6M388.3,946.1L395.0,947.5l0.6,-9.8M422.0,948.6L413.4,950.0l-2.8,7.6M426.8,958.6L419.2,954.4l-6.0,4.9M152.7,962.1L162.1,961.5l2.8,-6.9M181.4,955.2L174.0,962.0l4.9,9.0M180.6,947.5L182.9,955.6l6.9,-3.7M196.5,948.6L202.1,953.6l4.0,-6.7M209.1,973.4L211.8,965.9l-7.4,-5.0M212.6,962.5L219.9,958.6l-1.8,-7.9M222.4,951.5L232.6,953.3l1.1,-9.3M237.5,970.5L243.6,965.6l-3.9,-7.6M243.7,968.4L250.3,962.7l-3.6,-9.3M256.5,953.1L262.7,955.9l4.1,-6.1M273.5,962.6L281.7,962.5l2.8,-9.7M294.3,970.0L290.2,963.0l-9.8,0.7M309.0,958.3L300.2,956.8l0.5,8.7M309.3,948.7L316.5,953.1l6.5,-4.1M331.8,967.7L325.0,960.1l-8.5,1.6M353.4,969.0L348.4,964.3l-6.5,4.9M358.8,969.8L352.1,963.0l-6.1,4.1M367.6,956.8L368.5,964.0l9.5,2.2M378.6,969.2L380.6,959.2l-7.1,-2.3M387.9,961.3L390.4,952.7l-5.0,-5.8M400.2,957.1L410.5,956.8l-1.7,-8.3M415.2,962.5L418.3,953.9l-9.7,-2.9M435.4,965.5L424.9,965.9l-4.2,9.1M179.8,968.3L172.4,968.3l-2.3,6.8M178.3,971.5L185.8,964.1l-4.2,-6.6M210.2,971.9L205.7,966.8l-7.3,1.2M198.7,972.8L208.2,972.9l3.1,-10.0M228.6,958.3L223.5,964.6l5.5,3.9M242.6,976.6L237.3,971.1l-9.2,4.9M255.6,972.4L248.9,976.6l3.5,6.6M267.9,973.7L259.2,968.6l-6.1,6.3M263.9,965.3L270.2,967.8l4.4,-7.8M285.1,978.1L286.9,971.4l-5.7,-6.1M292.4,986.9L294.5,976.5l-5.4,-4.8M303.5,969.5L310.1,971.3l0.4,-8.4M329.5,970.0L323.4,972.6l5.4,8.1M334.6,971.5L341.4,970.1l-3.6,-9.0M358.6,973.2L351.1,969.2l-5.5,6.9M371.8,968.1L364.6,965.1l-3.2,5.9M367.4,970.1L373.7,965.8l-0.8,-7.8M389.6,966.6L389.9,975.2l9.0,-2.5M405.1,972.4L397.8,967.9l-2.8,6.7M409.6,979.7L405.8,972.2l-8.4,5.1M421.6,957.7L422.7,966.9l9.4,-2.9M152.3,976.4L162.7,976.0l-0.9,-8.0M180.8,976.9L170.3,977.1l-2.2,6.5M189.2,975.9L184.0,981.0l6.8,5.3M202.5,974.7L198.8,982.1l6.1,8.8M216.6,978.5L211.6,986.3l5.2,7.9M218.7,990.0L220.7,980.3l-8.1,-2.4M243.1,980.9L235.1,987.7l7.0,6.2M257.7,982.6L249.8,976.4l-4.3,9.1M259.2,979.2L263.0,987.1l10.3,-0.1M272.7,996.4L267.6,987.0l-8.3,2.8M284.0,980.7L276.0,980.3l-4.4,7.2M291.2,980.3L287.3,988.5l9.4,2.9M297.5,984.9L304.8,986.3l5.0,-7.6M309.5,980.2L314.3,984.9l6.0,-5.2M336.6,978.4L329.1,982.2l3.0,9.2M355.1,986.5L347.3,985.0l-4.6,6.4M361.5,993.5L360.5,984.3l-8.1,-4.1M377.9,978.1L370.7,975.8l-2.9,6.1M379.8,971.8L382.8,980.7l9.1,-0.5M387.1,986.5L389.5,978.1l-6.0,-4.6M409.8,975.2L402.4,981.2l6.0,6.2M403.9,991.9L413.1,987.3l-3.2,-8.7" fill="none" stroke="#cecece" stroke-width="1.9" stroke-linecap="round" stroke-linejoin="round"/>
<path d="M155.6,585.1L153.7,587.7l1.5,2.8M160.4,590.0L164.2,590.6l0.1,-4.3M177.7,586.2L180.2,588.3l2.3,-1.6M185.5,587.9L188.8,589.0l3.0,-2.8M211.8,591.6L207.4,591.1l-0.1,3.5M212.1,589.7L211.1,586.1l-4.3,0.1M227.9,589.4L231.9,590.8l1.0,-4.3M238.1,585.9L239.3,588.9l2.9,-0.4M256.4,583.6L257.3,580.4l-4.0,-0.7M253.2,585.2L256.8,587.5l2.5,-3.7M278.9,583.6L282.0,583.4l-0.9,-3.4M285.6,583.2L282.9,579.8l-3.4,0.4M296.4,590.2L300.2,587.9l-1.0,-3.5M317.1,579.3L315.2,582.5l2.1,1.9M321.8,579.0L325.6,579.5l-0.2,-3.6M338.2,586.7L334.8,588.8l3.0,3.3M351.9,587.0L350.4,583.6l-3.1,1.2M362.6,577.6L365.1,579.6l2.7,-3.2M374.3,592.6L372.8,588.7l-3.4,1.1M381.5,580.6L381.5,583.8l3.0,0.4M398.0,591.7L394.1,590.2l-1.4,3.6M406.9,578.0L408.5,581.0l3.0,-1.7M423.9,588.0L421.7,591.7l2.1,4.0M437.9,589.8L441.3,591.8l3.1,-2.0M162.5,591.7L159.6,594.4l1.1,4.2M173.9,596.0L176.2,598.4l2.5,-3.0M182.7,607.4L181.9,603.3l-3.5,0.8M192.1,589.3L193.3,593.2l4.0,-1.8M212.1,587.4L212.0,590.7l3.2,-0.6M221.3,595.1L218.9,596.9l2.3,1.9M238.3,594.9L237.0,591.7l-3.6,1.4M246.7,592.7L242.7,593.1l-0.4,3.4M255.8,602.5L255.1,598.7l-3.4,-0.9M266.1,598.9L269.1,600.1l1.8,-3.2M274.8,593.0L275.7,596.3l4.1,1.3M288.3,593.1L290.5,596.8l4.0,-1.0M306.2,598.5L309.2,598.2l-1.4,-3.9M314.9,600.2L312.9,602.5l1.7,3.9M333.7,599.6L335.2,603.4l3.0,-2.0M341.1,599.2L337.6,600.7l1.6,3.9M351.6,602.3L351.9,598.9l-3.3,-0.5M361.8,600.4L361.9,597.3l-3.6,-1.6M379.2,598.0L382.2,597.5l1.1,-2.8M395.2,595.6L397.8,597.5l1.6,-2.7M403.8,590.2L401.9,593.7l3.1,1.7M420.5,591.9L417.9,594.2l1.6,2.6M429.0,598.0L426.6,601.0l2.5,2.6M158.6,617.4L155.5,614.9l-2.3,3.2M171.9,608.2L169.4,605.1l-3.0,3.0M173.2,616.5L173.6,613.6l-2.6,-1.4M183.3,605.3L186.4,606.7l0.7,-3.5M197.6,612.8L197.6,609.8l-3.2,-0.7M211.6,612.4L208.6,613.9l-0.4,4.1M221.7,607.3L223.3,611.0l4.0,-1.9M240.1,607.1L238.9,603.4l-3.8,-0.1M248.2,603.2L252.5,604.3l0.4,-3.0M262.7,609.7L266.0,610.0l0.6,-3.0M279.0,612.6L278.7,609.2l-4.3,0.5M285.3,615.8L284.2,612.3l-4.0,0.9M308.7,603.0L304.6,603.4l0.9,3.9M308.7,610.1L311.1,611.9l2.7,-2.1M323.5,600.9L325.4,604.6l3.3,-2.8M331.4,610.3L335.2,609.3l1.1,-3.1M351.1,606.8L348.9,610.0l2.0,3.1M364.0,602.2L360.9,604.5l1.6,3.2M378.2,611.7L379.9,613.9l3.2,-1.3M385.9,611.5L386.5,614.4l4.2,0.6M405.8,615.6L404.1,611.6l-4.3,-0.1M416.9,607.1L414.1,608.4l1.7,2.5M422.1,608.6L425.6,609.1l0.6,-4.0M431.2,617.7L430.9,614.0l-3.8,0.1M160.9,616.6L157.9,615.8l-0.9,2.7M169.0,617.7L170.6,614.0l-2.5,-1.4M184.5,615.8L181.7,613.5l-1.5,2.7M190.0,612.4L193.3,614.9l2.1,-2.9M203.3,613.6L205.0,616.6l2.9,-0.7M229.0,619.7L226.3,621.2l1.8,2.2M235.9,619.9L237.7,615.9l-2.9,-3.3M248.0,628.2L246.0,626.0l-3.3,0.9M255.7,623.6L259.3,625.7l2.9,-2.3M265.3,616.3L267.3,618.8l2.7,-1.5M280.1,625.7L282.9,622.8l-2.3,-1.7M300.7,624.1L297.2,622.3l-3.5,2.5M306.2,628.1L305.4,625.3l-3.4,0.8M315.9,619.6L313.0,620.9l0.4,2.8M334.0,610.3L331.8,613.3l3.0,1.8M347.0,625.1L344.4,623.9l-1.4,3.9M364.6,614.9L361.6,615.9l0.7,4.1M370.6,626.9L369.5,623.5l-3.0,0.2M377.8,626.5L381.1,624.2l-1.3,-2.6M388.8,611.8L391.9,614.2l2.6,-2.8M414.1,617.0L411.2,617.7l1.2,4.2M422.7,623.1L421.8,626.5l4.0,1.9M435.5,624.1L435.1,619.7l-2.9,-1.6M439.3,617.7L437.1,614.5l-2.6,1.1M159.0,634.1L155.6,634.6l0.4,2.9M167.2,634.6L167.3,637.7l3.3,0.1M176.8,628.3L177.3,631.8l4.3,-0.6M189.4,625.5L186.5,627.8l2.6,2.6M199.4,630.9L197.5,634.9l1.9,2.2M209.8,630.4L212.9,629.1l-1.8,-2.7M224.2,631.9L225.0,628.0l-3.8,-2.0M232.5,622.9L235.0,626.3l3.4,-1.6M244.6,629.3L244.2,633.2l4.2,1.2M268.1,631.4L264.4,630.1l-1.1,4.4M271.9,625.4L274.1,629.3l2.8,-1.1M285.8,626.8L287.9,630.1l2.8,-0.1M297.7,630.3L300.6,631.1l2.8,-2.8M308.1,635.9L312.4,636.6l0.2,-3.1M329.6,625.5L328.9,628.8l2.5,2.3M334.8,627.1L331.8,627.9l0.9,2.8M351.6,632.7L352.4,635.8l3.9,-2.0M365.1,626.1L361.2,628.1l1.5,2.6M366.5,637.4L369.3,637.9l0.3,-4.1M391.8,633.2L390.4,636.3l2.4,1.8M408.2,629.0L404.9,628.3l-0.3,4.3M419.8,640.9L416.5,638.0l-2.6,2.6M417.2,622.8L420.4,624.8l3.0,-2.0M438.5,633.2L434.4,631.7l-2.4,3.5M154.5,640.6L150.8,638.1l-1.3,3.2M150.4,633.3L153.2,636.0l3.6,-0.8M168.6,643.1L165.2,643.1l-1.0,3.5M182.2,636.7L180.6,640.7l2.5,3.4M199.9,642.2L201.8,639.5l-2.2,-3.2M211.0,645.3L214.0,641.9l-1.2,-3.5M220.5,634.1L221.5,636.8l4.2,0.1M236.1,643.1L238.8,640.8l-1.0,-4.2M242.2,643.8L242.7,639.9l-4.2,-0.8M249.1,638.8L252.1,638.8l-0.4,-3.3M259.7,646.0L262.8,643.1l-1.6,-3.9M280.6,641.4L280.7,645.0l4.3,0.3M292.9,646.5L289.6,647.0l1.0,2.6M299.0,642.2L301.8,639.5l-2.4,-3.1M316.8,647.8L312.9,649.1l0.9,4.4M329.3,638.2L330.4,641.5l3.6,-1.1M334.6,640.2L338.9,641.1l-0.0,-3.7M348.9,635.8L349.6,639.0l4.5,-0.0M368.8,634.9L367.9,638.6l3.8,0.3M381.4,646.2L383.5,648.1l2.2,-2.8M386.3,645.1L388.0,647.6l4.3,-0.3M397.7,641.5L400.6,638.3l-2.9,-3.1M417.8,640.4L415.3,638.2l-2.6,1.5M433.4,640.7L429.9,639.1l-2.1,2.3M152.0,660.0L156.2,658.8l-1.2,-3.8M168.5,654.8L171.2,651.8l-2.7,-2.0M177.2,645.0L178.0,648.6l4.3,-0.3M192.5,657.2L189.1,655.0l-1.5,3.4M208.7,655.5L206.8,659.1l1.9,2.7M213.2,653.2L217.0,651.9l-1.4,-3.5M218.1,652.5L220.8,654.6l1.7,-2.6M237.0,651.3L239.4,648.6l-2.5,-1.8M255.7,662.1L256.4,658.9l-3.3,-0.2M256.2,664.1L257.8,660.0l-2.9,-1.1M277.3,646.3L275.4,649.8l2.7,3.4M293.3,646.8L291.0,650.2l2.5,1.8M296.0,650.5L296.8,654.0l3.9,0.6M313.6,651.4L316.3,650.6l-0.6,-3.0M321.6,653.5L320.6,657.4l2.6,2.3M344.2,659.3L340.1,659.6l-1.7,3.2M341.3,654.7L344.4,654.5l-0.7,-3.8M354.5,644.3L356.5,647.2l3.9,-2.2M372.6,658.9L370.5,656.6l-2.6,1.1M381.7,656.6L383.7,660.3l3.2,-1.4M394.5,647.4L396.0,650.2l3.2,-1.5M412.7,657.1L411.6,654.5l-2.7,2.0M416.1,657.3L419.7,657.4l1.4,-3.2M162.6,662.1L160.1,664.4l3.3,3.0M169.2,665.2L170.5,661.8l-2.8,-0.4M184.6,669.6L188.0,670.7l1.0,-3.1M193.1,663.4L190.4,666.9l2.8,1.4M204.2,668.4L208.1,668.9l-0.2,-3.7M214.3,655.5L213.3,659.4l3.5,1.4M233.7,669.2L231.8,666.6l-3.5,0.9M244.5,671.1L246.6,668.5l-2.4,-1.6M262.0,661.3L258.4,661.7l0.7,3.1M273.1,660.4L270.0,663.0l1.2,3.2M282.1,662.6L278.4,661.4l-2.2,3.4M292.1,666.8L293.5,663.6l-3.7,-1.2M309.0,657.5L311.7,661.1l2.9,-0.9M325.6,656.3L323.8,660.1l3.9,1.9M324.8,664.8L325.8,661.4l-4.2,-1.3M350.8,660.4L349.0,662.7l3.5,2.5M362.0,664.6L361.2,661.6l-3.6,0.9M364.2,661.7L366.2,665.3l4.2,0.1M375.6,656.8L375.8,660.5l2.7,1.3M388.4,672.8L386.1,670.7l-4.2,1.2M406.2,663.8L406.7,659.9l-3.7,-0.6M418.3,662.1L417.8,658.8l-2.9,0.7M163.6,671.6L164.3,674.9l3.4,-0.5M175.3,679.3L176.6,676.5l-3.1,-3.2M188.7,678.9L184.8,680.5l0.8,4.2M211.4,669.4L208.0,670.5l-0.3,4.0M216.6,680.6L220.6,678.9l-1.6,-2.5M225.8,679.7L223.1,678.7l-2.4,2.8M230.7,680.2L234.5,679.3l0.5,-2.8M260.5,672.0L257.1,672.7l-0.9,3.6M257.8,676.5L258.1,679.6l3.1,-0.3M271.4,673.6L274.5,675.0l1.9,-3.6M281.8,669.0L284.8,670.8l3.1,-3.1M291.7,671.9L296.1,671.1l-0.5,-3.9M312.1,680.8L314.4,677.9l-2.8,-3.2M319.4,684.5L321.8,681.2l-2.3,-2.1M341.8,679.2L337.6,677.6l-1.0,3.4M343.0,677.3L346.3,678.7l0.6,-3.6M354.9,675.1L358.9,673.7l-0.6,-3.6M365.5,678.8L367.8,677.2l-1.4,-2.5M388.1,676.5L390.8,677.6l2.6,-3.2M392.3,670.0L393.5,673.6l3.0,0.4M411.5,667.0L413.3,670.5l3.8,0.2M422.7,674.3L419.7,673.9l-2.2,3.4M156.0,682.6L156.7,686.9l3.9,0.8M171.1,695.0L170.9,691.2l-3.2,0.0M179.7,691.0L176.3,689.9l-2.3,3.8M200.7,693.0L196.5,692.9l-2.1,4.0M209.7,685.1L206.2,683.9l-2.8,3.1M217.6,696.8L217.3,693.3l-3.9,-0.5M227.3,692.0L229.3,694.3l3.0,-2.7M243.7,686.3L246.6,684.0l-2.0,-2.9M257.1,696.6L260.3,694.4l-0.2,-3.8M259.1,692.8L262.8,691.8l-0.7,-2.9M276.8,696.8L278.2,693.7l-2.5,-2.7M296.5,687.7L297.3,691.4l3.2,-1.6M309.6,685.6L311.3,689.5l3.3,-1.2M316.7,683.8L312.5,684.5l-0.2,3.8M330.7,692.3L334.1,692.2l0.1,-4.5M334.8,681.0L336.2,683.7l3.5,-2.2M358.0,694.3L354.6,693.2l-2.1,2.4M371.1,686.3L368.4,685.2l-1.7,2.9M375.6,682.6L379.9,683.2l0.3,-2.9M397.5,691.1L393.8,692.2l1.1,2.6M406.5,695.2L409.6,692.7l-0.7,-3.7M407.8,685.9L410.3,682.3l-3.4,-1.7M163.5,696.7L161.0,698.1l-0.2,4.4M177.4,703.4L181.2,705.3l1.3,-2.7M191.3,696.3L190.4,693.2l-2.5,1.3M202.9,702.0L204.3,705.8l3.4,0.3M216.1,698.5L214.4,695.2l-3.8,0.9M230.9,691.4L228.7,695.3l3.2,2.2M242.3,703.9L238.8,702.6l-1.8,3.1M260.1,702.9L256.2,703.2l-1.2,4.2M266.0,698.3L269.4,697.4l-0.6,-3.7M272.0,701.5L275.8,703.1l2.7,-3.3M293.3,695.3L289.1,695.9l0.8,3.9M293.5,696.6L295.3,693.9l-2.4,-3.3M306.5,703.5L309.3,703.1l-0.9,-3.5M324.7,695.0L326.0,697.5l3.6,-2.6M335.2,695.9L331.5,694.8l-1.2,3.2M351.3,703.1L355.2,703.1l0.0,-3.9M358.5,701.8L361.3,702.6l2.4,-2.1M370.5,702.1L368.1,703.5l0.9,4.1M390.8,708.5L391.7,704.5l-2.9,-0.3M402.0,699.0L403.2,695.7l-3.7,-2.3M413.6,704.3L410.3,704.1l-2.2,3.7M420.9,693.5L421.2,696.9l3.1,0.2M174.9,709.1L171.6,707.1l-1.8,3.8M179.7,720.6L177.8,717.0l-4.1,-0.4M195.5,700.6L194.0,703.9l4.2,1.1M207.2,710.6L205.0,714.3l2.1,3.4M222.7,714.2L221.0,710.2l-3.0,1.6M236.6,713.4L232.4,712.9l-0.5,3.2M240.4,718.5L241.9,715.8l-3.4,-1.3M259.0,709.1L257.4,706.6l-3.5,0.3M272.9,707.1L270.1,707.2l0.6,3.5M282.4,706.9L278.5,707.6l1.2,2.7M287.1,715.2L288.9,711.9l-3.5,-1.8M300.2,709.6L304.4,710.6l0.7,-3.3M312.4,711.0L313.3,706.6l-4.2,-1.4M329.3,710.4L327.1,708.1l-2.4,2.1M341.6,710.4L344.3,709.7l0.4,-4.2M353.3,720.2L353.1,716.7l-3.4,0.9M359.7,709.2L362.1,711.5l3.4,-2.4M373.9,711.9L374.2,707.5l-3.2,-2.2M390.8,706.4L388.1,708.8l2.1,3.3M402.1,714.6L403.1,711.9l-2.9,-2.2M412.9,710.3L412.5,707.1l-3.6,0.7M425.2,710.4L427.0,708.1l-2.2,-3.1M162.3,727.5L166.4,728.3l1.9,-3.8M174.5,726.4L172.9,722.4l-3.9,-0.4M195.6,716.7L191.8,717.7l-0.9,3.1M200.8,720.9L201.0,724.5l4.0,0.2M216.6,716.7L213.1,719.0l1.7,2.5M220.9,720.0L224.4,722.2l1.6,-2.3M233.0,720.9L235.8,723.5l2.4,-2.3M255.8,714.9L254.4,717.7l4.0,1.7M260.6,727.6L258.0,725.5l-3.6,2.0M272.4,715.4L274.9,716.7l1.3,-2.6M295.3,727.2L290.9,727.1l-0.4,4.2M304.8,721.9L304.2,724.6l3.2,1.0M317.0,718.0L313.4,718.8l0.6,3.7M319.5,714.7L318.7,718.5l3.7,2.0M332.2,721.3L334.5,723.5l2.2,-2.3M345.0,718.6L348.5,717.1l-1.3,-4.0M366.3,716.4L365.5,719.1l2.6,1.4M375.3,726.5L378.7,724.8l-2.6,-3.7M394.5,726.0L390.7,723.8l-3.3,2.7M399.4,723.8L401.6,726.0l2.1,-1.8M415.3,719.4L414.0,715.6l-2.9,1.2M422.4,723.5L423.6,719.7l-3.1,-1.6M175.3,728.9L177.3,731.4l3.4,-2.7M184.1,731.3L187.2,734.2l3.1,-1.2M204.9,735.0L201.5,734.1l-2.3,3.7M206.2,727.2L210.3,728.4l2.3,-2.3M229.7,728.1L226.4,727.6l-2.1,3.4M233.8,723.5L236.4,726.9l4.0,-1.3M252.0,736.0L249.5,733.7l-3.4,1.0M256.9,738.9L259.4,737.0l-2.2,-2.1M272.3,726.8L269.5,727.3l0.4,3.6M281.2,740.4L279.6,737.6l-3.7,0.3M299.5,740.0L300.4,735.9l-2.4,-2.4M312.5,731.4L309.5,728.8l-2.8,1.6M316.9,730.8L320.1,730.0l0.9,-2.9M335.3,734.3L332.0,732.9l-1.7,2.6M343.6,728.5L342.3,731.4l1.9,2.8M351.1,724.4L349.6,727.6l2.4,1.7M371.3,736.8L374.2,735.6l-1.1,-3.1M372.4,723.8L373.7,726.9l3.6,0.2M393.5,732.6L396.0,730.5l-0.7,-2.7M413.5,728.9L409.6,728.7l-0.1,3.0M417.2,727.6L417.9,731.6l4.0,-0.8M426.7,732.4L430.3,734.0l1.6,-3.7M166.8,743.8L163.9,747.1l2.8,2.2M172.5,751.9L170.7,749.3l-2.7,1.9M190.0,739.1L189.6,742.5l3.2,2.3M201.9,740.9L204.5,743.1l3.3,-2.2M216.2,750.2L219.2,750.8l2.2,-3.1M215.7,743.4L219.7,741.5l-0.1,-3.0M247.1,747.3L243.8,746.4l-1.2,3.0M250.3,744.4L252.5,741.2l-2.2,-3.2M263.5,742.9L266.5,743.6l0.9,-3.3M281.9,740.2L278.7,741.8l0.8,4.0M282.4,747.7L281.5,750.7l2.2,2.5M304.4,754.0L303.4,750.7l-3.3,-0.4M311.9,743.9L314.9,741.9l-0.5,-3.5M327.1,749.0L324.0,747.6l-0.9,4.1M340.4,753.6L338.6,750.3l-2.7,1.6M346.0,746.1L343.4,742.9l-2.1,2.3M361.0,751.8L362.9,749.7l-3.4,-2.9M379.8,741.7L379.6,744.9l2.9,1.5M385.1,743.2L388.4,740.7l-2.9,-2.7M397.3,735.5L399.5,738.9l2.9,-1.4M412.9,748.8L412.9,745.2l-3.0,0.7M422.5,741.3L418.1,741.5l-0.7,4.0M431.1,742.7L429.9,746.6l3.7,1.8M172.2,750.2L173.4,754.0l3.8,-2.3M192.0,753.9L188.2,754.9l-0.5,3.4M194.0,758.2L194.0,761.4l3.2,-0.3M207.5,752.7L211.6,754.0l1.6,-3.6M220.5,750.9L219.0,754.3l2.0,3.0M232.4,757.5L233.7,754.5l-2.3,-2.3M245.1,752.5L244.5,749.1l-2.8,-0.5M261.8,754.5L260.4,752.1l-3.0,2.0M275.4,755.9L273.0,758.0l0.6,3.1M286.2,750.3L283.5,753.2l1.7,2.5M293.5,749.5L296.6,750.8l3.0,-3.2M310.8,763.5L307.9,762.3l-0.7,2.9M316.3,758.5L318.9,755.4l-2.4,-2.6M339.4,761.7L335.3,760.7l-1.2,3.2M339.9,762.9L339.0,760.1l-2.8,-0.4M351.1,747.8L354.5,750.5l3.8,-1.7M369.7,752.1L366.8,749.4l-3.0,1.3M378.2,754.7L379.2,751.6l-4.0,-1.1M393.3,752.6L390.9,749.3l-3.1,3.1M413.8,757.3L409.7,756.0l-0.4,4.2M409.8,758.1L412.6,759.1l2.0,-3.2M419.5,748.3L422.9,749.5l3.3,-2.7M164.0,772.2L165.5,769.7l-3.2,-2.6M176.3,768.8L177.7,765.8l-3.8,-2.2M186.3,773.3L185.3,769.2l-3.3,0.1M196.9,763.5L194.9,766.0l2.4,2.2M206.0,770.0L209.0,772.5l2.7,-3.4M222.2,773.3L223.2,770.0l-2.4,-2.6M237.4,762.6L239.8,761.0l-2.2,-3.6M255.8,769.6L256.2,765.2l-3.2,-1.9M262.2,761.9L259.8,765.2l1.3,2.9M266.1,769.7L269.1,771.5l2.6,-3.3M283.7,765.1L281.9,761.8l-2.3,2.0M304.1,759.2L303.6,763.5l2.3,1.6M315.7,761.5L313.0,762.3l-0.8,2.8M329.2,767.3L326.0,768.2l-0.3,4.4M341.1,765.2L339.4,762.1l-3.5,2.2M352.7,768.1L348.7,768.5l-0.0,3.9M368.7,766.9L365.9,769.8l0.7,3.2M371.4,768.0L374.8,768.8l1.0,-3.2M393.7,766.2L390.9,764.2l-2.3,1.5M395.0,764.7L397.4,761.2l-2.0,-3.7M405.3,770.5L409.0,771.2l0.4,-2.9M416.8,765.0L418.5,768.0l2.9,-0.2M431.4,775.5L432.6,772.0l-3.6,-2.0M159.0,775.0L163.2,774.0l-0.8,-4.1M166.0,781.4L169.8,781.6l0.3,-3.8M183.2,786.3L181.0,782.4l-2.5,1.6M198.9,781.0L194.9,781.2l-0.1,3.0M199.9,769.3L200.9,772.7l3.6,-0.8M210.3,773.6L213.7,774.2l0.2,-3.8M229.5,784.2L226.3,783.9l-1.3,3.5M255.1,780.4L251.2,779.3l-1.7,3.7M254.1,787.1L257.1,784.3l-0.8,-3.5M270.4,773.2L272.8,775.6l2.8,-2.4M290.7,772.5L288.0,775.0l2.2,2.4M300.2,772.0L299.9,775.6l2.5,1.4M310.7,780.7L308.6,777.9l-3.2,2.1M317.9,770.9L316.2,774.7l3.7,1.3M338.3,772.2L335.2,773.6l-0.0,2.8M342.1,775.0L343.2,778.0l3.3,0.0M355.9,772.1L356.7,775.3l3.3,-0.7M365.2,775.6L361.4,776.9l-0.5,3.6M381.5,785.5L378.2,783.5l-2.7,2.1M386.8,773.8L389.8,773.5l-0.2,-2.9M400.0,779.1L401.5,783.2l3.6,-1.4M422.7,773.0L422.3,775.9l2.8,0.4M426.6,788.2L426.4,784.4l-4.0,-1.3M165.9,785.3L163.8,788.2l2.6,2.1M182.0,792.3L180.7,795.6l3.1,1.4M186.5,788.4L184.2,786.0l-2.1,2.9M201.0,788.3L197.9,787.6l-1.2,2.9M222.7,787.8L219.0,788.1l1.3,4.2M233.4,785.7L230.1,783.1l-3.7,2.1M234.3,795.1L232.8,791.8l-3.1,1.7M260.4,785.9L256.8,786.0l-1.0,3.3M261.9,786.7L258.0,785.9l-2.3,3.1M270.6,778.6L270.7,783.1l3.3,0.5M287.7,796.9L289.6,794.4l-3.3,-2.8M297.8,788.1L299.0,784.8l-2.1,-2.0M307.1,798.8L306.9,795.6l-3.7,1.3M322.1,784.8L318.6,783.1l-2.7,2.5M339.5,785.2L343.2,787.1l1.1,-2.6M351.7,791.2L354.6,791.7l0.9,-3.3M367.8,798.6L365.6,794.8l-2.8,0.0M365.4,782.3L368.2,784.0l1.6,-3.2M382.7,787.8L380.9,785.3l-4.1,0.2M405.1,797.2L403.2,793.8l-4.2,0.2M409.8,796.3L409.2,793.6l-4.4,0.1M423.3,795.2L424.9,791.7l-4.1,-1.7M164.3,803.6L160.1,802.1l-1.3,4.1M176.0,795.7L173.3,797.3l3.0,3.3M182.0,793.5L179.3,795.5l2.1,2.2M192.5,798.5L190.3,796.1l-3.6,1.7M215.4,800.2L212.6,798.2l-1.6,3.2M219.0,795.8L218.9,799.1l4.1,0.5M228.7,800.5L232.4,802.5l2.2,-2.4M243.0,801.8L245.7,805.1l3.1,-2.2M253.7,799.1L252.4,795.5l-4.2,1.4M269.0,796.7L271.4,794.4l-1.4,-3.6M284.8,796.5L285.3,800.1l4.0,0.2M296.2,804.9L300.1,806.9l1.2,-3.7M310.0,808.4L310.7,804.8l-4.3,-0.7M310.9,792.9L312.2,797.0l3.5,0.6M324.4,801.7L324.7,797.7l-4.2,-0.5M346.1,795.5L347.2,798.2l3.8,-2.4M354.7,807.6L354.0,804.7l-4.2,-0.8M365.3,798.3L366.0,794.4l-4.5,-0.1M380.6,798.9L383.3,802.1l2.6,-1.6M393.7,793.5L392.5,796.9l3.0,2.1M404.8,793.5L406.3,797.2l3.9,0.2M421.9,801.3L423.2,803.9l4.0,-1.5M421.1,797.8L423.6,801.3l3.9,-0.2M166.3,811.9L163.7,808.8l-2.2,2.2M179.9,804.8L177.3,807.5l2.7,2.6M194.1,803.1L195.8,806.4l3.5,-1.4M203.3,813.4L206.9,810.9l-0.7,-2.9M204.6,816.4L207.1,812.9l-3.1,-2.5M224.4,811.8L226.7,809.7l-3.7,-2.5M234.3,813.6L232.1,815.7l0.7,3.6M246.4,811.3L250.5,810.3l1.4,-4.3M263.9,806.4L262.7,810.4l3.2,1.0M279.3,809.8L280.7,812.8l4.3,0.0M279.6,807.8L282.0,810.7l3.7,-0.4M307.3,812.6L305.4,810.2l-4.3,1.0M313.1,819.2L313.2,816.1l-3.1,-1.2M318.1,808.2L320.8,806.1l-1.5,-3.5M341.1,801.9L341.0,805.7l4.3,1.2M347.1,818.2L349.2,815.3l-3.1,-2.9M354.1,813.5L355.9,817.0l3.3,-1.6M376.3,814.1L373.3,812.5l-2.7,1.5M395.3,815.1L391.5,813.6l-2.4,2.0M399.8,814.3L397.2,812.2l-1.8,2.5M408.8,806.4L411.9,809.2l2.1,-3.2M168.0,827.6L164.7,824.9l-2.9,2.9M174.0,824.4L171.9,821.7l-3.3,0.3M178.2,815.3L179.3,818.4l3.2,-0.9M195.8,821.9L192.2,824.1l1.6,2.7M199.0,822.7L201.9,823.5l0.1,-3.5M223.0,825.5L220.0,828.5l2.6,1.8M228.6,828.4L231.1,830.3l2.0,-2.9M242.1,822.7L240.8,819.7l-3.7,2.3M261.8,829.5L258.4,829.8l1.1,3.5M266.1,829.0L262.7,826.3l-2.6,1.4M278.4,826.3L281.1,827.3l0.4,-3.5M292.3,823.1L292.8,819.7l-4.1,-1.4M297.7,829.3L301.9,828.7l-0.6,-3.1M318.8,825.2L320.5,829.0l2.6,-1.4M334.7,815.1L336.4,818.7l3.9,-1.6M340.4,824.9L343.2,828.3l2.9,-2.0M357.0,822.1L353.7,823.4l-0.6,4.0M372.1,826.6L370.6,824.0l-4.3,1.0M388.2,825.8L384.9,826.8l-0.2,2.9M388.1,822.3L385.7,820.8l-2.7,1.6M402.6,825.0L405.4,827.3l1.4,-2.4M417.0,820.3L415.1,823.1l2.8,3.2M154.1,837.7L153.7,833.4l-4.0,0.1M157.7,833.1L159.5,830.0l-1.5,-2.4M173.5,835.3L173.5,839.0l3.1,-0.5M187.3,838.0L184.5,837.0l-1.6,2.4M196.9,830.7L195.8,834.1l3.8,1.2M212.1,836.1L211.2,833.2l-3.3,-0.4M220.1,826.5L222.4,830.3l3.2,-0.8M233.5,832.4L234.9,834.9l3.4,-1.4M248.5,829.7L246.6,832.3l1.8,2.2M261.7,837.7L259.5,833.9l-3.5,2.7M280.0,840.0L281.1,835.9l-3.4,-2.2M289.6,829.8L289.1,832.9l2.8,0.3M298.8,830.4L295.9,830.4l-1.5,2.4M314.2,835.9L310.6,838.3l2.1,2.0M319.9,833.5L321.3,836.9l4.0,-2.0M343.7,832.8L342.9,828.9l-3.0,-1.2M348.6,836.8L344.6,835.3l-0.5,3.1M361.0,835.1L361.0,830.8l-4.5,0.1M376.7,830.5L380.1,829.7l-0.9,-3.2M385.2,837.6L384.9,834.0l-4.1,1.1M405.5,834.1L403.9,830.4l-3.8,2.0M404.3,828.9L407.5,829.9l2.3,-2.8M153.3,852.3L157.2,850.6l0.2,-3.4M162.7,847.5L164.8,845.5l-1.2,-3.4M188.6,850.2L185.3,851.7l1.1,2.8M191.3,846.4L193.5,844.4l-1.2,-3.4M198.0,846.3L201.7,844.9l1.0,-4.3M220.2,849.3L222.4,851.7l3.2,-2.9M238.1,847.5L236.8,843.5l-2.9,0.1M251.4,847.4L249.4,845.1l-3.6,2.3M261.1,844.4L261.2,848.8l4.0,-0.9M266.1,848.5L267.1,845.8l-2.4,-1.7M280.2,847.8L280.4,852.1l3.3,0.7M294.5,845.8L295.8,842.2l-2.3,-2.7M300.9,842.9L304.0,844.8l1.0,-2.8M319.8,844.8L323.3,846.4l1.7,-2.3M331.2,856.3L329.0,852.6l-3.0,2.1M348.3,839.8L344.1,839.7l-1.3,3.0M358.0,841.9L357.8,845.7l2.8,0.1M375.1,848.1L373.9,844.9l-4.1,1.1M370.5,847.5L373.7,846.9l-0.2,-4.0M384.4,839.3L387.8,840.3l1.1,-3.0M412.2,837.5L410.4,841.4l2.5,1.9M413.4,839.7L411.5,842.4l1.8,2.9M165.1,861.3L163.9,858.3l-3.5,0.6M175.0,861.5L178.5,858.8l-2.1,-2.7M195.1,853.2L191.9,854.4l0.6,4.1M193.2,853.7L196.8,853.5l1.3,-4.0M218.6,862.8L218.7,859.5l-2.9,-1.4M235.0,857.4L232.0,859.7l0.8,3.2M240.9,861.8L244.0,860.9l-0.7,-2.8M248.1,851.6L247.6,855.4l3.9,0.5M271.5,852.4L267.7,853.9l1.0,4.2M275.2,858.7L277.7,860.3l2.8,-1.8M293.0,866.6L293.5,863.8l-3.1,-0.2M301.1,853.5L305.4,853.5l0.4,-2.9M321.4,859.8L317.7,861.6l-0.0,4.3M330.0,857.0L326.7,857.5l-1.1,3.4M330.5,859.4L330.1,855.4l-2.9,-1.3M343.8,862.5L347.1,859.8l-2.3,-2.0M362.9,858.2L365.8,857.0l-1.7,-2.7M380.2,855.7L377.1,856.8l1.1,3.5M383.5,860.6L383.0,856.6l-2.7,0.9M392.0,853.6L394.6,856.5l3.2,-0.8M416.3,859.0L415.8,856.0l-3.2,0.4M425.3,849.1L422.3,851.6l2.2,3.7M164.3,868.1L161.5,866.2l-1.6,3.4M169.3,878.7L167.4,875.2l-3.4,2.8M189.0,874.9L185.6,875.2l-0.2,3.8M199.4,869.2L198.1,865.8l-4.4,0.1M204.8,861.7L201.5,863.1l-0.0,3.4M222.9,872.6L224.6,869.4l-3.0,-2.7M232.2,865.0L229.3,863.8l-1.1,3.2M242.3,869.3L244.7,865.9l-3.3,-1.5M261.7,865.3L258.7,865.4l0.4,3.0M265.4,872.0L264.3,868.7l-2.9,1.5M285.4,865.7L288.1,864.7l0.9,-3.8M294.3,875.4L293.8,871.6l-3.0,-0.9M307.4,874.2L310.3,873.8l-1.2,-3.8M317.3,872.4L317.4,868.0l-2.9,-0.0M329.1,867.0L326.3,867.1l-0.9,3.4M346.0,867.2L343.9,863.5l-3.8,0.3M354.7,871.4L354.1,875.4l3.9,0.2M368.7,866.8L372.9,865.2l-1.8,-3.9M379.9,872.3L384.0,870.4l-1.6,-2.8M394.5,870.0L394.2,873.8l2.4,1.4M404.3,860.8L402.7,864.0l3.9,1.9M412.1,869.2L415.0,866.6l-1.1,-2.9M159.7,881.5L156.8,878.8l-1.7,2.7M164.3,875.4L162.2,878.1l0.9,2.7M167.6,878.4L171.8,876.9l-1.3,-2.7M184.7,882.9L182.4,885.3l1.6,2.6M200.0,876.8L197.2,874.5l-3.0,3.3M218.2,880.2L214.7,877.5l-3.8,1.9M230.5,874.9L229.1,877.4l4.1,1.9M245.7,884.5L242.3,884.9l0.7,4.2M247.3,872.0L246.9,875.3l3.0,-0.3M258.8,876.7L256.5,878.7l0.7,4.3M275.3,880.8L273.2,878.5l-3.3,1.8M279.4,887.0L283.4,886.4l0.7,-3.7M296.0,885.5L298.9,883.4l-0.6,-3.6M314.5,875.1L316.0,877.9l4.4,-1.1M324.1,876.2L326.5,874.2l-0.5,-2.8M333.6,880.9L335.8,882.7l4.1,-1.8M346.6,887.4L343.4,884.3l-3.5,2.2M363.6,885.9L367.0,885.3l-1.5,-3.9M372.2,871.0L374.6,873.7l3.0,-3.2M385.7,876.6L388.5,874.3l-1.4,-2.5M396.9,878.8L396.3,883.0l3.5,1.1M410.0,881.7L409.7,877.2l-4.4,0.4M423.1,888.7L423.8,884.6l-2.7,-1.0M163.6,885.0L164.9,887.9l3.1,-1.6M169.3,891.1L166.8,888.2l-2.7,1.9M183.5,886.4L186.9,888.6l3.5,-1.7M193.8,900.5L193.7,896.9l-4.3,0.7M203.7,897.7L201.1,896.7l-2.0,3.6M229.3,895.9L226.2,893.5l-2.6,3.3M236.1,890.5L234.3,887.9l-3.7,2.4M243.5,894.4L246.1,891.6l-2.2,-2.8M254.4,891.8L254.5,895.7l4.4,-0.3M270.5,892.9L273.3,892.2l-0.8,-4.1M284.5,887.5L287.4,886.6l-1.0,-3.3M291.8,893.3L293.7,890.7l-2.1,-2.9M307.9,899.1L309.8,895.4l-2.0,-2.7M315.4,890.2L318.1,892.4l2.4,-2.8M339.4,899.6L337.1,896.5l-3.1,1.4M344.2,893.9L340.4,891.9l-2.5,3.6M358.0,888.1L357.9,892.5l2.8,1.5M374.6,894.4L371.9,896.4l0.9,2.9M373.6,892.5L374.2,888.9l-3.6,-0.6M390.7,880.8L389.9,885.0l3.4,0.5M409.5,887.4L408.3,890.7l3.2,0.6M417.7,890.0L417.4,894.1l3.1,2.2M424.6,896.2L423.0,893.2l-4.3,0.6M150.7,907.7L155.0,907.7l-0.1,-4.1M165.4,902.2L165.1,899.2l-3.1,-0.6M171.0,902.6L172.0,898.3l-2.9,-2.3M187.8,901.1L188.2,904.3l3.5,0.2M192.8,911.7L195.2,909.5l-2.3,-2.4M214.4,906.1L215.6,902.8l-3.9,-0.9M216.3,904.1L219.6,902.1l-1.5,-2.4M247.9,907.6L244.1,907.9l-0.9,4.1M257.9,899.9L254.6,900.3l-1.4,2.7M265.8,898.2L267.2,902.0l2.9,-1.9M268.1,908.1L268.8,905.0l-2.5,-2.2M285.2,907.0L283.3,909.5l2.0,2.7M300.1,901.3L297.7,899.7l-2.6,1.2M316.0,906.0L313.8,903.6l-4.1,1.1M334.2,909.3L329.9,909.1l-0.7,3.5M334.2,894.8L331.8,897.1l2.6,3.2M346.1,907.4L348.3,904.7l-3.4,-2.4M366.5,910.2L367.5,906.9l-3.4,-1.2M363.6,902.2L367.0,904.1l3.6,-2.1M389.7,902.9L391.6,900.0l-2.0,-1.9M395.5,905.7L391.9,908.1l1.1,3.7M413.4,900.6L410.4,901.3l0.8,3.4M420.8,912.9L420.3,909.5l-2.7,-0.9M434.4,910.5L433.1,906.9l-3.0,0.5M161.5,905.8L158.9,908.5l2.1,3.4M174.3,922.4L176.2,919.2l-1.3,-2.5M176.6,908.7L177.5,912.3l4.5,0.1M196.7,908.9L197.3,913.2l3.4,0.7M200.0,908.5L201.9,911.3l2.4,-2.0M226.6,913.8L222.5,915.6l1.5,3.8M235.9,914.1L233.4,912.7l-1.7,3.0M241.0,915.9L243.3,913.0l-1.2,-3.1M260.8,905.7L259.3,909.4l3.1,2.9M269.9,908.0L267.6,909.9l1.1,3.2M279.4,917.2L277.9,914.8l-3.8,2.0M287.1,916.6L287.5,913.5l-3.7,-2.0M304.4,919.2L307.7,920.6l2.5,-1.9M320.8,907.6L317.8,907.9l-1.0,3.4M329.6,919.0L327.6,915.1l-3.0,0.7M350.9,918.8L348.6,915.9l-2.4,2.0M360.8,911.9L361.6,908.5l-3.1,-1.3M368.7,915.5L368.7,911.7l-3.7,0.3M380.3,919.7L381.7,915.8l-4.3,-0.8M389.7,908.9L392.2,911.7l2.5,-1.6M410.3,914.4L409.5,911.2l-3.7,1.4M411.9,915.4L416.1,914.5l0.5,-3.9M159.4,927.6L161.0,931.2l3.7,0.1M167.9,929.8L171.8,928.9l0.2,-3.9M196.5,921.6L193.1,921.9l0.5,3.6M208.4,932.6L207.5,929.0l-3.2,1.4M212.0,931.5L212.7,927.7l-2.9,-1.1M218.0,926.1L220.8,922.8l-2.3,-2.3M238.0,919.8L241.5,921.5l2.7,-3.3M259.4,926.5L257.3,922.9l-3.2,2.5M254.7,925.6L257.5,929.1l2.3,-2.0M275.9,926.7L271.6,927.2l-0.4,3.4M288.9,920.0L290.5,922.7l2.8,-1.1M303.1,923.9L300.8,925.7l3.0,3.1M312.0,924.3L311.1,927.1l2.7,3.5M320.8,927.0L322.6,929.4l3.2,-0.5M346.8,925.8L342.8,927.1l0.6,2.8M342.9,929.2L344.3,926.7l-2.0,-2.9M370.1,923.8L367.7,922.1l-3.0,1.3M370.7,925.8L373.0,929.3l3.1,-1.4M383.7,919.9L384.3,924.3l3.9,-0.3M402.3,922.5L403.0,926.8l4.2,-0.7M417.0,932.4L417.1,929.6l-2.6,-1.6M419.0,930.7L421.4,927.5l-1.8,-2.4M173.2,931.9L176.4,931.2l-0.5,-4.2M187.8,944.3L188.3,941.2l-3.1,-0.9M190.4,927.3L189.3,930.0l2.2,2.0M211.7,933.2L211.0,936.2l3.5,2.5M217.8,942.0L217.2,937.6l-4.0,0.8M225.4,928.1L227.2,930.9l3.3,-0.2M245.8,942.0L243.1,939.4l-2.0,2.2M248.4,930.5L252.8,930.6l0.1,-3.3M273.8,937.5L271.1,938.7l1.6,2.5M278.7,941.5L282.1,940.4l-0.3,-3.1M290.7,935.0L288.6,938.5l2.7,1.8M310.2,941.0L306.5,943.1l1.9,2.2M314.5,939.0L314.1,942.4l2.7,0.8M329.1,938.9L330.0,942.6l3.8,-0.4M350.2,936.5L345.8,935.7l-1.1,3.4M356.5,944.2L358.5,941.5l-3.2,-1.6M374.6,933.4L371.5,932.9l-0.2,4.2M383.0,939.7L381.4,936.0l-2.8,2.1M390.2,944.7L388.0,942.7l-3.2,3.1M403.5,939.1L400.5,936.6l-2.6,1.9M416.1,940.8L415.2,937.7l-2.5,1.5M430.8,935.6L431.0,932.4l-2.8,0.3M156.2,951.5L159.1,949.2l-2.4,-2.4M174.3,946.6L174.5,942.8l-2.6,-1.1M180.0,954.5L182.7,953.6l-0.9,-3.2M193.9,957.3L197.1,954.5l-2.0,-2.2M210.5,948.8L209.3,944.8l-2.6,1.3M216.1,943.0L219.5,942.0l-1.7,-2.9M248.3,946.8L244.8,949.4l1.8,3.9M257.4,954.6L254.3,954.1l-2.0,3.8M263.0,954.1L265.1,950.2l-3.1,-2.5M279.0,948.8L281.9,947.2l-1.3,-3.1M284.9,956.3L284.2,952.8l-2.9,1.2M299.5,952.7L303.5,954.0l3.0,-2.9M310.4,938.9L312.2,942.0l3.6,-1.7M320.1,949.0L321.3,945.2l-2.6,-2.2M340.4,950.2L336.8,948.4l-1.8,2.7M356.6,948.8L352.7,950.2l0.1,3.0M360.9,949.0L360.9,952.2l3.8,1.0M372.3,958.5L370.1,954.8l-3.1,0.2M384.0,946.5L380.6,946.1l-0.5,3.6M392.2,946.9L395.0,947.5l0.3,-4.1M417.0,949.4L413.4,950.0l-1.2,3.2M422.4,956.2L419.2,954.4l-2.5,2.1M158.2,961.8L162.1,961.5l1.2,-2.9M177.1,959.2L174.0,962.0l2.1,3.8M182.0,952.2L182.9,955.6l2.9,-1.6M199.7,951.5L202.1,953.6l1.7,-2.8M210.7,969.1L211.8,965.9l-3.1,-2.1M216.8,960.2L219.9,958.6l-0.8,-3.3M228.3,952.6L232.6,953.3l0.4,-3.9M241.0,967.7L243.6,965.6l-1.6,-3.2M247.6,965.1L250.3,962.7l-1.5,-3.9M260.1,954.7L262.7,955.9l1.7,-2.6M278.3,962.6L281.7,962.5l1.2,-4.1M291.9,965.9L290.2,963.0l-4.1,0.3M303.9,957.4L300.2,956.8l0.2,3.6M313.5,951.2L316.5,953.1l2.7,-1.7M327.8,963.3L325.0,960.1l-3.6,0.7M350.5,966.3L348.4,964.3l-2.7,2.1M354.9,965.8L352.1,963.0l-2.5,1.7M368.1,961.0L368.5,964.0l4.0,0.9M379.8,963.4L380.6,959.2l-3.0,-0.9M389.3,956.3L390.4,952.7l-2.1,-2.4M406.2,956.9L410.5,956.8l-0.7,-3.5M417.0,957.5L418.3,953.9l-4.1,-1.2M429.3,965.7L424.9,965.9l-1.8,3.8M175.5,968.3L172.4,968.3l-1.0,2.9M182.6,967.2L185.8,964.1l-1.7,-2.8M207.6,969.0L205.7,966.8l-3.1,0.5M204.3,972.8L208.2,972.9l1.3,-4.2M225.7,962.0L223.5,964.6l2.3,1.7M239.5,973.4L237.3,971.1l-3.9,2.1M251.7,974.8L248.9,976.6l1.5,2.8M262.9,970.7L259.2,968.6l-2.5,2.6M267.6,966.8L270.2,967.8l1.8,-3.3M286.1,974.2L286.9,971.4l-2.4,-2.6M293.6,980.9L294.5,976.5l-2.3,-2.0M307.3,970.6L310.1,971.3l0.2,-3.5M325.9,971.5L323.4,972.6l2.2,3.4M338.5,970.7L341.4,970.1l-1.5,-3.8M354.2,970.9L351.1,969.2l-2.3,2.9M367.6,966.4L364.6,965.1l-1.3,2.5M371.1,967.6L373.7,965.8l-0.3,-3.3M389.8,971.6L389.9,975.2l3.8,-1.1M400.9,969.8L397.8,967.9l-1.2,2.8M407.4,975.4L405.8,972.2l-3.5,2.2M422.3,963.1L422.7,966.9l4.0,-1.2M158.3,976.2L162.7,976.0l-0.4,-3.3M174.7,977.0L170.3,977.1l-0.9,2.7M186.2,978.8L184.0,981.0l2.9,2.2M200.3,979.0L198.8,982.1l2.5,3.7M213.7,983.0L211.6,986.3l2.2,3.3M219.9,984.4L220.7,980.3l-3.4,-1.0M238.4,984.8L235.1,987.7l2.9,2.6M253.1,979.0L249.8,976.4l-1.8,3.8M261.4,983.8L263.0,987.1l4.3,-0.0M269.7,991.0L267.6,987.0l-3.5,1.2M279.4,980.5L276.0,980.3l-1.8,3.0M289.0,985.1L287.3,988.5l3.9,1.2M301.8,985.7L304.8,986.3l2.1,-3.2M312.3,982.9L314.3,984.9l2.5,-2.2M332.3,980.6L329.1,982.2l1.3,3.8M350.6,985.7L347.3,985.0l-1.9,2.7M360.9,988.2L360.5,984.3l-3.4,-1.7M373.7,976.8L370.7,975.8l-1.2,2.5M381.6,976.9L382.8,980.7l3.8,-0.2M388.5,981.6L389.5,978.1l-2.5,-1.9M405.5,978.6L402.4,981.2l2.5,2.6M409.3,989.2L413.1,987.3l-1.3,-3.6" fill="none" stroke="#d01c1c" stroke-width="1.9" stroke-linecap="round" stroke-linejoin="round"/>
<path d="M336.0,588.1l4.0,-2.5M364.2,578.9l-2.9,-2.4M219.7,597.6l2.7,2.3M244.1,593.0l4.7,-0.6M308.1,598.3l-3.6,0.4M338.9,600.1l4.1,-1.8M237.5,603.4l-4.5,-0.2M266.2,608.9l0.8,-3.6M277.2,609.4l-5.1,0.6M306.1,603.3l4.9,-0.4M312.0,611.2l3.2,-2.6M379.3,613.1l-2.1,-2.7M431.0,615.3l0.4,4.4M159.0,616.1l3.6,0.9M226.9,622.0l2.1,2.6M237.0,617.3l-2.1,4.7M313.1,621.9l0.4,3.4M345.3,624.3l3.1,1.5M390.8,613.3l-3.7,-2.8M155.7,635.6l0.5,3.4M187.5,627.0l3.5,-2.7M198.2,633.5l2.3,-4.8M234.1,625.1l-2.9,-4.1M352.1,634.7l-0.9,-3.8M368.3,637.7l-3.4,-0.7M406.1,628.5l4.0,0.8M433.6,633.0l-2.9,4.2M314.3,648.6l4.6,-1.5M399.5,639.5l-3.4,3.7M416.2,639.0l3.1,2.6M155.8,657.4l-1.4,-4.5M207.5,660.0l2.3,3.2M238.6,647.9l-2.9,-2.2M276.4,651.0l3.2,4.0M321.5,658.2l3.1,2.7M395.4,649.2l-1.8,-3.3M410.6,655.2l-3.2,2.4M161.0,663.6l3.0,-2.7M191.4,667.4l3.3,1.6M232.5,667.5l2.2,3.1M245.7,667.9l-2.8,-1.9M277.6,662.6l-2.6,4.0M325.5,662.6l-1.2,4.0M349.7,661.9l2.1,-2.8M365.5,664.0l-2.3,-4.2M406.5,661.3l-0.6,4.6M165.5,674.8l4.0,-0.6M175.5,675.3l-3.7,-3.8M220.0,678.0l-1.9,-2.9M234.7,678.3l0.6,-3.3M313.4,676.8l-3.3,-3.8M320.9,682.4l-2.8,3.9M346.5,677.4l0.7,-4.3M367.0,677.8l-2.8,1.8M391.7,676.5l3.1,-3.8M277.3,692.7l-3.0,-3.2M297.0,690.1l-1.0,-4.3M312.5,689.1l3.9,-1.4M337.5,683.0l4.1,-2.6M353.9,694.1l-2.5,2.8M394.2,693.1l1.3,3.1M160.9,699.6l-0.2,5.3M203.8,704.4l-1.7,-4.5M215.0,696.3l2.0,4.0M257.6,703.1l4.6,-0.3M276.7,701.9l3.2,-4.0M391.4,706.0l-1.1,4.7M422.3,697.0l3.7,0.2M176.3,716.8l-4.8,-0.5M205.7,715.5l2.5,4.0M219.9,710.8l-3.6,1.9M288.3,713.1l-2.2,4.0M302.9,710.2l-5.0,-1.1M374.1,709.1l-0.4,5.2M191.5,718.8l-1.0,3.7M213.7,719.9l2.0,2.9M275.4,715.8l1.6,-3.1M304.4,723.6l0.7,-3.3M320.0,719.2l4.4,2.3M377.8,723.5l-3.1,-4.4M422.5,719.2l-3.7,-1.9M269.6,728.6l0.5,4.3M300.1,737.3l-1.2,4.9M373.2,736.0l-3.4,1.3M205.7,742.3l3.9,-2.6M218.1,750.6l-3.5,-0.8M282.3,751.6l2.6,2.9M362.2,750.5l-2.3,2.6M387.4,739.8l-3.4,-3.2M412.9,746.5l-0.0,4.2M430.3,745.2l1.4,-4.6M189.6,754.5l4.5,-1.3M219.7,755.4l2.4,3.6M244.7,750.3l0.7,4.0M273.2,759.1l0.7,3.7M284.1,754.1l2.0,3.0M353.3,749.5l-4.1,-3.2M389.8,750.4l-3.7,3.6M409.6,757.5l-0.4,5.0M184.1,769.2l-3.9,0.1M210.0,771.3l3.3,-4.0M255.0,764.6l-3.9,-2.2M348.7,769.9l-0.0,4.7M194.9,782.3l-0.1,3.6M212.5,774.0l-4.1,-0.7M272.0,774.7l-2.8,-2.9M300.9,776.1l3.0,1.6M316.8,773.3l2.1,-4.4M342.8,776.9l-1.3,-3.7M361.2,778.2l-0.6,4.3M220.3,788.0l4.4,-0.3M307.0,796.7l0.3,3.7M401.7,793.9l-5.1,0.3M180.0,796.3l2.5,2.6M191.1,796.9l2.6,2.9M212.0,799.3l-1.9,3.8M233.2,801.7l2.7,-2.9M298.7,806.2l-4.6,-2.3M422.7,803.0l-1.5,-3.1M195.2,805.2l-2.0,-3.9M263.1,808.9l1.4,-4.7M282.2,812.8l5.2,0.0M281.1,809.7l-2.8,-3.5M306.1,811.0l2.3,2.9M341.0,804.4l0.2,-4.6M348.1,814.3l-3.7,-3.5M372.4,813.0l-3.2,1.8M392.8,814.1l4.5,1.8M410.8,808.2l-3.7,-3.4M220.9,829.2l3.1,2.2M291.4,819.2l-4.8,-1.7M369.1,824.3l-5.1,1.2M384.8,827.8l-0.2,3.5M384.8,821.4l-3.2,1.9M289.3,831.8l0.6,-3.6M385.1,835.3l0.4,4.3M157.3,849.4l0.2,-4.1M221.6,850.8l-2.7,-2.8M262.7,848.5l4.8,-1.1M281.6,852.4l3.9,0.8M304.3,843.8l1.1,-3.3M323.9,845.6l2.0,-2.7M329.8,853.9l2.7,4.5M372.5,847.1l-3.8,0.8M388.2,839.2l1.3,-3.5M162.6,858.6l-4.2,0.8M177.7,857.8l-2.6,-3.3M192.1,855.9l0.7,4.9M232.3,860.8l1.0,3.8M303.9,853.5l-5.0,-0.1M365.2,856.1l-2.0,-3.2M393.7,855.5l-3.1,-3.4M185.5,876.6l-0.3,4.5M258.8,866.5l0.5,3.6M294.0,873.0l0.7,4.5M383.5,869.4l-1.9,-3.4M170.3,877.4l-5.0,1.9M335.1,882.1l-2.6,-2.1M344.6,885.4l3.7,3.7M365.8,885.5l-4.1,0.8M225.3,894.7l-3.1,3.9M234.9,888.8l2.2,3.0M245.3,890.6l-2.6,-3.3M374.0,890.2l-0.6,4.3M423.6,894.2l1.9,3.6M214.2,902.5l-4.6,-1.0M254.1,901.2l-1.7,3.2M331.4,909.2l5.2,0.3M432.0,907.0l-3.5,0.6M260.4,910.5l3.7,3.4M268.0,911.0l1.4,3.9M393.1,911.1l2.9,-1.9M171.9,927.5l0.3,-4.7M240.2,920.9l-4.1,-2.0M385.7,924.2l4.6,-0.4M402.7,925.3l-0.8,-5.1M176.3,929.7l-0.6,-5.0M190.1,930.7l2.6,2.4M215.8,937.9l-4.7,0.9M244.0,940.3l3.2,3.0M280.9,940.8l-4.0,1.3M289.4,937.2l2.5,-4.1M331.4,942.5l4.5,-0.5M347.4,936.0l5.2,1.0M357.8,942.5l-2.4,3.1M372.6,933.1l3.7,0.5M388.7,943.4l2.6,2.4M414.3,938.2l-3.0,1.8M253.6,955.5l-2.3,4.6M281.5,946.1l-1.5,-3.7M352.8,951.3l0.1,3.6M420.3,955.1l3.8,2.1M201.2,952.8l-2.8,-2.5M282.1,961.0l1.4,-4.9M323.7,960.3l-4.3,0.8M390.0,954.0l-1.2,4.3M410.3,955.5l-0.8,-4.1M206.8,972.9l-4.7,-0.0M260.5,969.4l4.4,2.5M294.2,978.1l-1.0,5.2M365.7,965.6l3.6,1.5M171.9,977.1l5.2,-0.1M219.5,979.9l-4.0,-1.2M249.1,977.8l-2.2,4.6M262.4,986.0l-1.9,-4.0M330.2,981.7l3.8,-1.9M371.8,976.1l3.6,1.2M384.2,980.6l4.5,-0.3M403.3,982.1l3.0,3.1M412.7,986.0l-1.6,-4.3" fill="none" stroke="#5a1010" stroke-width="1.5" stroke-linecap="round" opacity="0.6"/>
</g>
<g filter="url(#fsoft)">
<path d="M146.8,743.3L151.9,736.0l-7.5,-4.9M129.1,787.7L135.8,787.8l-1.2,-10.1M151.9,809.4L147.9,817.9l6.0,4.5M133.0,858.0L125.4,856.2l-0.3,9.1M124.4,1009.5L131.1,1008.3l-2.9,-6.8" fill="none" stroke="#cecece" stroke-width="1.9" stroke-linecap="round" stroke-linejoin="round"/>
<path d="M149.8,739.1L151.9,736.0l-3.2,-2.0M133.0,787.7L135.8,787.8l-0.5,-4.2M149.6,814.3L147.9,817.9l2.5,1.9M128.6,857.0L125.4,856.2l-0.1,3.8M128.3,1008.8L131.1,1008.3l-1.2,-2.8" fill="none" stroke="#d01c1c" stroke-width="1.9" stroke-linecap="round" stroke-linejoin="round"/>
<path d="M151.2,737.1l-2.5,3.6M134.8,787.8l-3.3,-0.1M125.3,857.6l-0.2,4.5" fill="none" stroke="#5a1010" stroke-width="1.5" stroke-linecap="round" opacity="0.6"/>
</g>
<g filter="url(#fsoft)">
<path d="M425.0,695.9L431.0,703.8l7.5,-5.9M442.2,733.6L448.3,728.8l-2.3,-9.6M438.0,738.4L443.4,745.0l6.8,-1.8M423.0,802.0L422.1,810.7l7.5,5.4M458.8,856.6L457.1,848.9l-9.0,-0.4M449.3,1003.0L451.0,992.4l-6.8,-0.1" fill="none" stroke="#cecece" stroke-width="1.9" stroke-linecap="round" stroke-linejoin="round"/>
<path d="M428.5,700.5L431.0,703.8l3.2,-2.5M445.7,730.8L448.3,728.8l-1.0,-4.0M441.1,742.2L443.4,745.0l2.9,-0.7M422.5,807.1L422.1,810.7l3.2,2.3M457.8,852.2L457.1,848.9l-3.8,-0.2M450.3,996.8L451.0,992.4l-2.9,-0.1" fill="none" stroke="#d01c1c" stroke-width="1.9" stroke-linecap="round" stroke-linejoin="round"/>
<path d="M444.4,744.7l3.4,-0.9M455.7,848.9l-4.5,-0.2" fill="none" stroke="#5a1010" stroke-width="1.5" stroke-linecap="round" opacity="0.6"/>
</g>
<clipPath id="cpsd"><rect x="139.5" y="900" width="306" height="243.5"/></clipPath>
<g clip-path="url(#cpsd)">
<path d="M152.5,1098.2 L432.5,1098.2 L446.5,1145.5 L138.5,1145.5 Z" fill="#1b466b"/>
<circle cx="171.5" cy="1111.2" r="15.0" fill="url(#sPt)"/>
<circle cx="232.0" cy="1111.2" r="15.0" fill="url(#sPt)"/>
<circle cx="292.5" cy="1111.2" r="15.0" fill="url(#sPt)"/>
<circle cx="353.0" cy="1111.2" r="15.0" fill="url(#sPt)"/>
<circle cx="413.5" cy="1111.2" r="15.0" fill="url(#sPt)"/>
<circle cx="153.4" cy="1120.6" r="15.2" fill="url(#sPt)"/>
<circle cx="213.0" cy="1120.6" r="15.2" fill="url(#sPt)"/>
<circle cx="272.6" cy="1120.6" r="15.2" fill="url(#sPt)"/>
<circle cx="332.2" cy="1120.6" r="15.2" fill="url(#sPt)"/>
<circle cx="391.8" cy="1120.6" r="15.2" fill="url(#sPt)"/>
<circle cx="432.5" cy="1124.2" r="14.0" fill="url(#sPt)"/>
<circle cx="118.3" cy="1133.6" r="15.2" fill="url(#sPt)"/>
<circle cx="179.5" cy="1133.6" r="15.2" fill="url(#sPt)"/>
<circle cx="240.7" cy="1133.6" r="15.2" fill="url(#sPt)"/>
<circle cx="301.9" cy="1133.6" r="15.2" fill="url(#sPt)"/>
<circle cx="363.1" cy="1133.6" r="15.2" fill="url(#sPt)"/>
<circle cx="424.3" cy="1133.6" r="15.2" fill="url(#sPt)"/>
<circle cx="485.5" cy="1133.6" r="15.2" fill="url(#sPt)"/>
<circle cx="149.5" cy="1146.2" r="15.2" fill="url(#sPt)"/>
<circle cx="210.7" cy="1146.2" r="15.2" fill="url(#sPt)"/>
<circle cx="271.9" cy="1146.2" r="15.2" fill="url(#sPt)"/>
<circle cx="333.1" cy="1146.2" r="15.2" fill="url(#sPt)"/>
<circle cx="394.3" cy="1146.2" r="15.2" fill="url(#sPt)"/>
<circle cx="455.5" cy="1146.2" r="15.2" fill="url(#sPt)"/>
</g>
<path d="M201.5,981.1 L383.5,981.1 L445.5,1102.2 L139.5,1102.2 Z" fill="#1d4a70"/>
<circle cx="201.0" cy="981.1" r="9.3" fill="url(#sPt)"/>
<circle cx="237.6" cy="981.1" r="9.3" fill="url(#sPt)"/>
<circle cx="274.2" cy="981.1" r="9.3" fill="url(#sPt)"/>
<circle cx="310.8" cy="981.1" r="9.3" fill="url(#sPt)"/>
<circle cx="347.4" cy="981.1" r="9.3" fill="url(#sPt)"/>
<circle cx="384.0" cy="981.1" r="9.3" fill="url(#sPt)"/>
<circle cx="217.2" cy="984.2" r="9.6" fill="url(#sPt)"/>
<circle cx="254.8" cy="984.2" r="9.6" fill="url(#sPt)"/>
<circle cx="292.5" cy="984.2" r="9.6" fill="url(#sPt)"/>
<circle cx="330.2" cy="984.2" r="9.6" fill="url(#sPt)"/>
<circle cx="367.8" cy="984.2" r="9.6" fill="url(#sPt)"/>
<circle cx="195.7" cy="987.3" r="9.9" fill="url(#sPt)"/>
<circle cx="234.4" cy="987.3" r="9.9" fill="url(#sPt)"/>
<circle cx="273.1" cy="987.3" r="9.9" fill="url(#sPt)"/>
<circle cx="311.9" cy="987.3" r="9.9" fill="url(#sPt)"/>
<circle cx="350.6" cy="987.3" r="9.9" fill="url(#sPt)"/>
<circle cx="389.3" cy="987.3" r="9.9" fill="url(#sPt)"/>
<circle cx="212.9" cy="991.0" r="10.1" fill="url(#sPt)"/>
<circle cx="252.7" cy="991.0" r="10.1" fill="url(#sPt)"/>
<circle cx="292.5" cy="991.0" r="10.1" fill="url(#sPt)"/>
<circle cx="332.3" cy="991.0" r="10.1" fill="url(#sPt)"/>
<circle cx="372.1" cy="991.0" r="10.1" fill="url(#sPt)"/>
<circle cx="190.3" cy="994.6" r="10.4" fill="url(#sPt)"/>
<circle cx="231.2" cy="994.6" r="10.4" fill="url(#sPt)"/>
<circle cx="272.1" cy="994.6" r="10.4" fill="url(#sPt)"/>
<circle cx="312.9" cy="994.6" r="10.4" fill="url(#sPt)"/>
<circle cx="353.8" cy="994.6" r="10.4" fill="url(#sPt)"/>
<circle cx="394.7" cy="994.6" r="10.4" fill="url(#sPt)"/>
<circle cx="208.6" cy="998.8" r="10.7" fill="url(#sPt)"/>
<circle cx="250.5" cy="998.8" r="10.7" fill="url(#sPt)"/>
<circle cx="292.5" cy="998.8" r="10.7" fill="url(#sPt)"/>
<circle cx="334.5" cy="998.8" r="10.7" fill="url(#sPt)"/>
<circle cx="376.4" cy="998.8" r="10.7" fill="url(#sPt)"/>
<circle cx="184.9" cy="1003.0" r="10.9" fill="url(#sPt)"/>
<circle cx="227.9" cy="1003.0" r="10.9" fill="url(#sPt)"/>
<circle cx="271.0" cy="1003.0" r="10.9" fill="url(#sPt)"/>
<circle cx="314.0" cy="1003.0" r="10.9" fill="url(#sPt)"/>
<circle cx="357.1" cy="1003.0" r="10.9" fill="url(#sPt)"/>
<circle cx="400.1" cy="1003.0" r="10.9" fill="url(#sPt)"/>
<circle cx="204.3" cy="1007.7" r="11.2" fill="url(#sPt)"/>
<circle cx="248.4" cy="1007.7" r="11.2" fill="url(#sPt)"/>
<circle cx="292.5" cy="1007.7" r="11.2" fill="url(#sPt)"/>
<circle cx="336.6" cy="1007.7" r="11.2" fill="url(#sPt)"/>
<circle cx="380.7" cy="1007.7" r="11.2" fill="url(#sPt)"/>
<circle cx="179.5" cy="1012.3" r="11.5" fill="url(#sPt)"/>
<circle cx="224.7" cy="1012.3" r="11.5" fill="url(#sPt)"/>
<circle cx="269.9" cy="1012.3" r="11.5" fill="url(#sPt)"/>
<circle cx="315.1" cy="1012.3" r="11.5" fill="url(#sPt)"/>
<circle cx="360.3" cy="1012.3" r="11.5" fill="url(#sPt)"/>
<circle cx="405.5" cy="1012.3" r="11.5" fill="url(#sPt)"/>
<circle cx="199.5" cy="1018.1" r="11.8" fill="url(#sPt)"/>
<circle cx="246.0" cy="1018.1" r="11.8" fill="url(#sPt)"/>
<circle cx="292.5" cy="1018.1" r="11.8" fill="url(#sPt)"/>
<circle cx="339.0" cy="1018.1" r="11.8" fill="url(#sPt)"/>
<circle cx="385.5" cy="1018.1" r="11.8" fill="url(#sPt)"/>
<circle cx="172.9" cy="1023.9" r="12.1" fill="url(#sPt)"/>
<circle cx="220.7" cy="1023.9" r="12.1" fill="url(#sPt)"/>
<circle cx="268.6" cy="1023.9" r="12.1" fill="url(#sPt)"/>
<circle cx="316.4" cy="1023.9" r="12.1" fill="url(#sPt)"/>
<circle cx="364.3" cy="1023.9" r="12.1" fill="url(#sPt)"/>
<circle cx="412.1" cy="1023.9" r="12.1" fill="url(#sPt)"/>
<circle cx="194.2" cy="1030.1" r="12.4" fill="url(#sPt)"/>
<circle cx="243.4" cy="1030.1" r="12.4" fill="url(#sPt)"/>
<circle cx="292.5" cy="1030.1" r="12.4" fill="url(#sPt)"/>
<circle cx="341.6" cy="1030.1" r="12.4" fill="url(#sPt)"/>
<circle cx="390.8" cy="1030.1" r="12.4" fill="url(#sPt)"/>
<circle cx="166.4" cy="1036.4" r="12.8" fill="url(#sPt)"/>
<circle cx="216.8" cy="1036.4" r="12.8" fill="url(#sPt)"/>
<circle cx="267.3" cy="1036.4" r="12.8" fill="url(#sPt)"/>
<circle cx="317.7" cy="1036.4" r="12.8" fill="url(#sPt)"/>
<circle cx="368.2" cy="1036.4" r="12.8" fill="url(#sPt)"/>
<circle cx="418.6" cy="1036.4" r="12.8" fill="url(#sPt)"/>
<circle cx="189.0" cy="1043.2" r="13.1" fill="url(#sPt)"/>
<circle cx="240.8" cy="1043.2" r="13.1" fill="url(#sPt)"/>
<circle cx="292.5" cy="1043.2" r="13.1" fill="url(#sPt)"/>
<circle cx="344.2" cy="1043.2" r="13.1" fill="url(#sPt)"/>
<circle cx="396.0" cy="1043.2" r="13.1" fill="url(#sPt)"/>
<circle cx="159.9" cy="1050.0" r="13.4" fill="url(#sPt)"/>
<circle cx="212.9" cy="1050.0" r="13.4" fill="url(#sPt)"/>
<circle cx="266.0" cy="1050.0" r="13.4" fill="url(#sPt)"/>
<circle cx="319.0" cy="1050.0" r="13.4" fill="url(#sPt)"/>
<circle cx="372.1" cy="1050.0" r="13.4" fill="url(#sPt)"/>
<circle cx="425.1" cy="1050.0" r="13.4" fill="url(#sPt)"/>
<circle cx="183.8" cy="1057.8" r="13.7" fill="url(#sPt)"/>
<circle cx="238.2" cy="1057.8" r="13.7" fill="url(#sPt)"/>
<circle cx="292.5" cy="1057.8" r="13.7" fill="url(#sPt)"/>
<circle cx="346.8" cy="1057.8" r="13.7" fill="url(#sPt)"/>
<circle cx="401.2" cy="1057.8" r="13.7" fill="url(#sPt)"/>
<circle cx="153.4" cy="1065.6" r="14.1" fill="url(#sPt)"/>
<circle cx="209.0" cy="1065.6" r="14.1" fill="url(#sPt)"/>
<circle cx="264.7" cy="1065.6" r="14.1" fill="url(#sPt)"/>
<circle cx="320.3" cy="1065.6" r="14.1" fill="url(#sPt)"/>
<circle cx="376.0" cy="1065.6" r="14.1" fill="url(#sPt)"/>
<circle cx="431.6" cy="1065.6" r="14.1" fill="url(#sPt)"/>
<circle cx="178.2" cy="1074.5" r="14.4" fill="url(#sPt)"/>
<circle cx="235.3" cy="1074.5" r="14.4" fill="url(#sPt)"/>
<circle cx="292.5" cy="1074.5" r="14.4" fill="url(#sPt)"/>
<circle cx="349.7" cy="1074.5" r="14.4" fill="url(#sPt)"/>
<circle cx="406.8" cy="1074.5" r="14.4" fill="url(#sPt)"/>
<circle cx="145.8" cy="1083.3" r="14.8" fill="url(#sPt)"/>
<circle cx="204.5" cy="1083.3" r="14.8" fill="url(#sPt)"/>
<circle cx="263.2" cy="1083.3" r="14.8" fill="url(#sPt)"/>
<circle cx="321.8" cy="1083.3" r="14.8" fill="url(#sPt)"/>
<circle cx="380.5" cy="1083.3" r="14.8" fill="url(#sPt)"/>
<circle cx="439.2" cy="1083.3" r="14.8" fill="url(#sPt)"/>
<circle cx="172.3" cy="1092.8" r="15.2" fill="url(#sPt)"/>
<circle cx="232.4" cy="1092.8" r="15.2" fill="url(#sPt)"/>
<circle cx="292.5" cy="1092.8" r="15.2" fill="url(#sPt)"/>
<circle cx="352.6" cy="1092.8" r="15.2" fill="url(#sPt)"/>
<circle cx="412.7" cy="1092.8" r="15.2" fill="url(#sPt)"/>
<circle cx="138.8" cy="1102.2" r="15.5" fill="url(#sPt)"/>
<circle cx="200.3" cy="1102.2" r="15.5" fill="url(#sPt)"/>
<circle cx="261.8" cy="1102.2" r="15.5" fill="url(#sPt)"/>
<circle cx="323.2" cy="1102.2" r="15.5" fill="url(#sPt)"/>
<circle cx="384.7" cy="1102.2" r="15.5" fill="url(#sPt)"/>
<circle cx="446.2" cy="1102.2" r="15.5" fill="url(#sPt)"/>
<g filter="url(#fsoft)">
<path d="M201.9,958.2L193.3,966.3l8.0,7.4M216.3,966.9L207.9,968.6l2.4,9.5M242.9,977.0L235.4,972.5l-10.6,5.0M241.7,982.3L249.4,971.6l-6.9,-9.1M278.2,963.2L274.3,974.8l11.0,7.0M274.1,973.1L281.0,982.9l8.6,-8.5M321.3,975.7L310.2,975.1l-2.2,8.5M328.8,987.0L322.2,979.2l-5.8,8.0M343.7,973.3L353.2,972.8l6.2,-10.8M378.2,982.7L368.8,980.5l-3.6,10.0M405.2,975.9L396.3,976.8l3.0,10.7M191.8,986.4L185.9,992.6l7.8,4.9M208.1,987.7L200.0,997.6l8.6,4.1M213.1,994.5L207.7,1002.2l8.9,10.1M222.1,1001.8L227.8,994.7l-9.7,-6.1M238.4,986.2L247.7,991.2l6.2,-8.3M265.5,981.0L273.4,984.3l6.3,-8.2M279.4,1009.9L285.0,1002.3l-5.4,-8.0M306.0,999.6L317.6,995.6l2.4,-13.0M333.3,977.3L325.7,988.2l10.1,8.0M359.4,1009.1L353.1,1002.0l-10.0,2.7M365.3,992.2L376.8,988.6l2.1,-13.2M392.5,1005.5L395.2,994.7l-11.7,-5.1M192.7,1023.2L184.6,1016.3l-9.7,3.7M207.8,1004.0L214.1,1015.1l10.0,-2.7M222.9,999.3L233.1,1007.6l12.0,-3.7M246.0,988.6L249.9,1001.3l8.7,1.9M281.6,1003.8L272.6,1013.2l3.3,11.4M281.0,1018.2L290.9,1016.5l-1.5,-10.2M304.5,1011.6L303.4,1001.9l-10.2,2.3M333.4,1012.6L327.9,1001.6l-7.6,4.8M352.4,1027.2L345.9,1016.8l-10.9,0.6M380.1,1007.0L371.3,1006.3l-6.0,11.6M205.7,1048.3L202.5,1037.5l-9.9,-1.8M211.6,1029.5L217.0,1019.7l-6.4,-11.7M226.5,1019.9L230.6,1028.0l10.4,-1.7M252.8,1023.8L264.8,1024.2l-0.7,-8.8M258.0,1039.4L266.7,1037.1l4.2,-13.0M300.0,1027.2L296.8,1037.6l7.7,5.3M310.5,1033.3L309.3,1024.8l-9.1,-1.3M347.9,1029.8L339.7,1023.5l-7.4,8.7M345.5,1027.8L353.6,1033.4l9.7,-8.4M371.0,1034.6L377.0,1026.3l-6.8,-9.2M379.6,1039.1L385.6,1029.5l-9.8,-7.2M406.7,1009.8L414.3,1018.8l7.1,-6.7M155.5,1031.0L163.7,1036.9l7.1,-11.5M200.0,1038.3L194.0,1046.5l6.2,11.3M225.3,1033.4L218.6,1045.1l8.4,10.1M241.9,1027.8L238.6,1037.5l9.3,6.9M269.4,1043.6L259.8,1049.0l7.8,9.2M278.7,1041.7L288.0,1040.0l-1.1,-12.0M293.7,1040.7L296.5,1051.3l12.0,1.8M318.7,1046.3L325.2,1036.2l-6.3,-11.6M343.5,1057.6L350.8,1047.4l-9.8,-6.2M365.0,1053.1L354.2,1049.6l-5.9,7.9M377.2,1042.9L389.3,1037.4l0.4,-10.5M175.6,1072.1L182.9,1061.3l-9.3,-9.8M208.9,1076.1L207.8,1064.6l-11.6,-0.8M202.7,1062.1L212.8,1063.4l-0.5,-10.4M228.2,1044.4L236.2,1055.3l12.5,-4.7M267.9,1073.4L275.4,1065.9l-6.2,-8.9M302.4,1043.5L299.8,1055.3l12.2,5.1M309.5,1080.0L313.9,1071.8l-11.6,-4.9M315.4,1064.4L328.5,1063.0l-1.4,-11.2M365.7,1064.6L354.4,1061.1l-5.8,10.2M373.8,1057.3L362.8,1054.1l-5.3,10.9M405.4,1051.1L394.1,1052.6l-0.7,11.5M415.5,1062.7L404.7,1058.8l-4.4,7.8" fill="none" stroke="#efefef" stroke-width="2.9" stroke-linecap="round" stroke-linejoin="round"/>
<path d="M196.9,962.9L193.3,966.3l3.3,3.1M211.4,967.9L207.9,968.6l1.0,4.0M238.6,974.4L235.4,972.5l-4.4,2.1M246.2,976.1L249.4,971.6l-2.9,-3.8M276.0,969.9L274.3,974.8l4.6,2.9M278.1,978.8L281.0,982.9l3.6,-3.6M314.8,975.3L310.2,975.1l-0.9,3.6M324.9,982.5L322.2,979.2l-2.4,3.3M349.2,973.0L353.2,972.8l2.6,-4.5M372.8,981.4L368.8,980.5l-1.5,4.2M400.0,976.5L396.3,976.8l1.3,4.5M188.4,990.0L185.9,992.6l3.3,2.1M203.4,993.4L200.0,997.6l3.6,1.7M210.0,999.0L207.7,1002.2l3.8,4.2M225.4,997.7L227.8,994.7l-4.1,-2.6M243.8,989.1L247.7,991.2l2.6,-3.5M270.0,982.9L273.4,984.3l2.7,-3.4M282.7,1005.5L285.0,1002.3l-2.3,-3.4M312.7,997.2L317.6,995.6l1.0,-5.5M328.9,983.6L325.7,988.2l4.2,3.4M355.8,1005.0L353.1,1002.0l-4.2,1.1M371.9,990.1L376.8,988.6l0.9,-5.5M394.1,999.2L395.2,994.7l-4.9,-2.2M188.0,1019.2L184.6,1016.3l-4.1,1.5M211.4,1010.5L214.1,1015.1l4.2,-1.1M228.8,1004.1L233.1,1007.6l5.0,-1.6M248.2,996.0L249.9,1001.3l3.7,0.8M276.4,1009.2L272.6,1013.2l1.4,4.8M286.7,1017.3L290.9,1016.5l-0.6,-4.3M303.9,1006.0L303.4,1001.9l-4.3,1.0M330.2,1006.2L327.9,1001.6l-3.2,2.0M348.6,1021.1L345.9,1016.8l-4.6,0.3M375.0,1006.6L371.3,1006.3l-2.5,4.9M203.8,1042.1L202.5,1037.5l-4.2,-0.7M214.7,1023.8L217.0,1019.7l-2.7,-4.9M228.9,1024.6L230.6,1028.0l4.3,-0.7M259.7,1024.0L264.8,1024.2l-0.3,-3.7M263.0,1038.1L266.7,1037.1l1.8,-5.4M298.1,1033.2L296.8,1037.6l3.2,2.2M309.8,1028.4L309.3,1024.8l-3.8,-0.5M343.1,1026.2L339.7,1023.5l-3.1,3.6M350.2,1031.1L353.6,1033.4l4.1,-3.5M374.5,1029.8L377.0,1026.3l-2.9,-3.9M383.1,1033.6L385.6,1029.5l-4.1,-3.0M411.1,1015.1L414.3,1018.8l3.0,-2.8M160.2,1034.4L163.7,1036.9l3.0,-4.8M196.5,1043.1L194.0,1046.5l2.6,4.8M221.4,1040.2L218.6,1045.1l3.5,4.3M240.0,1033.4L238.6,1037.5l3.9,2.9M263.9,1046.7L259.8,1049.0l3.3,3.9M284.1,1040.7L288.0,1040.0l-0.5,-5.0M295.3,1046.9L296.5,1051.3l5.1,0.8M322.5,1040.4L325.2,1036.2l-2.6,-4.9M347.8,1051.7L350.8,1047.4l-4.1,-2.6M358.7,1051.0L354.2,1049.6l-2.5,3.3M384.2,1039.7L389.3,1037.4l0.1,-4.4M179.9,1065.8L182.9,1061.3l-3.9,-4.1M208.3,1069.4L207.8,1064.6l-4.9,-0.3M208.6,1062.8L212.8,1063.4l-0.2,-4.4M232.8,1050.7L236.2,1055.3l5.3,-2.0M272.2,1069.0L275.4,1065.9l-2.6,-3.7M300.9,1050.3L299.8,1055.3l5.1,2.1M312.0,1075.3L313.9,1071.8l-4.9,-2.1M323.0,1063.6L328.5,1063.0l-0.6,-4.7M359.2,1062.6L354.4,1061.1l-2.4,4.3M367.4,1055.4L362.8,1054.1l-2.2,4.6M398.9,1051.9L394.1,1052.6l-0.3,4.8M409.2,1060.4L404.7,1058.8l-1.8,3.3" fill="none" stroke="#d01c1c" stroke-width="2.9" stroke-linecap="round" stroke-linejoin="round"/>
<path d="M248.2,973.2l-3.8,5.3M246.3,990.5l-4.6,-2.5M394.8,996.3l-1.4,5.4M234.9,1007.1l6.0,-1.9M326.8,1002.3l-3.8,2.4M230.0,1026.8l-2.0,-4.1M264.7,1022.9l-0.4,-4.4M267.3,1035.2l2.1,-6.5M297.2,1036.0l1.6,-5.2M384.7,1031.0l-3.0,4.8M261.3,1048.2l4.8,-2.7M349.7,1048.9l-3.7,5.1M181.6,1059.8l-4.6,-4.9M206.1,1064.5l-5.8,-0.4" fill="none" stroke="#5a1010" stroke-width="2.3" stroke-linecap="round" opacity="0.6"/>
</g>
<circle cx="228.9" cy="674.8" r="3.0" fill="url(#sCl)"/>
<circle cx="285.5" cy="724.8" r="3.4" fill="url(#sCl)"/>
<circle cx="299.0" cy="852.0" r="2.6" fill="url(#sCl)"/>
<circle cx="397.0" cy="860.0" r="2.8" fill="url(#sCl)"/>
<circle cx="232.0" cy="932.0" r="2.8" fill="url(#sCl)"/>
<circle cx="432.0" cy="931.0" r="2.6" fill="url(#sCl)"/>
<circle cx="416.0" cy="953.0" r="2.8" fill="url(#sCl)"/>
<circle cx="376.0" cy="950.0" r="2.4" fill="url(#sCl)"/>
<circle cx="263.1" cy="730.0" r="2.6" fill="url(#sNa)"/>
<circle cx="426.5" cy="759.8" r="3.0" fill="url(#sNa)"/>
<circle cx="334.5" cy="597.3" r="2.2" fill="url(#sNa)"/>
<circle cx="405.0" cy="597.3" r="2.2" fill="url(#sNa)"/>
<circle cx="201.4" cy="630.9" r="2.2" fill="url(#sNa)"/>
<circle cx="243.5" cy="789.0" r="2.6" fill="url(#sNa)"/>
<circle cx="218.5" cy="797.0" r="2.6" fill="url(#sNa)"/>
<circle cx="322.0" cy="798.0" r="2.6" fill="url(#sNa)"/>
<circle cx="396.0" cy="807.0" r="2.6" fill="url(#sNa)"/>
<circle cx="216.5" cy="833.0" r="2.4" fill="url(#sNa)"/>
<circle cx="222.5" cy="843.0" r="2.6" fill="url(#sNa)"/>
<circle cx="269.0" cy="811.0" r="2.2" fill="url(#sNa)"/>
<circle cx="312.5" cy="883.5" r="2.8" fill="url(#sNa)"/>
<circle cx="357.5" cy="907.0" r="2.6" fill="url(#sNa)"/>
<circle cx="313.5" cy="952.0" r="2.4" fill="url(#sNa)"/>
<circle cx="200.5" cy="962.0" r="2.2" fill="url(#sNa)"/>
<circle cx="229.0" cy="1005.5" r="2.8" fill="url(#sNa)"/>
<circle cx="253.0" cy="1029.5" r="2.8" fill="url(#sNa)"/>
<circle cx="321.0" cy="1031.0" r="2.8" fill="url(#sNa)"/>
<circle cx="351.5" cy="1005.5" r="2.8" fill="url(#sNa)"/>
<circle cx="156.5" cy="1056.5" r="2.8" fill="url(#sNa)"/>
<circle cx="353.0" cy="984.0" r="2.6" fill="url(#sNa)"/>
<circle cx="378.0" cy="988.0" r="2.4" fill="url(#sNa)"/>
<circle cx="373.2" cy="629.6" r="3.8" fill="url(#sMg)"/>
<circle cx="207.6" cy="613.2" r="7.2" fill="url(#sO)"/>
<circle cx="199.0" cy="606.5" r="5.6" fill="url(#sH)"/>
<circle cx="295.5" cy="608.5" r="5.4" fill="url(#sH)"/>
<circle cx="289.5" cy="611.3" r="7.2" fill="url(#sO)"/>
<circle cx="319.6" cy="596.0" r="5.4" fill="url(#sH)"/>
<circle cx="331.0" cy="605.1" r="7.2" fill="url(#sO)"/>
<circle cx="365.2" cy="626.2" r="7.2" fill="url(#sO)"/>
<circle cx="377.4" cy="642.0" r="5.4" fill="url(#sH)"/>
<circle cx="381.8" cy="632.3" r="7.2" fill="url(#sO)"/>
<circle cx="402.0" cy="660.5" r="5.4" fill="url(#sH)"/>
<circle cx="392.3" cy="655.0" r="7.2" fill="url(#sO)"/>
<circle cx="277.8" cy="650.7" r="5.4" fill="url(#sH)"/>
<circle cx="287.2" cy="648.9" r="7.2" fill="url(#sO)"/>
<circle cx="203.0" cy="829.0" r="5.4" fill="url(#sH)"/>
<circle cx="198.9" cy="822.7" r="7.2" fill="url(#sO)"/>
<circle cx="224.5" cy="842.8" r="7.2" fill="url(#sO)"/>
<circle cx="222.5" cy="841.5" r="5.6" fill="url(#sH)"/>
<circle cx="282.0" cy="876.0" r="5.4" fill="url(#sH)"/>
<circle cx="292.6" cy="878.5" r="7.2" fill="url(#sO)"/>
<circle cx="322.0" cy="908.0" r="5.4" fill="url(#sH)"/>
<circle cx="312.8" cy="902.5" r="7.2" fill="url(#sO)"/>
<circle cx="255.5" cy="984.0" r="7.2" fill="url(#sO)"/>
<circle cx="273.0" cy="781.3" r="7.2" fill="url(#sO)"/>
<circle cx="272.0" cy="780.0" r="5.6" fill="url(#sH)"/>
<circle cx="197.0" cy="791.5" r="5.0" fill="url(#sO)"/>
</g>
<text x="524.00" y="640.00" font-size="30.3" >Pt/Ti</text>
<circle cx="497.2" cy="913.0" r="10.0" fill="url(#sPt)"/>
<text x="524.30" y="920.80" font-size="25" >Pt</text>
<circle cx="497.2" cy="963.4" r="10.0" fill="url(#sCl)"/>
<text x="524.30" y="970.60" font-size="25" >Cl<tspan dy="-9.0" font-size="16">-</tspan></text>
<circle cx="497.2" cy="1013.9" r="10.0" fill="url(#sMg)"/>
<text x="524.30" y="1021.80" font-size="25" >Mg<tspan dy="-9.0" font-size="16">2+</tspan></text>
<circle cx="497.2" cy="1063.4" r="10.0" fill="url(#sO)"/>
<text x="524.30" y="1070.40" font-size="25" >O</text>
<circle cx="497.2" cy="1110.4" r="6.6" fill="url(#sH)"/>
<text x="524.30" y="1117.60" font-size="25" >H</text>
<text x="-0.60" y="618.00" font-size="42.5" font-weight="bold" >d</text>
<clipPath id="cpe"><rect x="770" y="588" width="380" height="560"/></clipPath>
<g clip-path="url(#cpe)">
<g filter="url(#fsoft)">
<path d="M836.5,583.3L827.0,581.7l-0.8,7.1M828.3,577.0L830.7,583.2l7.7,-0.8M842.3,585.6L851.1,590.1l6.6,-4.0M856.4,597.4L859.0,589.5l-7.4,-2.9M869.8,596.8L875.5,592.6l-2.4,-9.1M886.2,588.1L879.4,582.0l-6.3,5.3M892.2,591.7L892.5,582.4l-10.4,1.5M921.4,590.8L911.4,591.9l-2.9,8.8M933.6,593.3L925.7,591.2l-6.3,7.1M925.5,590.5L934.4,589.0l0.6,-8.1M936.3,580.0L943.2,583.2l2.0,-6.6M955.7,593.1L958.4,586.6l-6.0,-2.8M956.3,584.0L964.8,583.3l-2.1,-7.8M979.6,576.3L975.5,583.8l7.2,6.0M981.1,579.8L988.2,586.0l6.5,-7.7M1010.9,585.6L1004.8,582.5l-4.1,7.2M1028.9,582.2L1020.5,579.3l-3.8,7.0M1037.7,578.8L1030.5,581.1l-1.1,7.8M1035.5,591.5L1037.4,581.0l-5.4,-4.2M1051.0,583.0L1051.0,590.1l6.5,1.4M1066.5,592.6L1063.6,585.7l-9.6,-0.2M1083.8,595.0L1086.5,586.3l-8.7,-5.1M1084.0,574.2L1087.7,581.1l10.1,-3.0M1092.4,573.7L1099.6,579.9l5.4,-8.6M828.3,593.9L833.0,600.2l7.6,-7.6M843.7,596.5L837.6,601.2l6.1,5.1M850.0,611.8L849.6,602.1l-7.3,-4.5M871.3,605.2L870.8,597.8l-8.9,-0.7M878.7,598.7L873.3,591.9l-8.6,1.5M885.7,607.3L886.1,600.6l-8.3,-5.9M900.4,583.1L897.6,591.3l8.7,2.7M909.2,603.3L907.9,596.6l-9.2,2.3M932.2,590.6L932.5,600.6l8.7,4.9M948.1,607.1L942.1,599.6l-6.3,6.5M952.6,587.5L952.9,597.5l8.7,0.4M966.8,594.8L962.6,603.2l9.1,5.0M974.1,601.4L974.4,591.6l-9.5,-4.8M994.1,596.4L987.1,598.2l2.5,7.6M1011.8,602.8L1007.0,593.4l-6.0,3.6M1016.1,598.9L1007.1,595.8l-0.7,6.8M1020.7,596.8L1030.4,599.5l4.6,-5.6M1046.1,598.7L1037.8,597.6l-3.9,7.4M1055.8,603.1L1050.9,598.0l-8.5,3.8M1074.3,597.9L1068.4,594.0l-4.8,7.0M1081.9,601.2L1075.5,596.2l-4.3,5.1M1077.8,584.3L1081.2,591.9l6.9,-2.1M1103.0,586.4L1095.6,592.6l5.7,7.8M820.5,618.1L826.3,610.0l-6.1,-6.8M825.1,620.9L828.1,612.6l-7.8,-2.7M845.2,618.7L848.2,609.4l-8.3,-4.7M872.2,612.8L864.5,609.4l-3.2,8.1M863.2,613.6L865.3,606.6l-7.1,-6.7M879.4,595.5L884.7,602.6l8.1,-2.2M895.9,618.8L895.4,611.7l-9.7,-4.2M904.8,612.9L909.6,607.9l-5.7,-8.1M918.3,595.0L917.2,603.4l5.5,3.9M934.7,603.7L929.0,611.8l8.4,4.6M933.6,609.7L942.5,611.3l2.6,-7.2M944.9,616.4L952.4,611.6l-4.2,-5.4M979.6,607.6L972.9,613.9l7.1,5.9M972.4,606.1L978.7,608.9l5.9,-7.6M994.5,618.8L990.0,610.2l-6.6,2.4M1009.8,616.4L1003.2,610.9l-6.5,3.7M1017.8,603.7L1023.3,610.0l6.8,-3.4M1033.7,598.6L1034.0,605.5l10.2,0.9M1055.3,612.9L1045.3,610.9l-3.6,7.7M1058.7,618.9L1055.5,611.6l-10.2,0.4M1077.7,606.0L1073.1,613.7l6.3,2.8M1080.9,612.8L1083.1,605.7l-8.8,-2.0M1083.1,613.5L1086.8,606.0l-4.9,-4.8M1091.8,599.1L1101.3,603.5l1.3,-6.6M831.8,619.7L827.5,625.5l8.8,4.1M837.5,620.8L843.1,616.5l-7.1,-8.0M848.8,619.0L851.1,625.3l9.6,-0.6M878.7,621.5L871.7,614.1l-5.1,6.7M871.4,614.7L878.5,614.1l3.9,-9.5M880.4,614.4L887.7,615.5l2.0,-8.5M907.6,627.8L908.5,619.5l-7.2,-1.3M925.2,618.8L917.1,619.7l-3.5,9.4M926.9,628.4L928.5,618.0l-6.7,-2.4M951.7,622.0L944.9,624.2l-0.5,10.1M944.4,625.0L951.3,620.2l-1.1,-8.4M963.5,610.3L959.6,617.0l6.6,4.5M980.3,614.3L972.8,615.7l2.8,8.9M992.9,612.7L985.1,617.1l5.4,6.6M1006.0,615.8L999.5,613.4l-3.0,9.5M1010.6,608.2L1008.5,615.9l6.0,6.5M1020.1,627.3L1019.6,618.9l-7.3,-2.7M1034.2,624.0L1038.5,616.6l-7.1,-7.2M1045.4,608.6L1049.1,618.1l8.7,-0.9M1061.0,610.0L1059.7,616.8l6.9,3.0M1084.3,633.6L1078.6,624.8l-7.4,3.6M1080.0,610.0L1080.7,619.7l7.0,3.8M834.0,620.3L826.2,627.3l3.7,5.5M845.8,638.4L840.2,631.3l-8.1,2.5M843.0,620.1L841.5,629.8l9.7,3.2M856.4,632.4L854.4,625.9l-10.4,1.2M866.8,632.1L873.2,629.3l-2.7,-6.8M883.0,630.0L879.8,636.9l5.8,3.9M907.8,630.7L898.7,633.7l0.2,10.5M895.3,637.2L902.0,632.5l-5.3,-6.1M916.6,637.1L919.4,627.5l-4.6,-5.6M929.5,637.7L928.2,628.9l-8.6,2.7M960.2,635.2L951.4,631.4l-5.2,6.9M947.0,639.2L954.2,635.9l-0.5,-7.3M974.3,625.6L975.5,633.8l7.7,-0.4M987.3,624.5L984.8,631.6l8.5,1.1M995.3,635.9L991.0,630.5l-7.8,2.9M1003.3,630.6L1011.7,631.4l3.0,-7.3M1025.7,641.6L1022.8,633.3l-7.8,3.5M1027.8,627.6L1036.4,629.8l6.2,-6.6M1057.7,622.6L1049.4,625.1l0.8,10.6M1060.0,637.1L1062.2,630.7l-8.4,-2.8M1076.7,646.8L1075.0,637.8l-7.0,2.4M1090.6,638.5L1081.4,636.5l-3.2,6.6M1090.2,637.3L1093.7,631.3l-6.4,-2.5M814.5,643.9L821.3,636.2l-2.2,-6.3M812.8,647.1L822.3,647.5l6.0,-8.9M831.5,653.2L839.2,649.0l-3.0,-7.2M861.1,638.6L859.7,645.3l7.5,7.0M866.9,633.0L862.0,640.8l7.9,3.7M880.0,650.4L883.3,640.5l-7.4,-5.5M888.5,647.0L883.9,642.1l-6.6,3.8M907.5,650.9L902.0,645.4l-6.6,2.9M916.6,634.0L912.5,643.8l6.8,7.2M925.6,643.2L932.7,637.5l-6.5,-6.0M937.1,635.1L933.5,642.4l9.0,3.1M961.8,631.1L955.9,637.3l4.9,7.3M977.3,643.9L968.9,638.7l-6.0,3.8M988.5,635.5L982.4,639.5l3.7,8.7M980.3,650.0L986.0,642.3l-2.6,-7.1M1010.2,646.2L1004.4,637.8l-9.7,3.7M999.8,644.2L1009.8,644.0l3.1,-8.0M1034.4,638.0L1029.3,644.2l4.8,5.3M1027.5,636.1L1035.1,640.1l6.7,-6.4M1061.3,648.2L1055.4,645.1l-8.2,5.7M1066.0,637.4L1059.1,638.0l-1.8,7.3M1075.8,637.3L1075.4,644.7l8.1,-1.3M1081.6,648.3L1088.8,647.8l2.2,-7.8M832.0,662.3L826.0,659.3l-4.9,5.6M829.9,662.8L835.7,654.5l-4.5,-6.8M860.7,644.5L851.9,647.7l-0.5,6.9M855.4,664.5L856.6,655.0l-8.0,0.3M879.4,667.4L875.6,659.8l-10.3,0.6M869.4,656.4L877.8,651.0l-0.0,-9.4M893.1,644.4L889.6,651.7l6.3,2.2M898.5,649.5L907.1,654.0l3.8,-8.6M928.2,654.0L920.7,659.5l1.3,7.6M937.4,650.4L938.8,657.1l7.7,-3.1M949.0,664.8L947.2,656.0l-7.4,-1.3M961.2,650.2L957.0,657.9l5.9,7.3M968.2,669.8L970.6,660.5l-6.9,-2.7M968.1,660.7L977.0,660.2l2.4,-7.3M1003.9,644.3L999.8,653.3l7.6,5.0M1013.5,656.5L1008.5,648.9l-6.6,5.0M1019.1,663.0L1012.6,660.5l-4.5,5.6M1027.3,647.1L1033.7,652.0l4.5,-6.4M1034.3,651.4L1040.2,647.9l-6.4,-8.1M1066.1,658.6L1056.7,659.3l1.1,7.0M1079.0,648.0L1072.3,652.6l4.0,8.5M1077.1,650.4L1082.8,659.3l8.2,-1.8M1088.7,661.7L1091.0,651.7l-6.6,-0.6M831.5,659.2L831.8,667.6l6.7,-1.6M848.3,669.6L840.4,664.4l-5.4,4.4M853.3,676.3L850.9,668.3l-6.9,1.4M860.5,677.2L868.4,671.4l-3.1,-8.8M874.4,675.2L882.3,671.5l-4.5,-7.5M901.5,678.7L895.8,670.3l-7.7,2.9M896.3,678.7L898.1,671.2l-6.7,-5.7M917.6,656.5L919.9,665.2l7.9,-3.4M941.2,671.3L931.1,671.6l-2.1,7.5M929.3,661.9L938.9,663.7l6.8,-7.3M945.7,679.4L946.0,668.8l-9.1,-2.6M968.0,677.2L970.0,669.0l-9.6,-2.9M986.7,667.9L982.0,662.6l-6.9,2.1M999.8,654.4L991.7,660.5l1.2,6.7M1001.0,663.7L997.2,671.8l8.0,3.8M1002.9,666.4L1011.0,669.0l0.8,-7.5M1030.2,677.8L1024.2,670.4l-5.1,4.9M1045.8,668.3L1038.0,671.4l3.1,9.3M1057.1,667.2L1047.0,666.6l-4.1,7.0M1066.3,660.8L1058.2,663.2l-1.8,7.5M1076.2,671.1L1074.1,664.0l-8.9,3.3M1073.6,659.1L1081.1,665.8l5.4,-5.4M818.1,671.5L828.1,674.3l3.8,-7.0M829.3,669.9L837.9,671.6l6.9,-7.6M853.3,672.0L852.3,680.6l8.0,0.0M855.9,681.1L856.3,673.9l-7.1,-1.8M880.1,675.3L870.2,677.4l2.2,9.2M883.3,665.9L879.1,675.6l5.8,5.6M906.7,681.0L902.0,672.0l-8.1,2.3M914.3,681.0L909.6,673.5l-6.2,2.7M916.1,667.6L922.4,673.6l8.0,-4.9M920.4,677.4L926.6,670.5l-3.5,-9.0M947.6,672.1L943.9,679.6l7.0,6.3M947.6,682.1L954.9,678.3l0.3,-10.5M964.4,675.2L973.4,670.9l-2.7,-8.6M989.7,675.8L983.1,672.1l-4.4,5.3M986.9,674.8L993.2,671.2l-2.1,-7.8M1009.1,667.6L1008.3,675.1l9.1,2.4M1022.6,682.0L1021.9,673.4l-8.9,2.6M1033.2,667.6L1036.9,673.9l10.4,-1.8M1051.7,673.4L1045.0,673.7l-3.0,7.4M1052.7,686.3L1050.9,679.2l-10.0,-0.3M1077.6,669.8L1070.9,670.3l-4.7,8.5M1096.0,672.0L1086.4,672.8l-0.3,8.4M1098.0,677.7L1091.4,681.2l0.3,7.5M809.8,682.1L817.4,684.5l1.4,-9.6M832.0,680.7L822.7,682.9l-2.0,7.6M830.6,692.1L835.7,683.6l-4.1,-6.3M857.5,691.1L857.3,682.2l-8.3,-1.7M878.0,690.4L871.8,687.5l-7.8,5.5M875.9,692.3L880.2,685.1l-8.3,-4.4M887.7,686.8L895.0,690.5l4.1,-9.1M888.6,675.4L896.2,681.8l4.0,-7.4M905.1,690.6L912.8,691.2l2.6,-8.5M923.3,686.7L927.0,694.2l9.7,-3.0M939.9,676.1L942.2,684.3l7.2,1.7M949.6,671.5L947.8,681.8l6.8,-0.1M971.7,689.6L963.3,685.2l-5.1,6.3M981.3,699.9L978.9,691.2l-8.3,0.1M980.9,678.5L987.5,686.4l9.5,-4.1M1005.8,688.4L997.2,688.2l-0.6,7.0M1025.4,690.7L1017.7,685.4l-3.5,7.2M1029.1,681.2L1029.5,691.3l10.0,-0.2M1037.5,678.5L1034.3,687.2l9.6,3.8M1037.7,680.5L1045.4,687.6l7.6,-3.4M1048.4,689.3L1055.7,684.1l-3.8,-8.1M1072.8,687.0L1068.3,691.9l5.2,8.1M1082.4,686.5L1087.4,693.3l6.3,-5.3M825.5,695.0L827.1,701.7l6.8,1.3M841.0,694.0L837.6,699.8l5.7,4.9M839.3,695.3L843.8,701.0l6.8,-7.0M868.4,703.6L860.5,703.9l-2.2,9.6M870.1,691.8L868.4,701.3l10.0,0.7M891.8,695.1L885.2,693.7l-3.9,6.2M896.4,695.7L897.7,703.9l10.1,0.4M909.8,713.2L905.3,704.6l-6.4,4.1M913.3,694.3L923.6,696.3l3.0,-8.8M935.9,693.4L935.9,700.6l7.7,-1.0M954.3,701.4L947.8,705.0l5.6,8.4M963.9,698.1L956.5,699.3l0.6,7.6M965.4,688.9L964.5,697.1l7.8,3.8M992.1,696.8L989.0,704.8l8.9,4.8M993.1,706.8L998.8,700.4l-3.9,-8.2M1005.8,693.2L1003.5,699.5l6.0,6.9M1020.1,713.7L1023.6,704.3l-9.5,-1.8M1023.2,693.8L1029.5,695.9l2.3,-8.1M1055.1,697.6L1044.6,699.2l-3.4,8.7M1054.0,698.3L1053.6,705.4l8.2,2.8M1071.5,702.8L1067.0,694.0l-6.9,3.8M1081.6,690.3L1075.6,694.5l3.1,8.3M1096.9,694.6L1094.1,701.8l6.9,3.8M815.1,697.5L818.3,707.5l9.7,-0.2M838.4,710.3L831.0,715.7l4.1,5.9M845.4,714.8L838.1,712.6l-5.8,6.7M843.9,716.1L850.7,715.0l-1.2,-9.7M881.4,705.7L871.7,704.5l-1.4,9.6M874.1,702.5L878.4,707.9l6.1,-6.8M881.4,714.8L891.1,714.1l3.8,-7.5M900.6,715.1L908.9,710.4l-4.6,-5.6M926.9,705.7L919.1,712.7l2.4,7.4M911.5,712.9L920.9,713.6l2.5,-9.2M934.6,723.8L941.6,715.7l-4.1,-6.6M957.6,723.5L952.3,716.0l-9.2,1.4M967.4,701.7L968.1,708.5l10.4,1.8M971.0,701.1L976.7,708.0l9.6,-2.2M998.8,716.5L991.1,709.4l-5.8,4.1M1001.0,703.8L1005.4,708.9l6.4,-4.8M1013.8,722.4L1011.9,715.5l-8.3,-0.6M1013.9,716.2L1018.7,708.1l-7.5,-2.8M1043.7,714.8L1042.5,706.2l-8.4,-0.4M1054.4,722.7L1053.6,714.3l-8.2,-0.6M1068.6,714.3L1059.7,709.2l-4.4,6.3M1077.7,710.3L1074.6,703.9l-7.2,0.8M1077.2,704.3L1080.9,714.2l7.0,0.5M1106.2,703.6L1098.5,710.0l4.2,5.2M813.9,716.9L819.7,724.0l5.4,-6.9M837.0,719.7L832.4,726.4l6.3,3.6M841.0,718.0L849.0,719.4l0.6,-10.0M855.8,718.9L852.8,727.9l6.6,4.4M872.4,711.6L870.2,721.2l10.3,1.0M885.8,720.0L889.1,728.0l8.7,-6.0M887.3,710.3L891.2,720.1l6.7,-3.3M911.3,712.0L906.2,719.5l2.7,6.7M923.7,727.0L917.7,723.4l-5.1,6.7M937.0,721.1L927.8,725.8l-0.1,8.5M960.4,723.7L951.8,723.0l-5.2,6.9M964.7,718.1L958.6,723.4l5.7,8.0M978.5,710.7L976.3,717.0l6.7,5.1M973.3,710.4L978.0,718.6l7.5,-4.4M986.5,706.6L988.2,715.8l6.7,-0.4M1002.7,708.1L1002.7,717.6l7.1,-1.4M1020.7,728.2L1020.1,720.8l-8.8,-3.7M1020.6,713.6L1029.4,716.1l3.4,-6.4M1049.2,730.8L1046.5,723.9l-7.2,4.8M1060.6,732.6L1051.9,727.0l-4.5,6.6M1064.6,726.7L1070.0,721.0l-5.0,-5.0M1089.0,713.7L1083.5,719.5l3.2,8.2M1093.3,735.5L1095.7,728.5l-7.7,-6.0M826.9,732.6L818.4,730.5l-2.2,8.9M839.1,729.9L831.9,733.9l2.9,7.7M850.1,731.4L843.0,729.8l-5.1,5.0M857.9,729.0L849.5,726.8l-5.0,5.2M869.0,729.2L870.9,739.3l10.5,1.4M864.4,725.7L872.8,730.5l6.2,-5.1M886.7,728.8L890.7,734.9l8.1,-0.2M913.7,743.5L905.5,737.8l-6.2,3.0M913.3,744.6L915.2,735.0l-6.3,-5.9M923.1,738.5L931.6,739.3l6.5,-8.0M935.7,724.6L941.6,732.7l7.1,-2.6M942.5,721.5L945.3,728.8l7.7,-4.8M970.5,734.6L961.8,728.7l-4.7,6.2M966.3,723.7L975.4,727.7l5.2,-7.1M998.4,738.7L990.8,736.9l-0.7,6.7M1005.8,726.8L1003.6,736.9l7.5,2.1M1019.2,729.9L1009.9,731.5l-0.1,7.6M1013.8,723.7L1022.3,729.5l3.7,-5.7M1033.6,744.8L1036.0,735.9l-5.3,-4.3M1037.1,741.0L1043.7,735.1l-3.6,-6.4M1057.1,719.5L1059.3,726.7l9.1,1.1M1082.8,723.7L1075.3,728.9l2.6,6.9M1096.8,741.3L1092.3,735.4l-8.3,4.3M1086.2,739.7L1095.2,736.2l1.4,-7.9M830.0,757.4L828.1,750.5l-9.0,3.5M823.6,743.8L833.9,745.0l3.2,-8.9M850.9,748.0L847.3,741.0l-8.0,6.4M849.7,739.6L856.7,739.6l-1.5,-9.6M880.4,745.8L872.0,742.0l-2.1,7.7M885.0,735.8L890.3,740.9l6.6,-2.3M894.6,737.2L892.7,744.9l8.1,0.1M916.0,751.7L913.1,745.5l-9.2,0.4M912.6,731.6L914.8,738.3l10.3,-0.8M930.0,743.5L937.7,750.8l9.8,-3.7M934.3,740.6L941.7,739.6l-1.3,-7.0M962.5,749.6L961.2,740.4l-8.3,1.9M973.5,748.7L976.0,741.0l-7.3,-5.3M973.5,742.4L982.0,738.3l-6.5,-8.4M991.0,757.9L995.9,750.6l-7.0,-5.3M1015.5,733.3L1011.2,741.1l6.5,7.0M1006.7,741.2L1014.9,744.4l2.3,-9.2M1038.2,748.4L1032.0,750.8l4.1,6.7M1044.6,758.7L1046.0,750.0l-6.0,-5.2M1064.8,750.1L1054.7,746.9l-4.8,6.5M1061.3,731.3L1064.9,739.0l9.0,-5.5M1067.5,748.4L1074.4,750.8l1.0,-7.2M1091.1,747.4L1097.3,743.3l-3.1,-10.2M825.4,750.5L832.8,751.8l4.4,-5.3M825.5,747.9L835.5,749.7l6.5,-7.1M850.8,763.0L852.2,754.6l-9.3,-4.1M862.4,763.0L864.3,755.8l-7.5,-1.2M888.6,742.4L882.0,750.7l2.8,7.6M883.6,750.5L888.0,756.5l7.4,-2.0M891.2,755.6L898.3,754.5l-2.9,-10.0M922.4,767.2L916.8,760.7l-9.8,3.0M914.5,764.8L921.8,761.1l-3.1,-6.5M928.8,745.8L933.5,754.1l8.2,-5.2M954.7,764.8L954.2,756.3l-8.7,0.2M967.6,765.5L970.0,758.7l-7.3,-6.7M990.2,754.0L980.6,750.5l-6.3,5.8M982.9,760.0L991.3,762.1l3.9,-8.0M1004.4,747.6L1004.5,755.2l9.0,4.0M1020.9,755.2L1015.5,761.1l5.6,6.3M1033.3,751.4L1031.8,757.9l6.6,1.3M1026.8,759.9L1034.4,759.1l-1.6,-8.9M1050.6,761.9L1047.0,754.7l-9.0,4.9M1056.6,756.4L1063.3,749.4l-3.7,-8.0M1067.4,765.8L1073.7,760.4l-2.3,-6.6M1087.6,760.7L1080.9,759.0l-0.6,10.4M1106.3,762.5L1100.4,754.0l-6.3,7.0M831.8,771.5L825.4,765.5l-6.9,3.8M836.4,752.3L833.9,762.1l6.9,4.0M842.2,756.7L846.4,766.5l7.8,-1.7M850.9,764.4L856.1,772.3l6.2,-2.6M862.7,755.4L868.3,762.9l5.7,-5.9M881.0,775.2L889.4,771.8l-1.0,-7.1M903.7,777.3L898.3,773.3l-7.9,6.3M907.1,769.2L904.9,761.6l-8.0,-1.8M919.7,765.0L921.1,773.0l7.3,1.3M929.1,753.0L927.8,761.9l6.9,5.8M939.2,762.4L948.0,763.5l4.9,-8.8M958.4,755.5L962.1,761.6l8.4,0.3M971.5,756.4L970.6,763.3l5.6,4.5M983.4,763.0L976.5,763.5l-2.8,7.1M996.9,754.4L999.8,760.7l6.4,-3.4M997.3,765.2L1004.2,766.5l2.4,-9.4M1018.6,752.8L1018.5,763.3l8.5,-1.5M1037.1,758.4L1029.8,763.5l4.9,5.7M1030.6,758.4L1038.7,764.4l7.2,-7.5M1059.6,780.6L1053.1,773.4l-8.3,1.6M1070.9,767.0L1065.2,762.8l-3.8,6.0M1086.4,758.3L1080.3,763.3l7.0,5.3M1088.9,765.7L1090.9,772.8l8.0,-4.2M1105.3,760.7L1098.8,763.3l1.6,7.6M831.5,790.8L827.5,782.1l-6.5,4.9M834.9,761.7L834.7,771.9l7.6,2.6M845.4,771.4L846.7,779.0l7.0,2.8M862.4,789.2L864.5,782.5l-8.1,-0.8M888.3,770.7L880.0,773.4l3.8,8.2M876.0,774.3L884.6,777.5l2.4,-8.6M908.2,782.0L899.4,778.8l-3.9,6.1M914.9,770.5L914.2,779.8l7.7,3.3M936.5,781.2L930.8,773.8l-9.9,4.0M926.1,778.2L934.7,780.1l1.4,-10.6M960.8,779.1L953.4,783.0l5.5,7.4M957.8,774.0L963.2,777.9l7.1,-3.5M976.2,770.2L970.3,774.7l6.3,5.8M988.0,784.3L994.7,784.8l1.4,-8.4M989.5,783.3L995.9,781.2l1.2,-10.6M1015.3,787.7L1019.4,780.1l-5.3,-6.4M1031.8,777.9L1028.2,772.1l-8.2,1.2M1046.8,778.5L1044.2,784.9l7.0,2.6M1058.7,776.9L1049.2,778.2l0.5,7.0M1061.3,773.6L1065.0,779.9l7.2,0.1M1085.5,774.2L1077.8,772.1l-5.9,6.0M1091.9,778.0L1084.6,783.3l7.3,6.2M1103.2,782.5L1098.1,774.8l-8.2,3.2M826.9,783.0L823.3,790.8l6.8,2.0M830.2,779.4L828.9,787.1l7.7,0.3M843.6,800.6L843.9,793.6l-9.4,-2.6M847.7,786.8L854.2,784.0l-3.1,-6.7M865.8,790.8L875.1,793.8l1.9,-7.2M880.2,786.0L886.5,788.1l1.5,-7.3M903.0,773.9L901.9,783.5l6.9,5.7M908.3,782.2L906.5,790.2l7.4,3.7M930.5,784.9L926.9,793.3l10.0,3.7M928.0,786.6L936.1,783.3l0.8,-10.6M934.2,799.6L941.2,795.7l-2.0,-10.3M963.5,782.0L957.6,785.4l5.1,9.3M969.4,804.2L965.7,795.6l-7.9,-0.4M990.1,795.8L984.2,791.9l-7.9,6.5M982.8,790.7L991.1,789.9l-1.5,-9.5M1004.5,781.6L1000.4,788.6l6.9,4.9M1014.2,799.5L1015.0,789.4l-10.5,1.1M1025.8,789.4L1033.9,796.0l5.2,-6.1M1050.7,775.4L1045.8,783.0l6.4,6.4M1067.4,790.1L1058.6,791.3l0.3,6.9M1072.3,778.3L1074.7,784.6l9.7,-3.4M1075.6,800.6L1076.8,791.2l-10.1,-0.9M1103.9,784.4L1099.5,793.0l5.9,3.5M839.2,799.8L834.0,806.2l2.7,6.6M836.4,799.1L845.3,796.7l-0.7,-7.9M850.5,796.7L854.3,803.6l9.0,-1.6M870.1,790.5L869.4,799.2l7.5,2.7M878.1,813.0L873.3,804.7l-6.3,3.2M894.1,805.3L887.1,802.2l-4.9,5.7M897.7,801.5L901.5,794.7l-6.0,-5.2M908.6,817.2L907.9,807.5l-7.6,-1.0M915.9,795.6L925.2,798.7l5.3,-5.4M938.8,804.9L944.0,796.9l-6.4,-8.1M957.1,796.9L951.6,801.2l2.4,6.8M959.9,808.9L968.7,806.7l-3.7,-10.0M979.6,806.8L975.2,797.7l-7.4,5.0M990.0,806.4L987.8,796.6l-7.0,-1.8M1001.8,807.9L999.4,797.8l-9.7,3.0M1014.8,808.0L1012.3,800.3l-8.6,-2.2M1026.6,790.8L1019.6,795.2l-0.2,9.1M1026.5,804.0L1034.6,799.1l-4.8,-6.8M1059.6,806.2L1052.2,804.1l-1.0,8.0M1056.2,809.3L1058.5,801.0l-7.4,-3.5M1075.3,792.6L1069.4,797.1l4.4,7.6M1078.9,813.0L1084.4,807.6l-2.2,-9.3M827.8,806.6L826.4,816.0l8.6,2.1M834.0,801.7L838.3,808.3l8.2,-5.9M845.8,801.0L844.3,810.2l7.3,0.3M869.6,811.8L865.1,818.1l4.0,8.7M861.6,817.4L867.4,809.4l-6.9,-3.6M890.4,807.4L884.3,810.2l3.6,6.1M894.4,822.6L891.3,815.6l-7.9,0.1M902.8,821.9L904.3,812.4l-10.3,-0.7M914.1,816.3L917.2,809.0l-8.1,-4.6M926.6,816.3L932.8,811.6l-6.8,-6.0M949.9,818.8L951.8,811.9l-6.3,-7.3M958.4,802.4L952.3,806.7l4.9,7.0M972.8,811.3L974.3,818.8l6.5,-1.9M979.6,810.3L988.4,812.7l0.6,-9.1M995.1,823.5L990.1,817.4l-7.9,5.9M1011.5,819.9L1006.1,813.8l-5.5,5.9M1024.8,821.3L1023.6,814.6l-9.2,-3.7M1039.7,800.4L1033.8,807.2l5.4,8.2M1046.7,807.4L1050.4,814.2l9.3,-0.8M1054.1,800.8L1055.0,807.8l8.9,3.0M1070.3,815.1L1074.2,806.0l-7.4,-4.7M1083.1,813.8L1076.1,818.6l5.5,8.1M1102.5,810.1L1095.3,809.9l1.1,8.9M830.6,825.5L830.0,818.1l-8.6,-4.6M843.1,824.7L843.5,817.3l-8.2,1.1M851.9,817.3L858.7,824.6l8.8,-5.9M864.2,829.4L858.6,821.9l-8.9,4.0M867.6,831.0L873.8,827.9l-3.2,-6.4M898.4,816.1L894.5,825.6l4.9,4.7M904.8,816.7L903.6,824.8l6.9,-0.3M929.8,821.0L921.2,826.2l2.3,7.1M938.5,827.5L928.4,824.5l-6.4,7.2M932.5,818.4L932.9,827.9l7.4,1.0M965.3,816.0L955.7,818.7l2.8,9.6M965.3,828.6L966.2,820.4l-7.6,-5.4M974.2,830.3L980.5,827.1l-2.0,-6.3M991.7,837.1L994.4,827.5l-9.0,-3.3M1008.4,822.4L1001.1,825.9l0.8,8.7M1022.6,818.4L1015.8,824.7l2.6,7.5M1028.2,824.1L1020.7,822.3l-7.7,7.4M1024.5,819.8L1031.8,826.7l5.7,-6.8M1047.7,831.2L1048.9,822.3l-7.0,-0.3M1064.6,812.2L1066.0,820.7l10.1,1.0M1069.9,819.6L1076.7,819.9l-1.2,-7.5M1085.8,830.8L1080.0,826.2l-5.3,5.6M829.3,822.4L830.5,831.2l8.4,0.4M854.2,821.9L853.3,828.5l9.6,-0.8M853.5,827.6L863.0,829.7l3.4,-6.2M867.0,849.4L866.9,839.1l-8.5,1.2M880.9,842.7L880.9,832.9l-7.0,-0.1M890.9,831.5L895.2,839.5l7.6,-1.6M895.4,831.5L903.6,831.5l0.0,-9.0M932.3,845.5L925.1,839.8l-4.2,8.2M920.3,827.4L929.8,828.5l0.3,-8.6M936.4,837.1L942.7,830.7l-4.8,-6.0M958.7,841.9L953.7,833.0l-7.4,1.6M974.5,846.1L969.0,837.5l-9.0,4.2M985.8,824.0L984.9,832.9l6.5,3.9M991.1,825.4L995.5,834.4l7.7,-3.1M1013.0,835.8L1002.4,837.3l-3.1,8.2M1027.8,838.2L1024.4,829.2l-8.9,-1.6M1034.8,846.2L1036.3,839.7l-6.3,-5.4M1046.8,822.8L1038.8,829.4l2.2,9.9M1065.5,832.5L1057.0,837.6l3.9,9.3M1060.9,823.0L1069.6,829.0l4.1,-8.6M1087.1,838.4L1082.0,834.1l-9.7,3.5M1088.4,836.5L1091.7,830.3l-8.4,-3.3M821.1,846.1L829.3,848.9l2.8,-7.4M833.3,833.0L836.4,841.6l7.3,-3.8M853.8,853.1L857.3,847.2l-6.1,-7.8M875.1,851.8L869.4,844.7l-6.3,7.3M869.3,843.1L874.8,850.7l10.3,-0.4M894.6,851.6L895.5,842.3l-7.7,-0.6M903.9,850.0L896.5,847.1l-7.2,6.0M918.0,835.9L919.3,846.0l10.2,-2.3M916.7,836.5L921.9,845.2l6.3,-4.1M932.6,847.6L940.5,853.0l5.0,-4.6M946.4,850.2L955.2,849.3l0.9,-10.5M952.7,846.2L961.7,842.5l-3.3,-7.6M983.4,838.2L977.6,842.1l0.4,8.0M988.9,856.1L990.3,848.3l-9.9,-1.3M1002.6,853.5L996.9,848.3l-6.0,7.0M1008.5,842.2L1016.5,840.2l-4.0,-8.4M1026.7,851.4L1021.2,843.3l-9.1,4.9M1030.4,851.7L1032.6,845.3l-7.7,-6.0M1051.5,855.4L1050.6,848.2l-9.2,-3.5M1049.7,844.2L1056.1,841.5l-0.9,-7.9M1066.8,860.1L1071.5,851.5l-6.1,-5.9M1091.9,835.2L1083.6,841.7l3.8,9.6M847.4,853.5L836.9,853.1l-4.8,9.2M842.2,873.7L845.2,863.5l-6.3,-2.6M857.5,852.1L855.9,861.9l9.7,2.6M871.1,860.0L873.2,853.6l-4.3,-5.3M886.5,861.0L887.8,851.8l-8.0,-6.7M891.5,846.7L896.3,851.9l6.0,-6.5M917.3,860.7L910.1,863.7l2.1,7.0M916.5,846.1L919.8,852.2l7.6,-3.9M924.2,850.4L927.4,856.7l8.5,-1.9M945.5,858.3L940.6,863.7l4.0,5.9M947.4,864.6L954.6,859.7l-5.0,-7.6M967.6,871.6L965.9,864.0l-7.8,0.7M978.1,865.7L979.4,855.9l-6.5,-2.1M996.8,844.5L990.2,851.0l5.9,6.4M1015.3,852.4L1005.9,853.4l2.0,10.3M1012.2,859.7L1021.4,855.0l-1.2,-9.2M1034.8,864.2L1035.2,854.6l-7.4,-2.7M1052.2,851.1L1046.6,856.8l5.3,5.6M1053.0,842.9L1054.3,852.0l9.9,0.1M1063.2,859.8L1068.4,851.9l-3.2,-5.8M1071.8,865.9L1076.8,860.5l-8.8,-6.1M1088.5,860.5L1093.3,854.3l-3.2,-9.1M825.1,857.4L831.0,866.3l7.3,-4.7M841.7,870.4L845.1,864.6l-6.4,-7.8M852.5,862.7L858.7,865.2l5.3,-9.0M862.5,880.4L860.6,873.5l-10.2,-1.3M885.8,875.3L877.2,869.7l-4.8,8.9M885.3,866.9L891.7,869.6l2.4,-7.3M915.3,872.4L908.6,871.2l-4.2,8.8M907.3,866.1L907.8,874.3l8.9,-2.6M909.8,869.2L920.2,868.2l2.5,-9.6M937.0,882.2L936.3,875.3l-9.6,1.4M952.1,881.1L955.9,872.6l-5.4,-5.4M966.6,879.2L967.8,871.1l-9.1,-4.4M983.7,871.6L975.5,871.8l0.4,10.5M990.6,857.5L984.9,866.1l5.3,8.7M994.5,866.8L1004.6,867.6l2.4,-7.9M1029.9,875.0L1019.3,873.3l-5.1,6.8M1035.5,861.7L1030.3,867.6l2.5,7.3M1048.4,868.2L1040.3,873.4l2.7,6.8M1047.2,871.2L1054.2,866.4l-7.5,-7.5M1067.5,867.6L1061.3,874.0l8.0,6.8M1065.9,862.4L1074.8,866.4l7.0,-4.8M1084.0,870.1L1091.1,868.5l0.9,-9.5M843.3,893.3L841.2,885.0l-8.1,-2.6M850.2,888.9L850.4,880.7l-9.1,-0.3M864.0,870.6L864.3,880.4l9.3,0.2M866.8,879.6L865.3,886.2l7.6,1.9M888.1,887.3L881.0,885.5l-4.1,9.1M911.6,877.0L902.2,874.4l-3.1,9.4M919.1,883.0L912.4,875.2l-5.5,5.4M926.2,894.2L923.9,886.3l-7.4,-1.0M926.8,891.8L927.7,884.3l-6.8,-4.4M956.9,872.8L946.9,876.2l3.0,9.6M972.5,882.1L962.3,883.8l-0.9,10.2M975.3,876.9L971.2,886.3l6.6,5.0M992.7,877.8L984.4,875.4l-1.2,10.2M986.5,880.9L995.5,878.1l-0.5,-10.6M1014.6,878.7L1008.1,884.3l2.4,6.8M1022.9,882.2L1020.3,873.7l-9.9,1.8M1017.5,882.8L1025.3,884.3l0.7,-6.6M1047.6,892.9L1045.5,885.6l-7.6,-0.7M1062.9,888.0L1056.8,881.5l-6.4,4.6M1060.4,869.9L1068.2,874.0l6.2,-3.6M1087.0,875.8L1080.5,878.2l2.0,6.5M1090.2,877.2L1089.2,884.1l9.0,1.2M819.4,884.0L822.7,890.5l8.7,-1.7M832.2,899.7L821.8,898.2l-4.2,5.9M835.5,898.9L840.8,892.5l-8.6,-5.5M844.1,899.0L850.0,892.7l-7.4,-5.8M860.6,887.1L860.7,894.9l10.3,0.2M869.2,893.9L876.0,893.2l-2.7,-9.5M882.1,876.7L885.7,885.7l7.7,-2.0M914.9,884.2L908.3,888.9l6.8,5.8M912.2,890.0L918.8,886.6l0.0,-8.3M928.1,900.8L933.0,894.3l-3.6,-9.1M943.7,888.9L940.0,896.9l6.6,3.6M940.0,901.3L946.3,894.4l-6.0,-3.8M947.4,887.2L957.6,887.1l-0.7,-10.2M989.6,893.0L982.2,897.4l1.6,6.5M981.7,892.1L989.3,893.7l0.5,-9.1M996.3,901.6L1002.0,897.6l-5.5,-5.5M1021.1,881.3L1013.6,888.3l1.9,6.6M1020.1,902.4L1026.7,896.2l-5.4,-5.3M1030.9,885.1L1040.1,889.8l2.6,-8.8M1056.2,901.1L1047.5,896.9l-3.0,8.1M1064.9,901.6L1063.0,893.5l-8.5,2.2M1071.4,904.9L1068.5,895.5l-7.8,1.1M1083.3,887.9L1091.6,892.3l4.1,-5.8M818.4,896.7L825.9,902.4l8.0,-4.1M846.8,897.6L839.4,903.3l1.0,10.5M845.9,897.5L852.8,899.6l6.3,-7.0M859.1,892.3L865.3,897.0l5.4,-7.4M879.2,908.0L873.9,899.2l-5.6,5.5M872.9,902.0L883.3,901.8l5.6,-8.7M890.1,896.1L896.6,901.3l8.4,-3.4M897.4,903.1L903.8,900.5l-5.6,-9.1M936.3,899.6L927.2,905.1l4.9,5.8M936.7,899.8L930.3,904.1l4.9,4.8M938.4,895.7L941.7,902.5l8.3,1.1M961.7,914.4L960.4,904.8l-6.6,2.3M983.3,901.2L973.0,899.8l1.0,10.2M983.1,907.4L985.2,899.3l-9.2,-3.2M988.7,899.7L996.5,905.8l4.7,-4.9M998.8,914.2L1004.2,909.3l-3.6,-7.6M1011.5,910.9L1018.1,906.2l-3.3,-7.7M1023.6,910.1L1032.2,908.1l-1.9,-10.1M1033.7,899.5L1041.2,897.6l1.3,-8.0M1063.0,912.0L1059.3,904.0l-8.6,2.8M1063.3,909.4L1061.7,899.6l-7.8,-3.0M1077.4,892.8L1082.9,898.9l6.7,-4.2M1096.5,904.6L1086.2,903.5l-2.2,7.1M822.5,920.0L827.1,915.0l-6.0,-5.0M837.2,905.6L842.7,914.3l8.0,-5.7M855.6,920.0L856.5,912.2l-6.8,0.6M860.9,906.2L861.0,916.5l8.9,2.7M874.6,902.3L874.9,912.6l8.1,0.3M892.4,902.0L886.9,910.2l5.3,5.2M899.4,908.7L896.1,918.0l8.9,5.6M914.0,902.8L915.1,913.0l7.7,0.9M925.8,906.9L923.1,914.0l7.8,2.3M940.5,906.8L944.0,913.8l9.7,1.0M954.5,921.8L945.9,918.3l-1.9,6.6M951.6,910.7L960.9,907.6l-0.9,-8.4M977.5,912.4L972.8,907.6l-6.7,2.7M989.8,915.2L986.1,908.5l-7.9,-0.4M1006.3,906.8L996.9,911.4l5.2,8.0M1010.1,915.3L1012.7,907.9l-8.4,-5.2M1030.4,917.3L1022.0,913.8l-2.4,6.3M1034.4,917.0L1039.9,911.4l-5.0,-8.8M1047.4,915.1L1052.6,907.6l-6.3,-4.0M1057.1,900.8L1057.9,909.1l7.9,-1.8M1078.5,915.4L1070.7,914.4l1.2,10.3M1074.5,910.8L1082.5,907.6l-0.5,-7.1M1090.0,911.7L1096.7,909.5l-2.4,-7.6M833.6,915.9L826.9,921.7l1.2,9.4M832.7,920.5L830.8,928.3l5.5,4.1M850.4,933.1L842.2,929.2l-8.3,5.6M855.2,929.8L853.5,921.4l-8.6,-0.3M859.6,924.3L866.7,924.8l3.9,-6.8M888.6,924.3L880.8,928.6l2.6,6.6M887.0,919.7L895.0,924.0l5.7,-4.1M895.7,919.1L902.6,920.1l1.3,-8.8M907.5,918.8L915.3,922.7l5.8,-5.9M937.5,924.2L931.4,928.4l4.8,8.8M944.2,930.5L942.9,920.2l-7.2,0.8M971.3,927.6L964.1,921.2l-7.4,7.0M983.3,932.7L976.3,928.7l-2.3,7.5M986.8,939.5L981.9,931.4l-10.6,-0.0M997.0,923.2L993.0,929.1l5.1,8.1M1002.2,941.3L1001.5,932.1l-9.5,0.1M1019.5,912.4L1014.0,920.9l5.0,6.4M1039.2,925.3L1032.5,930.2l6.8,7.7M1035.8,931.9L1043.9,926.9l-6.6,-6.7M1051.5,916.3L1053.6,925.0l7.3,0.6M1072.6,929.3L1064.4,927.1l-2.0,10.3M1083.9,927.2L1081.2,919.8l-8.8,4.9M1088.5,938.1L1094.9,932.2l-1.6,-10.0M1098.7,923.7L1102.7,931.3l7.4,-1.8M811.6,941.7L820.5,942.8l2.9,-8.1M817.0,948.7L824.8,943.3l-0.4,-7.9M833.1,944.9L839.6,940.8l-0.7,-8.3M850.3,949.8L849.3,942.7l-9.3,-1.9M874.7,936.7L870.6,930.4l-7.3,4.1M877.0,936.0L871.7,930.4l-5.2,6.0M892.7,936.2L885.7,934.8l-4.5,7.0M905.0,943.7L895.8,943.1l0.2,7.8M911.5,943.2L909.6,934.8l-8.0,-2.2M920.2,941.1L929.7,937.4l-0.2,-7.9M940.6,945.2L941.0,937.2l-8.3,-0.8M956.4,945.3L947.6,940.1l-6.1,5.8M973.8,926.4L970.4,934.3l7.7,7.3M964.3,940.8L973.1,941.2l2.7,-7.6M985.6,937.2L990.4,941.9l8.2,-3.2M1000.1,933.7L1007.2,941.1l8.5,-5.6M1015.2,929.7L1007.3,936.0l1.3,10.5M1012.8,937.0L1020.6,931.0l-4.6,-6.6M1039.6,929.8L1036.1,935.5l8.2,3.5M1051.8,934.4L1052.8,942.2l7.8,1.7M1063.0,929.1L1066.1,937.5l6.8,1.2M1069.9,941.6L1076.9,943.2l6.7,-7.4M1078.3,939.3L1086.8,942.5l7.2,-6.5M1106.4,925.1L1101.1,931.0l7.1,5.1M827.4,951.6L827.3,942.1l-9.2,-4.9M836.3,953.9L832.7,945.5l-8.0,-0.3M845.4,948.8L843.5,941.6l-8.6,-1.3M864.2,934.3L865.0,943.7l9.7,3.8M861.6,947.7L868.1,951.7l3.1,-6.0M879.9,952.0L882.0,945.1l-6.7,-5.8M892.8,945.9L898.2,941.9l-6.2,-7.2M896.3,960.6L904.0,953.6l-6.7,-4.8M917.8,957.9L918.3,950.1l-8.2,-2.2M938.4,952.8L936.7,945.7l-8.9,-3.0M948.1,937.2L942.0,943.3l3.3,8.0M972.0,949.7L963.5,943.6l-4.9,5.5M969.9,951.7L968.5,942.2l-8.4,-0.2M985.2,936.1L984.4,945.2l5.7,4.0M995.8,952.0L998.9,945.1l-7.0,-3.7M1001.5,953.4L1002.7,943.6l-7.1,0.2M1018.9,960.1L1021.9,953.2l-8.3,-2.0M1040.4,957.3L1035.4,952.3l-7.9,6.4M1027.2,947.1L1037.3,943.6l-4.1,-9.0M1055.0,938.5L1050.6,947.1l5.3,8.8M1073.0,964.3L1069.0,954.7l-7.0,0.5M1084.3,941.2L1077.4,941.8l-0.8,7.5M1104.8,947.1L1097.7,945.8l-4.3,9.1M1097.5,936.4L1100.8,945.5l6.9,-0.3M823.7,953.6L814.7,954.9l2.9,7.4M821.7,955.8L823.5,962.9l10.2,-1.1M832.3,964.4L838.8,959.5l-4.3,-7.0M851.6,958.4L859.4,961.0l4.9,-6.7M871.0,955.6L863.9,954.4l-0.3,8.4M879.5,953.1L874.0,959.7l6.7,4.0M887.0,971.9L888.3,962.9l-5.3,-4.5M912.4,970.3L908.4,964.2l-6.6,2.1M922.4,966.7L918.7,958.7l-6.1,2.6M933.7,969.6L933.3,963.0l-9.7,-0.5M948.1,955.6L939.7,954.5l-4.8,8.2M954.0,949.4L945.2,955.6l4.6,6.1M950.3,961.7L960.0,963.2l1.7,-8.7M975.3,956.4L978.3,965.8l9.6,1.7M982.3,947.0L987.0,953.2l9.3,-4.7M991.4,954.7L994.7,964.5l9.5,1.4M1016.5,971.7L1013.1,963.8l-7.1,-0.4M1021.7,950.6L1026.3,957.9l6.5,-2.1M1031.7,967.4L1038.9,962.9l-6.9,-6.8M1050.4,966.3L1047.3,959.1l-8.8,1.7M1077.1,951.7L1067.6,954.6l1.5,8.0M1085.7,957.0L1078.3,956.2l-4.3,9.0M1094.6,953.8L1088.4,960.9l8.2,4.9M1090.5,951.1L1097.1,957.3l8.0,-6.7M811.7,975.7L815.5,965.8l-7.0,-2.9M817.6,969.6L824.0,964.7l-3.5,-9.9M830.1,956.3L828.2,965.4l10.0,2.0M850.7,984.3L851.8,976.2l-8.5,-0.5M858.2,963.7L863.2,973.1l7.9,-6.9M860.1,963.1L868.5,964.9l5.3,-5.9M880.8,962.5L884.0,969.9l7.6,1.4M894.9,977.2L891.7,967.8l-7.8,1.5M921.2,960.4L913.4,964.1l-0.5,9.6M930.3,960.3L921.9,966.1l3.7,7.8M949.4,961.0L939.7,965.4l6.1,8.7M945.6,973.3L942.6,967.0l-6.7,4.2M943.2,969.7L951.2,974.9l6.0,-7.8M956.7,968.4L963.3,968.1l2.3,-6.8M973.4,965.5L978.7,974.4l7.4,-1.3M990.1,964.2L999.7,966.3l3.1,-9.8M1007.7,983.8L1009.6,976.5l-10.4,-2.0M1020.2,979.6L1022.4,969.2l-9.9,-2.6M1034.6,961.4L1031.2,967.5l6.5,6.7M1046.8,959.5L1049.6,967.7l6.2,-2.6M1054.3,978.4L1049.9,968.7l-8.4,-0.8M1059.1,969.2L1065.4,964.3l-4.6,-9.1M1072.9,980.4L1075.5,973.9l-7.8,-1.4M1086.5,968.3L1091.7,973.8l6.3,-3.7M1108.7,967.2L1101.0,969.7l4.2,9.6" fill="none" stroke="#cecece" stroke-width="1.9" stroke-linecap="round" stroke-linejoin="round"/>
<path d="M831.0,582.4L827.0,581.7l-0.3,3.0M829.7,580.6L830.7,583.2l3.2,-0.3M847.4,588.2L851.1,590.1l2.8,-1.7M857.9,592.8L859.0,589.5l-3.1,-1.2M873.1,594.4L875.5,592.6l-1.0,-3.8M882.3,584.5L879.4,582.0l-2.7,2.2M892.4,586.3L892.5,582.4l-4.4,0.6M915.6,591.4L911.4,591.9l-1.2,3.7M929.0,592.1L925.7,591.2l-2.7,3.0M930.7,589.7L934.4,589.0l0.2,-3.4M940.3,581.9L943.2,583.2l0.8,-2.8M957.3,589.3L958.4,586.6l-2.5,-1.2M961.2,583.6L964.8,583.3l-0.9,-3.3M977.2,580.6L975.5,583.8l3.0,2.5M985.2,583.4L988.2,586.0l2.7,-3.2M1007.4,583.8L1004.8,582.5l-1.7,3.0M1024.0,580.5L1020.5,579.3l-1.6,3.0M1033.5,580.1L1030.5,581.1l-0.5,3.3M1036.6,585.4L1037.4,581.0l-2.2,-1.8M1051.0,587.1L1051.0,590.1l2.7,0.6M1064.8,588.6L1063.6,585.7l-4.0,-0.1M1085.4,590.0L1086.5,586.3l-3.6,-2.1M1086.1,578.2L1087.7,581.1l4.2,-1.3M1096.6,577.3L1099.6,579.9l2.3,-3.6M831.0,597.6L833.0,600.2l3.2,-3.2M840.2,599.2L837.6,601.2l2.6,2.2M849.8,606.1L849.6,602.1l-3.1,-1.9M871.0,600.9L870.8,597.8l-3.8,-0.3M875.6,594.8L873.3,591.9l-3.6,0.6M885.9,603.5L886.1,600.6l-3.5,-2.5M898.8,587.9L897.6,591.3l3.6,1.1M908.5,599.5L907.9,596.6l-3.9,1.0M932.4,596.4L932.5,600.6l3.7,2.1M944.7,602.7L942.1,599.6l-2.6,2.7M952.8,593.3L952.9,597.5l3.6,0.2M964.4,599.7L962.6,603.2l3.8,2.1M974.2,595.7L974.4,591.6l-4.0,-2.0M990.1,597.4L987.1,598.2l1.0,3.2M1009.0,597.3L1007.0,593.4l-2.5,1.5M1010.9,597.1L1007.1,595.8l-0.3,2.9M1026.3,598.4L1030.4,599.5l1.9,-2.4M1041.3,598.1L1037.8,597.6l-1.6,3.1M1053.0,600.2L1050.9,598.0l-3.6,1.6M1070.9,595.6L1068.4,594.0l-2.0,2.9M1078.2,598.3L1075.5,596.2l-1.8,2.1M1079.7,588.7L1081.2,591.9l2.9,-0.9M1098.7,590.0L1095.6,592.6l2.4,3.3M823.9,613.4L826.3,610.0l-2.6,-2.9M826.9,616.1L828.1,612.6l-3.3,-1.2M846.9,613.3L848.2,609.4l-3.5,-2.0M867.7,610.9L864.5,609.4l-1.3,3.4M864.4,609.5L865.3,606.6l-3.0,-2.8M882.5,599.6L884.7,602.6l3.4,-0.9M895.6,614.7L895.4,611.7l-4.1,-1.8M907.6,610.0L909.6,607.9l-2.4,-3.4M917.7,599.9L917.2,603.4l2.3,1.7M931.4,608.4L929.0,611.8l3.5,1.9M938.8,610.6L942.5,611.3l1.1,-3.0M949.3,613.6L952.4,611.6l-1.8,-2.3M975.7,611.3L972.9,613.9l3.0,2.5M976.0,607.8L978.7,608.9l2.5,-3.2M991.9,613.8L990.0,610.2l-2.8,1.0M1006.0,613.2L1003.2,610.9l-2.7,1.6M1021.0,607.3L1023.3,610.0l2.9,-1.4M1033.9,602.6L1034.0,605.5l4.3,0.4M1049.5,611.7L1045.3,610.9l-1.5,3.2M1056.9,614.7L1055.5,611.6l-4.3,0.1M1075.0,610.4L1073.1,613.7l2.7,1.2M1082.2,608.7L1083.1,605.7l-3.7,-0.8M1085.2,609.2L1086.8,606.0l-2.1,-2.0M1097.3,601.7L1101.3,603.5l0.6,-2.8M829.3,623.1L827.5,625.5l3.7,1.7M840.8,618.3L843.1,616.5l-3.0,-3.3M850.1,622.6L851.1,625.3l4.0,-0.3M874.7,617.2L871.7,614.1l-2.2,2.8M875.5,614.3L878.5,614.1l1.7,-4.0M884.6,615.0L887.7,615.5l0.9,-3.6M908.1,623.0L908.5,619.5l-3.0,-0.6M920.5,619.3L917.1,619.7l-1.5,3.9M927.9,622.3L928.5,618.0l-2.8,-1.0M947.8,623.3L944.9,624.2l-0.2,4.2M948.4,622.2L951.3,620.2l-0.5,-3.5M961.2,614.2L959.6,617.0l2.8,1.9M976.0,615.1L972.8,615.7l1.2,3.7M988.4,615.3L985.1,617.1l2.3,2.8M1002.2,614.4L999.5,613.4l-1.3,4.0M1009.4,612.7L1008.5,615.9l2.5,2.7M1019.8,622.4L1019.6,618.9l-3.1,-1.1M1036.7,619.7L1038.5,616.6l-3.0,-3.0M1047.5,614.1L1049.1,618.1l3.7,-0.4M1060.2,614.0L1059.7,616.8l2.9,1.3M1081.0,628.5L1078.6,624.8l-3.1,1.5M1080.4,615.6L1080.7,619.7l2.9,1.6M829.5,624.4L826.2,627.3l1.6,2.3M842.5,634.3L840.2,631.3l-3.4,1.0M842.1,625.7L841.5,629.8l4.1,1.3M855.2,628.6L854.4,625.9l-4.4,0.5M870.5,630.5L873.2,629.3l-1.1,-2.9M881.1,634.0L879.8,636.9l2.4,1.6M902.5,632.5L898.7,633.7l0.1,4.4M899.2,634.5L902.0,632.5l-2.2,-2.6M918.2,631.5L919.4,627.5l-2.0,-2.3M928.8,632.6L928.2,628.9l-3.6,1.1M955.1,633.0L951.4,631.4l-2.2,2.9M951.2,637.3L954.2,635.9l-0.2,-3.0M975.0,630.4L975.5,633.8l3.2,-0.2M985.8,628.6L984.8,631.6l3.6,0.5M992.8,632.8L991.0,630.5l-3.3,1.2M1008.2,631.1L1011.7,631.4l1.3,-3.1M1024.0,636.8L1022.8,633.3l-3.3,1.5M1032.8,628.9L1036.4,629.8l2.6,-2.8M1052.9,624.0L1049.4,625.1l0.4,4.4M1061.3,633.4L1062.2,630.7l-3.5,-1.2M1075.7,641.6L1075.0,637.8l-2.9,1.0M1085.3,637.3L1081.4,636.5l-1.3,2.8M1092.3,633.8L1093.7,631.3l-2.7,-1.1M818.5,639.4L821.3,636.2l-0.9,-2.7M818.3,647.3L822.3,647.5l2.5,-3.7M836.0,650.8L839.2,649.0l-1.3,-3.0M860.3,642.5L859.7,645.3l3.1,2.9M864.1,637.5L862.0,640.8l3.3,1.5M881.9,644.7L883.3,640.5l-3.1,-2.3M885.8,644.2L883.9,642.1l-2.8,1.6M904.3,647.7L902.0,645.4l-2.8,1.2M914.2,639.7L912.5,643.8l2.9,3.0M929.7,639.9L932.7,637.5l-2.7,-2.5M935.0,639.3L933.5,642.4l3.8,1.3M958.4,634.7L955.9,637.3l2.1,3.1M972.4,640.9L968.9,638.7l-2.5,1.6M985.0,637.9L982.4,639.5l1.5,3.6M983.6,645.5L986.0,642.3l-1.1,-3.0M1006.8,641.3L1004.4,637.8l-4.1,1.6M1005.6,644.1L1009.8,644.0l1.3,-3.3M1031.4,641.6L1029.3,644.2l2.0,2.2M1031.9,638.4L1035.1,640.1l2.8,-2.7M1057.9,646.4L1055.4,645.1l-3.4,2.4M1062.0,637.8L1059.1,638.0l-0.7,3.1M1075.6,641.6L1075.4,644.7l3.4,-0.6M1085.8,648.0L1088.8,647.8l0.9,-3.3M828.5,660.5L826.0,659.3l-2.1,2.4M833.3,658.0L835.7,654.5l-1.9,-2.9M855.6,646.4L851.9,647.7l-0.2,2.9M856.1,659.0L856.6,655.0l-3.4,0.1M877.2,663.0L875.6,659.8l-4.3,0.3M874.3,653.3L877.8,651.0l-0.0,-4.0M891.1,648.6L889.6,651.7l2.7,0.9M903.5,652.1L907.1,654.0l1.6,-3.6M923.9,657.2L920.7,659.5l0.6,3.2M938.2,654.2L938.8,657.1l3.2,-1.3M948.0,659.7L947.2,656.0l-3.1,-0.5M958.8,654.6L957.0,657.9l2.5,3.1M969.6,664.4L970.6,660.5l-2.9,-1.1M973.2,660.4L977.0,660.2l1.0,-3.1M1001.5,649.5L999.8,653.3l3.2,2.1M1010.6,652.1L1008.5,648.9l-2.8,2.1M1015.4,661.5L1012.6,660.5l-1.9,2.4M1031.0,649.9L1033.7,652.0l1.9,-2.7M1037.7,649.3L1040.2,647.9l-2.7,-3.4M1060.6,659.0L1056.7,659.3l0.4,2.9M1075.1,650.6L1072.3,652.6l1.7,3.6M1080.4,655.6L1082.8,659.3l3.4,-0.8M1090.0,655.9L1091.0,651.7l-2.8,-0.3M831.6,664.1L831.8,667.6l2.8,-0.7M843.7,666.6L840.4,664.4l-2.3,1.8M851.9,671.7L850.9,668.3l-2.9,0.6M865.1,673.8L868.4,671.4l-1.3,-3.7M879.0,673.0L882.3,671.5l-1.9,-3.1M898.2,673.8L895.8,670.3l-3.2,1.2M897.3,674.3L898.1,671.2l-2.8,-2.4M919.0,661.5L919.9,665.2l3.3,-1.4M935.4,671.4L931.1,671.6l-0.9,3.1M934.9,662.9L938.9,663.7l2.9,-3.1M945.9,673.3L946.0,668.8l-3.8,-1.1M969.2,672.5L970.0,669.0l-4.0,-1.2M984.0,664.8L982.0,662.6l-2.9,0.9M995.1,658.0L991.7,660.5l0.5,2.8M998.8,668.4L997.2,671.8l3.4,1.6M1007.6,667.9L1011.0,669.0l0.3,-3.1M1026.7,673.5L1024.2,670.4l-2.1,2.1M1041.2,670.1L1038.0,671.4l1.3,3.9M1051.2,666.9L1047.0,666.6l-1.7,2.9M1061.6,662.2L1058.2,663.2l-0.8,3.1M1075.0,667.0L1074.1,664.0l-3.8,1.4M1078.0,663.0L1081.1,665.8l2.3,-2.3M823.9,673.1L828.1,674.3l1.6,-3.0M834.3,670.9L837.9,671.6l2.9,-3.2M852.7,677.0L852.3,680.6l3.4,0.0M856.1,676.9L856.3,673.9l-3.0,-0.7M874.4,676.6L870.2,677.4l0.9,3.8M880.9,671.5L879.1,675.6l2.4,2.3M903.9,675.8L902.0,672.0l-3.4,1.0M911.6,676.7L909.6,673.5l-2.6,1.1M919.8,671.0L922.4,673.6l3.4,-2.1M924.0,673.4L926.6,670.5l-1.5,-3.8M945.5,676.5L943.9,679.6l2.9,2.6M951.8,679.9L954.9,678.3l0.1,-4.4M969.6,672.7L973.4,670.9l-1.1,-3.6M985.9,673.7L983.1,672.1l-1.8,2.2M990.6,672.7L993.2,671.2l-0.9,-3.3M1008.6,672.0L1008.3,675.1l3.8,1.0M1022.2,677.0L1021.9,673.4l-3.7,1.1M1035.3,671.2L1036.9,673.9l4.4,-0.7M1047.8,673.6L1045.0,673.7l-1.3,3.1M1051.7,682.2L1050.9,679.2l-4.2,-0.1M1073.7,670.1L1070.9,670.3l-2.0,3.6M1090.4,672.5L1086.4,672.8l-0.1,3.5M1094.2,679.7L1091.4,681.2l0.1,3.1M814.2,683.5L817.4,684.5l0.6,-4.0M826.6,682.0L822.7,682.9l-0.8,3.2M833.6,687.2L835.7,683.6l-1.7,-2.6M857.3,685.9L857.3,682.2l-3.5,-0.7M874.4,688.7L871.8,687.5l-3.3,2.3M878.4,688.1L880.2,685.1l-3.5,-1.8M891.9,688.9L895.0,690.5l1.7,-3.8M893.0,679.1L896.2,681.8l1.7,-3.1M909.6,691.0L912.8,691.2l1.1,-3.6M925.4,691.0L927.0,694.2l4.1,-1.2M941.2,680.9L942.2,684.3l3.0,0.7M948.6,677.5L947.8,681.8l2.8,-0.0M966.8,687.0L963.3,685.2l-2.1,2.7M979.9,694.8L978.9,691.2l-3.5,0.1M984.7,683.1L987.5,686.4l4.0,-1.7M1000.8,688.3L997.2,688.2l-0.3,2.9M1020.9,687.6L1017.7,685.4l-1.5,3.0M1029.3,687.1L1029.5,691.3l4.2,-0.1M1035.6,683.6L1034.3,687.2l4.0,1.6M1042.1,684.6L1045.4,687.6l3.2,-1.4M1052.7,686.3L1055.7,684.1l-1.6,-3.4M1070.2,689.8L1068.3,691.9l2.2,3.4M1085.3,690.5L1087.4,693.3l2.6,-2.2M826.4,698.9L827.1,701.7l2.9,0.5M839.0,697.4L837.6,699.8l2.4,2.0M841.9,698.6L843.8,701.0l2.9,-2.9M863.8,703.8L860.5,703.9l-0.9,4.0M869.1,697.3L868.4,701.3l4.2,0.3M888.0,694.3L885.2,693.7l-1.6,2.6M897.2,700.5L897.7,703.9l4.3,0.2M907.2,708.2L905.3,704.6l-2.7,1.7M919.3,695.5L923.6,696.3l1.3,-3.7M935.9,697.6L935.9,700.6l3.2,-0.4M950.5,703.5L947.8,705.0l2.4,3.5M959.6,698.8L956.5,699.3l0.3,3.2M964.9,693.7L964.5,697.1l3.3,1.6M990.3,701.4L989.0,704.8l3.7,2.0M996.4,703.1L998.8,700.4l-1.6,-3.4M1004.5,696.9L1003.5,699.5l2.5,2.9M1022.1,708.3L1023.6,704.3l-4.0,-0.7M1026.8,695.0L1029.5,695.9l0.9,-3.4M1049.0,698.5L1044.6,699.2l-1.4,3.6M1053.8,702.5L1053.6,705.4l3.4,1.2M1068.9,697.7L1067.0,694.0l-2.9,1.6M1078.1,692.7L1075.6,694.5l1.3,3.5M1095.3,698.8L1094.1,701.8l2.9,1.6M817.0,703.3L818.3,707.5l4.1,-0.1M834.1,713.4L831.0,715.7l1.7,2.5M841.2,713.5L838.1,712.6l-2.4,2.8M847.8,715.5L850.7,715.0l-0.5,-4.1M875.8,705.0L871.7,704.5l-0.6,4.0M876.6,705.7L878.4,707.9l2.5,-2.8M887.1,714.4L891.1,714.1l1.6,-3.2M905.4,712.4L908.9,710.4l-1.9,-2.3M922.4,709.8L919.1,712.7l1.0,3.1M916.9,713.3L920.9,713.6l1.1,-3.9M938.6,719.1L941.6,715.7l-1.7,-2.8M954.5,719.2L952.3,716.0l-3.9,0.6M967.8,705.7L968.1,708.5l4.4,0.7M974.3,705.1L976.7,708.0l4.0,-0.9M994.3,712.4L991.1,709.4l-2.4,1.7M1003.6,706.7L1005.4,708.9l2.7,-2.0M1012.7,718.4L1011.9,715.5l-3.5,-0.2M1016.7,711.5L1018.7,708.1l-3.2,-1.2M1043.0,709.8L1042.5,706.2l-3.5,-0.2M1054.0,717.8L1053.6,714.3l-3.4,-0.3M1063.5,711.4L1059.7,709.2l-1.9,2.6M1075.9,706.6L1074.6,703.9l-3.0,0.4M1079.4,710.0L1080.9,714.2l3.0,0.2M1101.7,707.3L1098.5,710.0l1.8,2.2M817.3,721.0L819.7,724.0l2.3,-2.9M834.3,723.6L832.4,726.4l2.6,1.5M845.6,718.9L849.0,719.4l0.2,-4.2M854.1,724.2L852.8,727.9l2.8,1.8M871.1,717.2L870.2,721.2l4.3,0.4M887.7,724.6L889.1,728.0l3.6,-2.5M889.5,716.0L891.2,720.1l2.8,-1.4M908.3,716.3L906.2,719.5l1.1,2.8M920.2,724.9L917.7,723.4l-2.1,2.8M931.7,723.8L927.8,725.8l-0.0,3.6M955.5,723.3L951.8,723.0l-2.2,2.9M961.1,721.2L958.6,723.4l2.4,3.4M977.2,714.4L976.3,717.0l2.8,2.1M976.0,715.2L978.0,718.6l3.1,-1.8M987.5,711.9L988.2,715.8l2.8,-0.2M1002.7,713.6L1002.7,717.6l3.0,-0.6M1020.4,723.9L1020.1,720.8l-3.7,-1.6M1025.7,715.1L1029.4,716.1l1.4,-2.7M1047.6,726.8L1046.5,723.9l-3.0,2.0M1055.6,729.4L1051.9,727.0l-1.9,2.8M1067.8,723.4L1070.0,721.0l-2.1,-2.1M1085.8,717.1L1083.5,719.5l1.3,3.4M1094.7,731.4L1095.7,728.5l-3.2,-2.5M822.0,731.4L818.4,730.5l-0.9,3.8M834.9,732.2L831.9,733.9l1.2,3.2M846.0,730.5L843.0,729.8l-2.2,2.1M853.0,727.7L849.5,726.8l-2.1,2.2M870.1,735.1L870.9,739.3l4.4,0.6M869.3,728.5L872.8,730.5l2.6,-2.1M889.0,732.3L890.7,734.9l3.4,-0.1M909.0,740.2L905.5,737.8l-2.6,1.3M914.4,739.0L915.2,735.0l-2.6,-2.5M928.1,738.9L931.6,739.3l2.7,-3.4M939.1,729.3L941.6,732.7l3.0,-1.1M944.1,725.7L945.3,728.8l3.2,-2.0M965.5,731.1L961.8,728.7l-2.0,2.6M971.6,726.0L975.4,727.7l2.2,-3.0M994.0,737.6L990.8,736.9l-0.3,2.8M1004.5,732.6L1003.6,736.9l3.2,0.9M1013.8,730.8L1009.9,731.5l-0.0,3.2M1018.7,727.1L1022.3,729.5l1.5,-2.4M1035.0,739.6L1036.0,735.9l-2.2,-1.8M1040.9,737.6L1043.7,735.1l-1.5,-2.7M1058.4,723.7L1059.3,726.7l3.8,0.4M1078.5,726.7L1075.3,728.9l1.1,2.9M1094.2,737.9L1092.3,735.4l-3.5,1.8M1091.4,737.7L1095.2,736.2l0.6,-3.3M828.9,753.4L828.1,750.5l-3.8,1.4M829.6,744.5L833.9,745.0l1.3,-3.7M848.8,743.9L847.3,741.0l-3.4,2.7M853.8,739.6L856.7,739.6l-0.6,-4.0M875.6,743.6L872.0,742.0l-0.9,3.2M888.1,738.8L890.3,740.9l2.8,-1.0M893.5,741.6L892.7,744.9l3.4,0.0M914.3,748.1L913.1,745.5l-3.9,0.1M913.9,735.5L914.8,738.3l4.3,-0.3M934.5,747.8L937.7,750.8l4.1,-1.6M938.6,740.0L941.7,739.6l-0.5,-2.9M961.8,744.3L961.2,740.4l-3.5,0.8M974.9,744.2L976.0,741.0l-3.1,-2.2M978.4,740.0L982.0,738.3l-2.7,-3.5M993.8,753.7L995.9,750.6l-2.9,-2.2M1013.0,737.8L1011.2,741.1l2.7,2.9M1011.4,743.1L1014.9,744.4l1.0,-3.9M1034.6,749.8L1032.0,750.8l1.7,2.8M1045.4,753.6L1046.0,750.0l-2.5,-2.2M1058.9,748.2L1054.7,746.9l-2.0,2.7M1063.4,735.8L1064.9,739.0l3.8,-2.3M1071.5,749.8L1074.4,750.8l0.4,-3.0M1094.7,745.0L1097.3,743.3l-1.3,-4.3M829.7,751.2L832.8,751.8l1.8,-2.2M831.3,749.0L835.5,749.7l2.7,-3.0M851.6,758.2L852.2,754.6l-3.9,-1.7M863.5,758.8L864.3,755.8l-3.1,-0.5M884.8,747.2L882.0,750.7l1.2,3.2M886.1,754.0L888.0,756.5l3.1,-0.8M895.3,755.0L898.3,754.5l-1.2,-4.2M919.2,763.4L916.8,760.7l-4.1,1.2M918.7,762.6L921.8,761.1l-1.3,-2.7M931.5,750.6L933.5,754.1l3.4,-2.2M954.5,759.9L954.2,756.3l-3.7,0.1M969.0,761.6L970.0,758.7l-3.0,-2.8M984.6,751.9L980.6,750.5l-2.6,2.4M987.8,761.2L991.3,762.1l1.6,-3.3M1004.5,752.0L1004.5,755.2l3.8,1.7M1017.8,758.6L1015.5,761.1l2.4,2.6M1032.4,755.2L1031.8,757.9l2.8,0.5M1031.2,759.4L1034.4,759.1l-0.7,-3.8M1048.5,757.8L1047.0,754.7l-3.8,2.1M1060.5,752.3L1063.3,749.4l-1.5,-3.4M1071.1,762.7L1073.7,760.4l-0.9,-2.8M1083.7,759.7L1080.9,759.0l-0.2,4.4M1102.9,757.6L1100.4,754.0l-2.6,2.9M828.1,768.0L825.4,765.5l-2.9,1.6M834.9,758.0L833.9,762.1l2.9,1.7M844.6,762.4L846.4,766.5l3.3,-0.7M854.0,769.0L856.1,772.3l2.6,-1.1M865.9,759.8L868.3,762.9l2.4,-2.5M885.9,773.2L889.4,771.8l-0.4,-3.0M900.6,775.0L898.3,773.3l-3.3,2.6M905.9,764.8L904.9,761.6l-3.4,-0.8M920.5,769.6L921.1,773.0l3.1,0.5M928.4,758.2L927.8,761.9l2.9,2.4M944.3,763.0L948.0,763.5l2.0,-3.7M960.6,759.1L962.1,761.6l3.5,0.1M971.0,760.4L970.6,763.3l2.3,1.9M979.4,763.3L976.5,763.5l-1.2,3.0M998.6,758.1L999.8,760.7l2.7,-1.4M1001.3,766.0L1004.2,766.5l1.0,-3.9M1018.5,758.9L1018.5,763.3l3.6,-0.6M1032.8,761.3L1029.8,763.5l2.0,2.4M1035.3,761.8L1038.7,764.4l3.0,-3.1M1055.8,776.4L1053.1,773.4l-3.5,0.7M1067.6,764.6L1065.2,762.8l-1.6,2.5M1082.9,761.2L1080.3,763.3l3.0,2.2M1090.1,769.8L1090.9,772.8l3.3,-1.8M1101.5,762.2L1098.8,763.3l0.7,3.2M829.2,785.7L827.5,782.1l-2.7,2.1M834.8,767.6L834.7,771.9l3.2,1.1M846.2,775.8L846.7,779.0l2.9,1.2M863.6,785.3L864.5,782.5l-3.4,-0.3M883.5,772.3L880.0,773.4l1.6,3.5M881.0,776.2L884.6,777.5l1.0,-3.6M903.1,780.1L899.4,778.8l-1.7,2.5M914.5,775.9L914.2,779.8l3.2,1.4M933.2,776.9L930.8,773.8l-4.1,1.7M931.1,779.3L934.7,780.1l0.6,-4.4M956.5,781.4L953.4,783.0l2.3,3.1M960.9,776.3L963.2,777.9l3.0,-1.5M972.7,772.8L970.3,774.7l2.6,2.4M991.9,784.6L994.7,784.8l0.6,-3.5M993.2,782.1L995.9,781.2l0.5,-4.5M1017.7,783.3L1019.4,780.1l-2.2,-2.7M1029.7,774.6L1028.2,772.1l-3.5,0.5M1045.3,782.2L1044.2,784.9l2.9,1.1M1053.2,777.6L1049.2,778.2l0.2,2.9M1063.4,777.3L1065.0,779.9l3.0,0.0M1081.1,773.0L1077.8,772.1l-2.5,2.5M1087.7,781.1L1084.6,783.3l3.1,2.6M1100.2,778.0L1098.1,774.8l-3.4,1.3M824.8,787.5L823.3,790.8l2.9,0.8M829.4,783.8L828.9,787.1l3.2,0.1M843.8,796.5L843.9,793.6l-3.9,-1.1M851.4,785.2L854.2,784.0l-1.3,-2.8M871.2,792.5L875.1,793.8l0.8,-3.0M883.9,787.2L886.5,788.1l0.7,-3.1M902.4,779.5L901.9,783.5l2.9,2.4M907.2,786.9L906.5,790.2l3.1,1.5M928.4,789.7L926.9,793.3l4.2,1.6M932.7,784.7L936.1,783.3l0.3,-4.5M938.3,797.3L941.2,795.7l-0.9,-4.3M960.1,784.0L957.6,785.4l2.1,3.9M967.2,799.2L965.7,795.6l-3.3,-0.2M986.7,793.6L984.2,791.9l-3.3,2.7M987.6,790.2L991.1,789.9l-0.6,-4.0M1002.2,785.6L1000.4,788.6l2.9,2.1M1014.6,793.6L1015.0,789.4l-4.4,0.4M1030.5,793.2L1033.9,796.0l2.2,-2.5M1047.9,779.8L1045.8,783.0l2.7,2.7M1062.3,790.8L1058.6,791.3l0.1,2.9M1073.7,781.9L1074.7,784.6l4.1,-1.4M1076.3,795.2L1076.8,791.2l-4.2,-0.4M1101.4,789.4L1099.5,793.0l2.5,1.5M836.2,803.5L834.0,806.2l1.2,2.8M841.5,797.7L845.3,796.7l-0.3,-3.3M852.7,800.7L854.3,803.6l3.8,-0.7M869.7,795.5L869.4,799.2l3.2,1.1M875.3,808.2L873.3,804.7l-2.6,1.3M890.1,803.5L887.1,802.2l-2.1,2.4M899.9,797.6L901.5,794.7l-2.5,-2.2M908.2,811.6L907.9,807.5l-3.2,-0.4M921.3,797.4L925.2,798.7l2.2,-2.3M941.8,800.3L944.0,796.9l-2.7,-3.4M953.9,799.4L951.6,801.2l1.0,2.8M965.0,807.6L968.7,806.7l-1.5,-4.2M977.0,801.5L975.2,797.7l-3.1,2.1M988.7,800.7L987.8,796.6l-2.9,-0.7M1000.4,802.0L999.4,797.8l-4.1,1.3M1013.4,803.5L1012.3,800.3l-3.6,-0.9M1022.6,793.4L1019.6,795.2l-0.1,3.8M1031.2,801.2L1034.6,799.1l-2.0,-2.8M1055.3,805.0L1052.2,804.1l-0.4,3.4M1057.5,804.4L1058.5,801.0l-3.1,-1.5M1071.9,795.2L1069.4,797.1l1.8,3.2M1082.1,809.9L1084.4,807.6l-0.9,-3.9M827.0,812.1L826.4,816.0l3.6,0.9M836.5,805.5L838.3,808.3l3.4,-2.5M844.9,806.3L844.3,810.2l3.1,0.1M867.0,815.4L865.1,818.1l1.7,3.7M864.9,812.8L867.4,809.4l-2.9,-1.5M886.9,809.1L884.3,810.2l1.5,2.6M892.6,818.5L891.3,815.6l-3.3,0.1M903.6,816.4L904.3,812.4l-4.3,-0.3M915.9,812.1L917.2,809.0l-3.4,-1.9M930.2,813.5L932.8,811.6l-2.9,-2.5M951.0,814.8L951.8,811.9l-2.7,-3.1M954.9,804.9L952.3,806.7l2.1,2.9M973.6,815.6L974.3,818.8l2.7,-0.8M984.7,811.7L988.4,812.7l0.3,-3.8M992.2,820.0L990.1,817.4l-3.3,2.5M1008.3,816.4L1006.1,813.8l-2.3,2.5M1024.1,817.4L1023.6,814.6l-3.9,-1.6M1036.3,804.3L1033.8,807.2l2.3,3.5M1048.8,811.3L1050.4,814.2l3.9,-0.3M1054.6,804.9L1055.0,807.8l3.7,1.3M1072.6,809.8L1074.2,806.0l-3.1,-2.0M1079.1,816.6L1076.1,818.6l2.3,3.4M1098.3,810.0L1095.3,809.9l0.5,3.7M830.3,821.2L830.0,818.1l-3.6,-1.9M843.4,820.4L843.5,817.3l-3.5,0.5M855.9,821.5L858.7,824.6l3.7,-2.5M861.0,825.1L858.6,821.9l-3.7,1.7M871.2,829.2L873.8,827.9l-1.3,-2.7M896.1,821.6L894.5,825.6l2.1,2.0M904.1,821.4L903.6,824.8l2.9,-0.1M924.8,824.0L921.2,826.2l1.0,3.0M932.7,825.8L928.4,824.5l-2.7,3.0M932.8,823.9L932.9,827.9l3.1,0.4M959.7,817.6L955.7,818.7l1.2,4.0M965.8,823.8L966.2,820.4l-3.2,-2.3M977.8,828.4L980.5,827.1l-0.8,-2.7M993.2,831.5L994.4,827.5l-3.8,-1.4M1004.2,824.4L1001.1,825.9l0.3,3.7M1018.7,822.0L1015.8,824.7l1.1,3.2M1023.9,823.0L1020.7,822.3l-3.2,3.1M1028.7,823.8L1031.8,826.7l2.4,-2.9M1048.4,826.0L1048.9,822.3l-2.9,-0.1M1065.4,817.1L1066.0,820.7l4.2,0.4M1073.8,819.8L1076.7,819.9l-0.5,-3.1M1082.5,828.1L1080.0,826.2l-2.2,2.4M830.0,827.5L830.5,831.2l3.5,0.2M853.6,825.8L853.3,828.5l4.1,-0.4M859.0,828.8L863.0,829.7l1.4,-2.6M866.9,843.4L866.9,839.1l-3.6,0.5M880.9,837.0L880.9,832.9l-2.9,-0.0M893.4,836.2L895.2,839.5l3.2,-0.7M900.2,831.5L903.6,831.5l0.0,-3.8M928.1,842.2L925.1,839.8l-1.8,3.4M925.8,828.0L929.8,828.5l0.1,-3.6M940.1,833.4L942.7,830.7l-2.0,-2.5M955.8,836.7L953.7,833.0l-3.1,0.7M971.3,841.1L969.0,837.5l-3.8,1.7M985.3,829.2L984.9,832.9l2.7,1.6M993.7,830.6L995.5,834.4l3.2,-1.3M1006.9,836.7L1002.4,837.3l-1.3,3.4M1025.8,833.0L1024.4,829.2l-3.7,-0.7M1035.7,842.4L1036.3,839.7l-2.6,-2.3M1042.2,826.6L1038.8,829.4l0.9,4.2M1060.5,835.5L1057.0,837.6l1.6,3.9M1066.0,826.5L1069.6,829.0l1.7,-3.6M1084.2,835.9L1082.0,834.1l-4.1,1.5M1090.3,832.9L1091.7,830.3l-3.5,-1.4M825.9,847.8L829.3,848.9l1.2,-3.1M835.1,838.0L836.4,841.6l3.1,-1.6M855.8,849.7L857.3,847.2l-2.6,-3.3M871.8,847.7L869.4,844.7l-2.7,3.0M872.5,847.5L874.8,850.7l4.3,-0.2M895.1,846.2L895.5,842.3l-3.2,-0.3M899.6,848.3L896.5,847.1l-3.0,2.5M918.8,841.8L919.3,846.0l4.3,-0.9M919.7,841.6L921.9,845.2l2.7,-1.7M937.2,850.7L940.5,853.0l2.1,-1.9M951.5,849.7L955.2,849.3l0.4,-4.4M958.0,844.0L961.7,842.5l-1.4,-3.2M980.1,840.5L977.6,842.1l0.1,3.4M989.7,851.6L990.3,848.3l-4.2,-0.6M999.3,850.5L996.9,848.3l-2.5,2.9M1013.2,841.0L1016.5,840.2l-1.7,-3.5M1023.5,846.7L1021.2,843.3l-3.8,2.0M1031.7,848.0L1032.6,845.3l-3.2,-2.5M1051.0,851.2L1050.6,848.2l-3.9,-1.5M1053.4,842.6L1056.1,841.5l-0.4,-3.3M1069.5,855.1L1071.5,851.5l-2.6,-2.5M1087.1,838.9L1083.6,841.7l1.6,4.0M841.3,853.3L836.9,853.1l-2.0,3.9M843.9,867.8L845.2,863.5l-2.7,-1.1M856.5,857.7L855.9,861.9l4.1,1.1M872.3,856.3L873.2,853.6l-1.8,-2.2M887.2,855.7L887.8,851.8l-3.3,-2.8M894.3,849.7L896.3,851.9l2.5,-2.7M913.1,862.4L910.1,863.7l0.9,2.9M918.4,849.6L919.8,852.2l3.2,-1.6M926.1,854.1L927.4,856.7l3.6,-0.8M942.7,861.4L940.6,863.7l1.7,2.5M951.6,861.7L954.6,859.7l-2.1,-3.2M966.6,867.2L965.9,864.0l-3.3,0.3M978.8,860.0L979.4,855.9l-2.7,-0.9M993.0,848.3L990.2,851.0l2.5,2.7M1009.9,853.0L1005.9,853.4l0.8,4.3M1017.5,857.0L1021.4,855.0l-0.5,-3.9M1035.0,858.6L1035.2,854.6l-3.1,-1.1M1048.9,854.4L1046.6,856.8l2.2,2.3M1053.8,848.2L1054.3,852.0l4.1,0.0M1066.2,855.2L1068.4,851.9l-1.4,-2.4M1074.7,862.8L1076.8,860.5l-3.7,-2.6M1091.3,856.9L1093.3,854.3l-1.4,-3.8M828.5,862.5L831.0,866.3l3.1,-2.0M843.7,867.1L845.1,864.6l-2.7,-3.3M856.1,864.1L858.7,865.2l2.2,-3.8M861.4,876.4L860.6,873.5l-4.3,-0.5M880.8,872.1L877.2,869.7l-2.0,3.7M889.0,868.5L891.7,869.6l1.0,-3.1M911.4,871.7L908.6,871.2l-1.8,3.7M907.6,870.9L907.8,874.3l3.8,-1.1M915.8,868.6L920.2,868.2l1.1,-4.0M936.6,878.2L936.3,875.3l-4.0,0.6M954.3,876.2L955.9,872.6l-2.3,-2.3M967.3,874.5L967.8,871.1l-3.8,-1.9M978.9,871.7L975.5,871.8l0.2,4.4M987.3,862.5L984.9,866.1l2.2,3.7M1000.4,867.3L1004.6,867.6l1.0,-3.3M1023.8,874.0L1019.3,873.3l-2.1,2.9M1032.5,865.1L1030.3,867.6l1.1,3.1M1043.7,871.2L1040.3,873.4l1.1,2.8M1051.3,868.4L1054.2,866.4l-3.1,-3.1M1063.9,871.3L1061.3,874.0l3.4,2.9M1071.1,864.7L1074.8,866.4l3.0,-2.0M1088.1,869.2L1091.1,868.5l0.4,-4.0M842.1,888.5L841.2,885.0l-3.4,-1.1M850.3,884.2L850.4,880.7l-3.8,-0.1M864.2,876.3L864.3,880.4l3.9,0.1M866.0,883.4L865.3,886.2l3.2,0.8M884.0,886.2L881.0,885.5l-1.7,3.8M906.2,875.5L902.2,874.4l-1.3,4.0M915.2,878.5L912.4,875.2l-2.3,2.3M924.9,889.6L923.9,886.3l-3.1,-0.4M927.3,887.5L927.7,884.3l-2.9,-1.9M951.1,874.8L946.9,876.2l1.3,4.0M966.6,883.0L962.3,883.8l-0.4,4.3M972.9,882.3L971.2,886.3l2.8,2.1M987.9,876.4L984.4,875.4l-0.5,4.3M991.7,879.3L995.5,878.1l-0.2,-4.4M1010.9,882.0L1008.1,884.3l1.0,2.8M1021.4,877.3L1020.3,873.7l-4.2,0.7M1022.0,883.7L1025.3,884.3l0.3,-2.8M1046.4,888.7L1045.5,885.6l-3.2,-0.3M1059.3,884.2L1056.8,881.5l-2.7,2.0M1064.9,872.3L1068.2,874.0l2.6,-1.5M1083.3,877.2L1080.5,878.2l0.9,2.7M1089.6,881.2L1089.2,884.1l3.8,0.5M821.3,887.8L822.7,890.5l3.7,-0.7M826.2,898.8L821.8,898.2l-1.8,2.5M838.6,895.2L840.8,892.5l-3.6,-2.3M847.5,895.3L850.0,892.7l-3.1,-2.4M860.7,891.6L860.7,894.9l4.3,0.1M873.1,893.5L876.0,893.2l-1.1,-4.0M884.2,881.9L885.7,885.7l3.3,-0.8M911.1,886.9L908.3,888.9l2.9,2.4M916.0,888.0L918.8,886.6l0.0,-3.5M931.0,897.0L933.0,894.3l-1.5,-3.8M941.6,893.6L940.0,896.9l2.8,1.5M943.7,897.3L946.3,894.4l-2.5,-1.6M953.3,887.1L957.6,887.1l-0.3,-4.3M985.3,895.6L982.2,897.4l0.7,2.7M986.1,893.0L989.3,893.7l0.2,-3.8M999.6,899.3L1002.0,897.6l-2.3,-2.3M1016.8,885.3L1013.6,888.3l0.8,2.8M1023.9,898.8L1026.7,896.2l-2.3,-2.2M1036.2,887.8L1040.1,889.8l1.1,-3.7M1051.2,898.7L1047.5,896.9l-1.3,3.4M1063.8,896.9L1063.0,893.5l-3.6,0.9M1069.7,899.5L1068.5,895.5l-3.3,0.5M1088.1,890.4L1091.6,892.3l1.7,-2.4M822.7,900.0L825.9,902.4l3.3,-1.7M842.5,900.9L839.4,903.3l0.4,4.4M849.9,898.7L852.8,899.6l2.6,-2.9M862.7,895.0L865.3,897.0l2.3,-3.1M876.1,902.9L873.9,899.2l-2.4,2.3M878.9,901.9L883.3,901.8l2.4,-3.7M893.9,899.1L896.6,901.3l3.5,-1.4M901.1,901.6L903.8,900.5l-2.3,-3.8M931.0,902.8L927.2,905.1l2.1,2.4M933.0,902.3L930.3,904.1l2.0,2.0M940.3,899.7L941.7,902.5l3.5,0.5M960.9,908.8L960.4,904.8l-2.8,1.0M977.3,900.4L973.0,899.8l0.4,4.3M984.3,902.7L985.2,899.3l-3.8,-1.3M993.2,903.3L996.5,905.8l2.0,-2.1M1001.9,911.4L1004.2,909.3l-1.5,-3.2M1015.3,908.2L1018.1,906.2l-1.4,-3.2M1028.6,908.9L1032.2,908.1l-0.8,-4.2M1038.0,898.4L1041.2,897.6l0.5,-3.4M1060.9,907.4L1059.3,904.0l-3.6,1.2M1062.4,903.8L1061.7,899.6l-3.3,-1.3M1080.6,896.4L1082.9,898.9l2.8,-1.8M1090.5,904.0L1086.2,903.5l-0.9,3.0M825.2,917.1L827.1,915.0l-2.5,-2.1M840.4,910.6L842.7,914.3l3.4,-2.4M856.1,915.5L856.5,912.2l-2.9,0.2M861.0,912.2L861.0,916.5l3.7,1.1M874.8,908.3L874.9,912.6l3.4,0.1M889.2,906.7L886.9,910.2l2.2,2.2M897.5,914.1L896.1,918.0l3.7,2.4M914.7,908.7L915.1,913.0l3.2,0.4M924.3,911.0L923.1,914.0l3.3,0.9M942.6,910.9L944.0,913.8l4.1,0.4M949.5,919.7L945.9,918.3l-0.8,2.8M957.0,908.9L960.9,907.6l-0.4,-3.5M974.8,909.6L972.8,907.6l-2.8,1.1M987.6,911.3L986.1,908.5l-3.3,-0.1M1000.8,909.5L996.9,911.4l2.2,3.4M1011.6,911.0L1012.7,907.9l-3.5,-2.2M1025.5,915.2L1022.0,913.8l-1.0,2.6M1037.6,913.8L1039.9,911.4l-2.1,-3.7M1050.4,910.7L1052.6,907.6l-2.7,-1.7M1057.6,905.6L1057.9,909.1l3.3,-0.7M1074.0,914.8L1070.7,914.4l0.5,4.3M1079.1,908.9L1082.5,907.6l-0.2,-3.0M1093.9,910.4L1096.7,909.5l-1.0,-3.2M829.7,919.2L826.9,921.7l0.5,4.0M831.6,925.0L830.8,928.3l2.3,1.7M845.7,930.9L842.2,929.2l-3.5,2.3M854.2,924.9L853.5,921.4l-3.6,-0.1M863.7,924.6L866.7,924.8l1.6,-2.9M884.1,926.8L880.8,928.6l1.1,2.8M891.7,922.2L895.0,924.0l2.4,-1.7M899.7,919.7L902.6,920.1l0.6,-3.7M912.0,921.1L915.3,922.7l2.4,-2.5M934.0,926.6L931.4,928.4l2.0,3.7M943.4,924.5L942.9,920.2l-3.0,0.4M967.1,923.9L964.1,921.2l-3.1,2.9M979.2,930.4L976.3,928.7l-1.0,3.1M984.0,934.8L981.9,931.4l-4.5,-0.0M994.7,926.6L993.0,929.1l2.1,3.4M1001.8,935.9L1001.5,932.1l-4.0,0.1M1016.3,917.4L1014.0,920.9l2.1,2.7M1035.3,928.1L1032.5,930.2l2.8,3.2M1040.5,929.0L1043.9,926.9l-2.8,-2.8M1052.7,921.3L1053.6,925.0l3.1,0.3M1067.8,928.0L1064.4,927.1l-0.8,4.3M1082.3,922.9L1081.2,919.8l-3.7,2.1M1092.2,934.7L1094.9,932.2l-0.7,-4.2M1101.0,928.1L1102.7,931.3l3.1,-0.8M816.8,942.3L820.5,942.8l1.2,-3.4M821.6,945.6L824.8,943.3l-0.2,-3.3M836.9,942.5L839.6,940.8l-0.3,-3.5M849.7,945.7L849.3,942.7l-3.9,-0.8M872.3,933.0L870.6,930.4l-3.1,1.7M873.9,932.7L871.7,930.4l-2.2,2.5M888.6,935.4L885.7,934.8l-1.9,3.0M899.7,943.4L895.8,943.1l0.1,3.3M910.4,938.3L909.6,934.8l-3.3,-0.9M925.7,939.0L929.7,937.4l-0.1,-3.3M940.8,940.6L941.0,937.2l-3.5,-0.3M951.3,942.3L947.6,940.1l-2.5,2.4M971.8,931.0L970.4,934.3l3.2,3.1M969.4,941.0L973.1,941.2l1.1,-3.2M988.4,939.9L990.4,941.9l3.4,-1.3M1004.2,938.0L1007.2,941.1l3.6,-2.3M1010.6,933.4L1007.3,936.0l0.5,4.4M1017.3,933.5L1020.6,931.0l-1.9,-2.8M1037.6,933.1L1036.1,935.5l3.4,1.5M1052.4,938.9L1052.8,942.2l3.3,0.7M1064.8,934.0L1066.1,937.5l2.8,0.5M1074.0,942.5L1076.9,943.2l2.8,-3.1M1083.2,941.2L1086.8,942.5l3.0,-2.7M1103.3,928.5L1101.1,931.0l3.0,2.1M827.3,946.1L827.3,942.1l-3.9,-2.1M834.2,949.1L832.7,945.5l-3.4,-0.1M844.3,944.6L843.5,941.6l-3.6,-0.5M864.7,939.8L865.0,943.7l4.1,1.6M865.4,950.0L868.1,951.7l1.3,-2.5M881.1,948.0L882.0,945.1l-2.8,-2.4M895.9,943.6L898.2,941.9l-2.6,-3.0M900.8,956.5L904.0,953.6l-2.8,-2.0M918.1,953.4L918.3,950.1l-3.5,-0.9M937.4,948.7L936.7,945.7l-3.7,-1.3M944.6,940.8L942.0,943.3l1.4,3.3M967.1,946.1L963.5,943.6l-2.1,2.3M969.1,946.2L968.5,942.2l-3.5,-0.1M984.8,941.4L984.4,945.2l2.4,1.7M997.6,948.0L998.9,945.1l-3.0,-1.5M1002.2,947.7L1002.7,943.6l-3.0,0.1M1020.6,956.1L1021.9,953.2l-3.5,-0.8M1037.5,954.4L1035.4,952.3l-3.3,2.7M1033.0,945.0L1037.3,943.6l-1.7,-3.8M1052.5,943.5L1050.6,947.1l2.2,3.7M1070.7,958.7L1069.0,954.7l-2.9,0.2M1080.3,941.5L1077.4,941.8l-0.3,3.1M1100.7,946.4L1097.7,945.8l-1.8,3.8M1099.4,941.7L1100.8,945.5l2.9,-0.1M818.5,954.4L814.7,954.9l1.2,3.1M822.7,960.0L823.5,962.9l4.3,-0.5M836.0,961.5L838.8,959.5l-1.8,-2.9M856.1,959.9L859.4,961.0l2.0,-2.8M866.9,954.9L863.9,954.4l-0.1,3.5M876.3,957.0L874.0,959.7l2.8,1.7M887.8,966.7L888.3,962.9l-2.2,-1.9M910.1,966.7L908.4,964.2l-2.8,0.9M920.2,962.0L918.7,958.7l-2.6,1.1M933.5,965.8L933.3,963.0l-4.1,-0.2M943.2,955.0L939.7,954.5l-2.0,3.5M948.9,953.0L945.2,955.6l1.9,2.6M955.9,962.6L960.0,963.2l0.7,-3.7M977.0,961.9L978.3,965.8l4.0,0.7M985.0,950.6L987.0,953.2l3.9,-2.0M993.3,960.4L994.7,964.5l4.0,0.6M1014.5,967.1L1013.1,963.8l-3.0,-0.2M1024.4,954.9L1026.3,957.9l2.7,-0.9M1035.9,964.8L1038.9,962.9l-2.9,-2.9M1048.6,962.1L1047.3,959.1l-3.7,0.7M1071.6,953.4L1067.6,954.6l0.6,3.3M1081.4,956.6L1078.3,956.2l-1.8,3.8M1091.0,957.9L1088.4,960.9l3.4,2.1M1094.3,954.7L1097.1,957.3l3.4,-2.8M813.9,970.0L815.5,965.8l-2.9,-1.2M821.3,966.8L824.0,964.7l-1.5,-4.2M829.0,961.6L828.2,965.4l4.2,0.8M851.4,979.6L851.8,976.2l-3.6,-0.2M861.1,969.2L863.2,973.1l3.3,-2.9M865.0,964.1L868.5,964.9l2.2,-2.5M882.7,966.8L884.0,969.9l3.2,0.6M893.0,971.7L891.7,967.8l-3.3,0.6M916.7,962.5L913.4,964.1l-0.2,4.0M925.4,963.7L921.9,966.1l1.6,3.3M943.7,963.6L939.7,965.4l2.6,3.6M943.9,969.7L942.6,967.0l-2.8,1.8M947.8,972.7L951.2,974.9l2.5,-3.3M960.5,968.2L963.3,968.1l1.0,-2.9M976.5,970.6L978.7,974.4l3.1,-0.6M995.7,965.5L999.7,966.3l1.3,-4.1M1008.8,979.6L1009.6,976.5l-4.4,-0.8M1021.5,973.6L1022.4,969.2l-4.2,-1.1M1032.7,965.0L1031.2,967.5l2.7,2.8M1048.4,964.3L1049.6,967.7l2.6,-1.1M1051.8,972.8L1049.9,968.7l-3.5,-0.3M1062.8,966.3L1065.4,964.3l-1.9,-3.8M1074.4,976.6L1075.5,973.9l-3.3,-0.6M1089.5,971.5L1091.7,973.8l2.7,-1.6M1104.2,968.7L1101.0,969.7l1.8,4.0" fill="none" stroke="#d01c1c" stroke-width="1.9" stroke-linecap="round" stroke-linejoin="round"/>
<path d="M831.9,583.1l3.9,-0.4M857.9,589.0l-3.7,-1.4M880.4,582.9l3.4,3.1M912.9,591.7l5.0,-0.6M924.7,592.3l-3.2,3.6M989.1,584.9l3.2,-3.9M1004.2,583.6l-2.1,3.6M1052.0,590.3l3.2,0.7M849.7,603.5l0.2,4.9M869.4,597.7l-4.5,-0.4M884.8,599.8l-4.1,-2.9M898.9,591.7l4.3,1.4M941.2,600.6l-3.1,3.3M1007.7,594.8l2.4,4.7M1007.0,596.8l-0.3,3.4M1031.1,598.6l2.3,-2.8M1039.0,597.8l4.1,0.6M1049.6,598.6l-4.2,1.9M1067.7,595.0l-2.4,3.5M1082.2,591.6l3.4,-1.0M1096.4,593.8l2.9,3.9M885.9,602.3l4.0,-1.1M893.9,611.0l-4.8,-2.1M930.2,612.4l4.2,2.3M951.8,610.8l-2.1,-2.7M973.9,612.9l3.4,-3.1M1002.2,611.5l-3.3,1.9M1034.0,604.5l-0.1,-3.5M1099.9,602.9l-4.8,-2.2M842.3,617.2l-2.8,2.1M852.5,625.2l4.8,-0.3M877.4,614.1l-3.6,0.3M888.0,614.2l1.0,-4.2M927.5,617.6l-3.3,-1.2M1000.5,613.8l3.2,1.2M826.7,628.2l1.8,2.8M852.8,626.1l-5.2,0.6M872.7,628.3l-1.4,-3.4M898.8,635.3l0.1,5.2M954.2,634.8l-0.3,-3.6M1012.2,630.3l1.5,-3.7M1050.6,624.7l4.1,-1.3M1061.9,631.6l-1.1,3.2M1074.0,638.2l-3.5,1.2M820.3,637.4l-3.4,3.8M859.9,644.3l0.7,-3.3M863.2,641.4l3.9,1.8M931.7,636.6l-3.2,-3.0M968.0,639.3l-3.0,1.9M982.9,640.8l1.8,4.3M985.6,641.3l-1.3,-3.5M1005.3,639.0l2.9,4.2M1054.2,645.9l-4.1,2.8M825.2,660.1l-2.5,2.8M851.8,648.8l-0.2,3.5M876.5,651.8l-4.2,2.7M890.6,652.0l3.2,1.1M1084.0,659.0l4.1,-0.9M1090.0,651.6l-3.3,-0.3M921.1,664.7l4.0,-1.7M939.9,662.6l3.4,-3.7M1038.4,672.8l1.5,4.6M1059.5,662.8l4.1,-1.2M1074.4,665.1l1.0,3.5M900.7,672.3l-4.0,1.2M921.5,672.7l-3.1,-3.0M1036.3,672.9l-1.8,-3.1M1086.3,674.1l-0.2,4.2M824.1,682.6l4.7,-1.1M928.4,693.8l4.9,-1.5M943.3,684.6l3.6,0.9M948.1,680.3l0.9,-5.1M962.5,686.1l-2.5,3.2M1086.6,692.3l-2.5,-3.4M828.2,701.9l3.4,0.6M838.5,700.6l2.8,2.4M843.1,700.2l-2.2,-2.9M897.5,702.7l-0.7,-4.1M904.4,705.2l-3.2,2.1M922.0,696.0l-5.1,-1.0M819.8,707.5l4.9,-0.1M831.6,716.6l2.1,2.9M871.5,706.0l-0.7,4.8M1006.4,708.1l3.2,-2.4M1075.1,704.8l1.5,3.2M833.1,725.4l2.3,-3.3M853.8,728.6l3.3,2.2M870.5,719.8l1.1,-4.8M888.6,726.8l-1.7,-4.0M918.6,723.9l3.0,1.8M929.2,725.1l4.6,-2.4M1053.2,727.9l4.3,2.8M1069.2,721.9l-2.7,2.8M844.1,730.0l3.6,0.8M914.2,734.2l-3.1,-2.9M942.6,732.3l3.5,-1.3M963.1,729.5l4.3,3.0M976.2,726.7l2.6,-3.6M1021.0,728.6l-4.2,-2.9M889.5,740.2l-2.6,-2.6M914.5,737.3l-1.1,-3.4M936.6,749.7l-3.9,-3.7M980.7,738.9l-4.2,2.0M994.8,749.8l-3.5,-2.7M1011.8,739.9l2.2,-3.9M1056.2,747.4l5.0,1.6M1073.4,750.4l-3.5,-1.2M836.5,748.7l3.3,-3.6M887.3,755.6l-2.2,-3.0M897.2,754.7l-3.5,0.5M979.6,751.3l-3.1,2.9M1033.2,759.2l-3.8,0.4M1047.6,755.8l1.8,3.6M1073.4,759.4l-1.1,-3.3M845.7,765.0l-2.1,-4.9M899.1,773.9l2.7,2.0M1039.8,763.2l3.6,-3.7M1099.7,762.9l3.2,-1.3M863.3,782.3l-4.0,-0.4M934.9,778.6l0.7,-5.3M964.2,777.4l3.6,-1.7M971.2,774.0l2.9,-2.3M993.7,784.7l-3.4,-0.3M1050.6,778.0l4.8,-0.7M1085.7,782.5l3.6,-2.7M842.5,793.2l-4.7,-1.3M902.9,784.4l3.4,2.8M940.1,796.3l-3.5,1.9M985.1,792.5l2.9,2.0M989.8,790.0l-4.1,0.4M853.7,802.6l-1.9,-3.5M869.5,797.9l0.3,-4.3M872.4,805.2l-3.1,1.6M943.2,798.1l-2.6,4.0M974.1,798.5l-3.7,2.5M844.5,808.8l0.8,-4.6M865.7,817.1l2.3,-3.1M953.1,807.7l2.4,3.5M1023.8,815.6l0.6,3.4M1034.7,808.4l2.7,4.1M842.3,817.4l-4.1,0.5M873.3,826.9l-1.6,-3.2M932.9,826.5l-0.2,-4.8M1030.7,825.7l-3.6,-3.5M863.5,828.8l1.7,-3.1M865.6,839.3l-4.3,0.6M894.6,838.3l-2.2,-4.0M928.4,828.3l-4.7,-0.6M856.8,848.1l-1.8,2.9M876.3,850.7l5.2,-0.2M919.1,844.5l-0.6,-5.0M922.9,844.6l3.2,-2.0M977.7,843.3l0.2,4.0M988.9,848.1l-5.0,-0.7M1015.3,840.5l-4.0,1.0M1032.3,846.2l-1.1,3.2M838.5,853.2l5.2,0.2M856.1,860.4l0.8,-4.9M886.6,850.8l-4.0,-3.3M979.2,857.4l-0.6,4.9M991.2,850.0l3.3,-3.2M1007.3,853.3l4.7,-0.5M1021.3,853.6l-0.6,-4.6M1035.1,856.0l-0.2,4.8M1092.6,855.3l-2.4,3.1M908.0,872.5l-2.1,4.4M1031.1,866.7l2.6,-2.9M1040.7,874.4l1.3,3.4M947.3,877.7l1.5,4.8M962.1,885.3l-0.5,5.1M994.2,878.5l-4.5,1.4M932.5,893.0l-1.8,-4.6M941.0,897.5l3.3,1.8M957.5,885.5l-0.3,-5.1M1014.7,887.2l3.7,-3.5M1040.5,888.5l1.3,-4.4M1068.9,896.9l1.5,4.7M866.1,895.9l2.7,-3.7M874.7,900.5l2.6,4.4M931.0,904.8l2.4,2.4M941.2,901.5l-1.6,-3.4M876.1,912.7l4.0,0.2M887.7,909.0l2.8,-4.1M897.5,918.8l4.4,2.8M1051.8,908.7l-2.6,3.8M1096.3,908.3l-1.2,-3.8M831.1,927.1l0.9,-3.9M867.3,923.8l2.0,-3.4M901.5,919.9l-3.4,-0.5M993.8,930.3l2.5,4.0M819.2,942.6l-4.5,-0.6M871.2,931.3l2.1,3.2M872.5,931.2l2.6,2.8M885.1,935.9l-2.2,3.5M1037.3,936.0l4.1,1.7M1065.6,936.3l-1.5,-4.2M1087.9,941.6l3.6,-3.3M864.9,942.3l-0.4,-4.7M902.9,954.7l-3.8,3.5M917.1,949.8l-4.1,-1.1M935.3,945.3l-4.5,-1.5M962.8,944.4l-2.4,2.8M998.5,946.1l-1.6,3.4M1098.7,946.0l3.6,0.7M1101.9,945.4l3.5,-0.2M823.2,961.9l-0.9,-3.6M837.8,960.2l-3.2,2.5M863.8,955.6l-0.1,4.2M941.0,954.7l4.2,0.5M1012.0,963.8l-3.5,-0.2M1037.8,963.6l-3.6,2.3M1046.0,959.4l-4.4,0.9M823.5,963.2l-1.8,-5.0M851.7,977.4l-0.6,4.1M1049.2,966.5l-1.4,-4.1M1102.1,969.4l3.8,-1.3" fill="none" stroke="#5a1010" stroke-width="1.5" stroke-linecap="round" opacity="0.6"/>
</g>
<g filter="url(#fsoft)">
<path d="M808.4,633.6L809.7,643.6l10.5,2.0M822.2,652.1L812.9,648.0l-7.7,6.2M792.3,799.6L790.1,808.9l6.6,4.2M842.3,829.8L833.8,835.2l3.6,8.1M812.9,885.1L816.2,894.9l7.6,-2.4" fill="none" stroke="#cecece" stroke-width="1.9" stroke-linecap="round" stroke-linejoin="round"/>
<path d="M809.1,639.4L809.7,643.6l4.4,0.9M816.8,649.7L812.9,648.0l-3.2,2.6M791.0,805.0L790.1,808.9l2.8,1.7M837.3,832.9L833.8,835.2l1.5,3.4M814.8,890.8L816.2,894.9l3.2,-1.0" fill="none" stroke="#d01c1c" stroke-width="1.9" stroke-linecap="round" stroke-linejoin="round"/>
<path d="M809.5,642.1l-0.7,-5.0M811.7,648.9l-3.8,3.1" fill="none" stroke="#5a1010" stroke-width="1.5" stroke-linecap="round" opacity="0.6"/>
</g>
<g filter="url(#fsoft)">
<path d="M1091.8,607.9L1095.4,599.4l-6.7,-3.7M1091.7,648.0L1083.8,648.7l-2.9,9.4M1108.0,823.2L1104.2,814.1l-7.3,3.3M1111.7,883.6L1104.7,890.8l2.2,9.6M1085.6,927.4L1091.2,919.8l-8.7,-4.1" fill="none" stroke="#cecece" stroke-width="1.9" stroke-linecap="round" stroke-linejoin="round"/>
<path d="M1093.9,603.0L1095.4,599.4l-2.8,-1.5M1087.1,648.4L1083.8,648.7l-1.2,4.0M1105.8,817.9L1104.2,814.1l-3.1,1.4M1107.7,887.8L1104.7,890.8l0.9,4.0M1088.9,923.0L1091.2,919.8l-3.6,-1.7" fill="none" stroke="#d01c1c" stroke-width="1.9" stroke-linecap="round" stroke-linejoin="round"/>
<path d="M1089.9,919.2l-4.3,-2.1" fill="none" stroke="#5a1010" stroke-width="1.5" stroke-linecap="round" opacity="0.6"/>
</g>
<circle cx="863.3" cy="960.6" r="11.6" fill="url(#sI)"/>
<circle cx="948.1" cy="960.6" r="11.6" fill="url(#sI)"/>
<circle cx="1032.8" cy="960.6" r="11.6" fill="url(#sI)"/>
<g filter="url(#fsoft)">
<path d="M833.6,946.8L840.0,948.8l1.2,-8.1M848.8,937.6L852.5,945.0l10.7,1.0M868.6,944.8L874.4,940.0l-1.2,-8.7M887.5,932.2L884.0,942.3l6.4,3.4M898.7,960.7L899.5,951.0l-8.0,1.0M929.9,935.1L934.4,943.0l7.4,-5.0M968.1,935.7L974.1,941.7l5.7,-5.2M992.2,936.2L989.3,942.3l5.1,7.3M1017.9,948.8L1013.3,943.4l-5.0,5.6M1073.3,940.7L1066.3,943.6l0.9,8.8M1073.8,957.1L1074.1,948.2l-8.6,-1.7M845.7,968.3L843.2,960.6l-6.2,2.6M880.6,952.0L876.3,958.6l4.6,6.7M880.1,961.8L888.8,957.3l-1.2,-8.4M909.7,950.6L901.6,957.5l6.6,7.5M913.6,957.9L918.1,952.8l-4.1,-7.5M929.0,957.3L929.1,964.0l8.0,3.8M949.9,960.1L957.7,955.9l-4.3,-6.5M982.2,959.1L978.1,949.9l-6.8,0.2M981.9,958.7L989.4,954.4l-4.2,-6.6M1008.4,964.9L1008.1,954.3l-9.8,0.9M1012.7,962.7L1017.6,957.4l-3.8,-8.1M1060.8,956.6L1051.0,955.6l-3.6,7.5M1065.0,967.2L1061.2,960.5l-6.3,4.0M842.5,974.5L836.9,966.6l-7.9,0.4M871.7,965.6L862.0,969.1l-0.8,9.3M870.9,957.1L873.2,965.2l7.6,1.4M893.2,960.4L887.8,964.7l4.1,8.5M892.4,955.9L893.9,965.5l6.9,2.8M904.9,975.1L913.4,975.3l0.7,-7.4M923.1,982.1L925.0,975.2l-8.6,-5.5M927.8,960.3L930.1,967.5l10.5,0.2M952.9,977.4L952.1,968.8l-9.3,-4.9M967.0,960.7L959.6,964.6l4.1,5.6M974.3,974.4L974.6,965.5l-9.8,-0.1M993.6,982.3L986.5,974.9l-9.3,5.0M997.4,974.7L993.4,967.1l-10.6,1.0M1007.4,979.7L1006.5,969.2l-6.7,-1.2M1026.1,974.0L1019.4,972.4l-6.3,8.0M1036.6,969.8L1032.4,963.1l-7.7,2.1M1058.9,962.2L1064.5,966.4l8.4,-4.0M1076.2,971.7L1083.1,972.1l3.5,-7.1" fill="none" stroke="#cecece" stroke-width="1.9" stroke-linecap="round" stroke-linejoin="round"/>
<path d="M837.3,948.0L840.0,948.8l0.5,-3.4M850.9,941.9L852.5,945.0l4.5,0.4M871.9,942.0L874.4,940.0l-0.5,-3.7M885.4,938.0L884.0,942.3l2.7,1.4M899.1,955.1L899.5,951.0l-3.4,0.4M932.5,939.7L934.4,943.0l3.1,-2.1M971.6,939.2L974.1,941.7l2.4,-2.2M990.5,939.7L989.3,942.3l2.1,3.1M1015.2,945.7L1013.3,943.4l-2.1,2.3M1069.2,942.4L1066.3,943.6l0.4,3.7M1074.0,951.9L1074.1,948.2l-3.6,-0.7M844.2,963.8L843.2,960.6l-2.6,1.1M878.1,955.8L876.3,958.6l1.9,2.8M885.1,959.2L888.8,957.3l-0.5,-3.5M905.0,954.6L901.6,957.5l2.8,3.2M916.2,954.9L918.1,952.8l-1.7,-3.1M929.1,961.2L929.1,964.0l3.4,1.6M954.4,957.7L957.7,955.9l-1.8,-2.7M979.9,953.8L978.1,949.9l-2.8,0.1M986.3,956.2L989.4,954.4l-1.7,-2.8M1008.2,958.7L1008.1,954.3l-4.1,0.4M1015.5,959.6L1017.6,957.4l-1.6,-3.4M1055.1,956.0L1051.0,955.6l-1.5,3.2M1062.8,963.3L1061.2,960.5l-2.6,1.7M839.2,969.9L836.9,966.6l-3.3,0.2M866.1,967.6L862.0,969.1l-0.3,3.9M872.2,961.8L873.2,965.2l3.2,0.6M890.1,962.9L887.8,964.7l1.7,3.6M893.3,961.5L893.9,965.5l2.9,1.2M909.8,975.2L913.4,975.3l0.3,-3.1M924.2,978.1L925.0,975.2l-3.6,-2.3M929.1,964.5L930.1,967.5l4.4,0.1M952.4,972.4L952.1,968.8l-3.9,-2.1M962.7,962.9L959.6,964.6l1.7,2.4M974.5,969.2L974.6,965.5l-4.1,-0.0M989.5,978.0L986.5,974.9l-3.9,2.1M995.1,970.3L993.4,967.1l-4.4,0.4M1006.9,973.6L1006.5,969.2l-2.8,-0.5M1022.2,973.1L1019.4,972.4l-2.7,3.4M1034.1,965.9L1032.4,963.1l-3.2,0.9M1062.2,964.6L1064.5,966.4l3.5,-1.7M1080.2,972.0L1083.1,972.1l1.5,-3.0" fill="none" stroke="#d01c1c" stroke-width="1.9" stroke-linecap="round" stroke-linejoin="round"/>
<path d="M854.1,945.2l5.3,0.5M1067.3,943.2l3.5,-1.5M988.3,955.1l-3.7,2.2M1008.1,955.8l0.1,5.3M1017.0,956.2l-1.9,-4.0M1061.8,961.5l1.9,3.3M872.9,963.9l-1.1,-4.0M893.7,964.0l-0.8,-4.8M952.2,970.1l0.4,4.3M973.1,965.5l-4.9,-0.0M991.8,967.2l-5.3,0.5M1018.5,973.6l-3.2,4.0M1033.0,964.1l2.1,3.3M1082.1,972.1l-3.5,-0.2" fill="none" stroke="#5a1010" stroke-width="1.5" stroke-linecap="round" opacity="0.6"/>
</g>
<clipPath id="cpse"><rect x="809.5" y="900" width="306" height="243.5"/></clipPath>
<g clip-path="url(#cpse)">
<path d="M822.5,1093.6 L1102.5,1093.6 L1116.5,1145.5 L808.5,1145.5 Z" fill="#1b466b"/>
<circle cx="841.5" cy="1106.6" r="15.0" fill="url(#sPt)"/>
<circle cx="902.0" cy="1106.6" r="15.0" fill="url(#sPt)"/>
<circle cx="962.5" cy="1106.6" r="15.0" fill="url(#sPt)"/>
<circle cx="1023.0" cy="1106.6" r="15.0" fill="url(#sPt)"/>
<circle cx="1083.5" cy="1106.6" r="15.0" fill="url(#sPt)"/>
<circle cx="823.4" cy="1116.0" r="15.2" fill="url(#sPt)"/>
<circle cx="883.0" cy="1116.0" r="15.2" fill="url(#sPt)"/>
<circle cx="942.6" cy="1116.0" r="15.2" fill="url(#sPt)"/>
<circle cx="1002.2" cy="1116.0" r="15.2" fill="url(#sPt)"/>
<circle cx="1061.8" cy="1116.0" r="15.2" fill="url(#sPt)"/>
<circle cx="1102.5" cy="1119.6" r="14.0" fill="url(#sPt)"/>
<circle cx="788.3" cy="1129.0" r="15.2" fill="url(#sPt)"/>
<circle cx="849.5" cy="1129.0" r="15.2" fill="url(#sPt)"/>
<circle cx="910.7" cy="1129.0" r="15.2" fill="url(#sPt)"/>
<circle cx="971.9" cy="1129.0" r="15.2" fill="url(#sPt)"/>
<circle cx="1033.1" cy="1129.0" r="15.2" fill="url(#sPt)"/>
<circle cx="1094.3" cy="1129.0" r="15.2" fill="url(#sPt)"/>
<circle cx="1155.5" cy="1129.0" r="15.2" fill="url(#sPt)"/>
<circle cx="819.5" cy="1141.6" r="15.2" fill="url(#sPt)"/>
<circle cx="880.7" cy="1141.6" r="15.2" fill="url(#sPt)"/>
<circle cx="941.9" cy="1141.6" r="15.2" fill="url(#sPt)"/>
<circle cx="1003.1" cy="1141.6" r="15.2" fill="url(#sPt)"/>
<circle cx="1064.3" cy="1141.6" r="15.2" fill="url(#sPt)"/>
<circle cx="1125.5" cy="1141.6" r="15.2" fill="url(#sPt)"/>
</g>
<path d="M871.5,976.5 L1053.5,976.5 L1115.5,1097.6 L809.5,1097.6 Z" fill="#1d4a70"/>
<circle cx="871.0" cy="976.5" r="9.3" fill="url(#sPt)"/>
<circle cx="907.6" cy="976.5" r="9.3" fill="url(#sPt)"/>
<circle cx="944.2" cy="976.5" r="9.3" fill="url(#sPt)"/>
<circle cx="980.8" cy="976.5" r="9.3" fill="url(#sPt)"/>
<circle cx="1017.4" cy="976.5" r="9.3" fill="url(#sPt)"/>
<circle cx="1054.0" cy="976.5" r="9.3" fill="url(#sPt)"/>
<circle cx="887.2" cy="979.6" r="9.6" fill="url(#sPt)"/>
<circle cx="924.8" cy="979.6" r="9.6" fill="url(#sPt)"/>
<circle cx="962.5" cy="979.6" r="9.6" fill="url(#sPt)"/>
<circle cx="1000.2" cy="979.6" r="9.6" fill="url(#sPt)"/>
<circle cx="1037.8" cy="979.6" r="9.6" fill="url(#sPt)"/>
<circle cx="865.7" cy="982.7" r="9.9" fill="url(#sPt)"/>
<circle cx="904.4" cy="982.7" r="9.9" fill="url(#sPt)"/>
<circle cx="943.1" cy="982.7" r="9.9" fill="url(#sPt)"/>
<circle cx="981.9" cy="982.7" r="9.9" fill="url(#sPt)"/>
<circle cx="1020.6" cy="982.7" r="9.9" fill="url(#sPt)"/>
<circle cx="1059.3" cy="982.7" r="9.9" fill="url(#sPt)"/>
<circle cx="882.9" cy="986.4" r="10.1" fill="url(#sPt)"/>
<circle cx="922.7" cy="986.4" r="10.1" fill="url(#sPt)"/>
<circle cx="962.5" cy="986.4" r="10.1" fill="url(#sPt)"/>
<circle cx="1002.3" cy="986.4" r="10.1" fill="url(#sPt)"/>
<circle cx="1042.1" cy="986.4" r="10.1" fill="url(#sPt)"/>
<circle cx="860.3" cy="990.0" r="10.4" fill="url(#sPt)"/>
<circle cx="901.2" cy="990.0" r="10.4" fill="url(#sPt)"/>
<circle cx="942.1" cy="990.0" r="10.4" fill="url(#sPt)"/>
<circle cx="982.9" cy="990.0" r="10.4" fill="url(#sPt)"/>
<circle cx="1023.8" cy="990.0" r="10.4" fill="url(#sPt)"/>
<circle cx="1064.7" cy="990.0" r="10.4" fill="url(#sPt)"/>
<circle cx="878.6" cy="994.2" r="10.7" fill="url(#sPt)"/>
<circle cx="920.5" cy="994.2" r="10.7" fill="url(#sPt)"/>
<circle cx="962.5" cy="994.2" r="10.7" fill="url(#sPt)"/>
<circle cx="1004.5" cy="994.2" r="10.7" fill="url(#sPt)"/>
<circle cx="1046.4" cy="994.2" r="10.7" fill="url(#sPt)"/>
<circle cx="854.9" cy="998.4" r="10.9" fill="url(#sPt)"/>
<circle cx="897.9" cy="998.4" r="10.9" fill="url(#sPt)"/>
<circle cx="941.0" cy="998.4" r="10.9" fill="url(#sPt)"/>
<circle cx="984.0" cy="998.4" r="10.9" fill="url(#sPt)"/>
<circle cx="1027.1" cy="998.4" r="10.9" fill="url(#sPt)"/>
<circle cx="1070.1" cy="998.4" r="10.9" fill="url(#sPt)"/>
<circle cx="874.3" cy="1003.1" r="11.2" fill="url(#sPt)"/>
<circle cx="918.4" cy="1003.1" r="11.2" fill="url(#sPt)"/>
<circle cx="962.5" cy="1003.1" r="11.2" fill="url(#sPt)"/>
<circle cx="1006.6" cy="1003.1" r="11.2" fill="url(#sPt)"/>
<circle cx="1050.7" cy="1003.1" r="11.2" fill="url(#sPt)"/>
<circle cx="849.5" cy="1007.7" r="11.5" fill="url(#sPt)"/>
<circle cx="894.7" cy="1007.7" r="11.5" fill="url(#sPt)"/>
<circle cx="939.9" cy="1007.7" r="11.5" fill="url(#sPt)"/>
<circle cx="985.1" cy="1007.7" r="11.5" fill="url(#sPt)"/>
<circle cx="1030.3" cy="1007.7" r="11.5" fill="url(#sPt)"/>
<circle cx="1075.5" cy="1007.7" r="11.5" fill="url(#sPt)"/>
<circle cx="869.5" cy="1013.5" r="11.8" fill="url(#sPt)"/>
<circle cx="916.0" cy="1013.5" r="11.8" fill="url(#sPt)"/>
<circle cx="962.5" cy="1013.5" r="11.8" fill="url(#sPt)"/>
<circle cx="1009.0" cy="1013.5" r="11.8" fill="url(#sPt)"/>
<circle cx="1055.5" cy="1013.5" r="11.8" fill="url(#sPt)"/>
<circle cx="842.9" cy="1019.3" r="12.1" fill="url(#sPt)"/>
<circle cx="890.7" cy="1019.3" r="12.1" fill="url(#sPt)"/>
<circle cx="938.6" cy="1019.3" r="12.1" fill="url(#sPt)"/>
<circle cx="986.4" cy="1019.3" r="12.1" fill="url(#sPt)"/>
<circle cx="1034.3" cy="1019.3" r="12.1" fill="url(#sPt)"/>
<circle cx="1082.1" cy="1019.3" r="12.1" fill="url(#sPt)"/>
<circle cx="864.2" cy="1025.5" r="12.4" fill="url(#sPt)"/>
<circle cx="913.4" cy="1025.5" r="12.4" fill="url(#sPt)"/>
<circle cx="962.5" cy="1025.5" r="12.4" fill="url(#sPt)"/>
<circle cx="1011.6" cy="1025.5" r="12.4" fill="url(#sPt)"/>
<circle cx="1060.8" cy="1025.5" r="12.4" fill="url(#sPt)"/>
<circle cx="836.4" cy="1031.8" r="12.8" fill="url(#sPt)"/>
<circle cx="886.8" cy="1031.8" r="12.8" fill="url(#sPt)"/>
<circle cx="937.3" cy="1031.8" r="12.8" fill="url(#sPt)"/>
<circle cx="987.7" cy="1031.8" r="12.8" fill="url(#sPt)"/>
<circle cx="1038.2" cy="1031.8" r="12.8" fill="url(#sPt)"/>
<circle cx="1088.6" cy="1031.8" r="12.8" fill="url(#sPt)"/>
<circle cx="859.0" cy="1038.6" r="13.1" fill="url(#sPt)"/>
<circle cx="910.8" cy="1038.6" r="13.1" fill="url(#sPt)"/>
<circle cx="962.5" cy="1038.6" r="13.1" fill="url(#sPt)"/>
<circle cx="1014.2" cy="1038.6" r="13.1" fill="url(#sPt)"/>
<circle cx="1066.0" cy="1038.6" r="13.1" fill="url(#sPt)"/>
<circle cx="829.9" cy="1045.4" r="13.4" fill="url(#sPt)"/>
<circle cx="882.9" cy="1045.4" r="13.4" fill="url(#sPt)"/>
<circle cx="936.0" cy="1045.4" r="13.4" fill="url(#sPt)"/>
<circle cx="989.0" cy="1045.4" r="13.4" fill="url(#sPt)"/>
<circle cx="1042.1" cy="1045.4" r="13.4" fill="url(#sPt)"/>
<circle cx="1095.1" cy="1045.4" r="13.4" fill="url(#sPt)"/>
<circle cx="853.8" cy="1053.2" r="13.7" fill="url(#sPt)"/>
<circle cx="908.2" cy="1053.2" r="13.7" fill="url(#sPt)"/>
<circle cx="962.5" cy="1053.2" r="13.7" fill="url(#sPt)"/>
<circle cx="1016.8" cy="1053.2" r="13.7" fill="url(#sPt)"/>
<circle cx="1071.2" cy="1053.2" r="13.7" fill="url(#sPt)"/>
<circle cx="823.4" cy="1061.0" r="14.1" fill="url(#sPt)"/>
<circle cx="879.0" cy="1061.0" r="14.1" fill="url(#sPt)"/>
<circle cx="934.7" cy="1061.0" r="14.1" fill="url(#sPt)"/>
<circle cx="990.3" cy="1061.0" r="14.1" fill="url(#sPt)"/>
<circle cx="1046.0" cy="1061.0" r="14.1" fill="url(#sPt)"/>
<circle cx="1101.6" cy="1061.0" r="14.1" fill="url(#sPt)"/>
<circle cx="848.2" cy="1069.9" r="14.4" fill="url(#sPt)"/>
<circle cx="905.3" cy="1069.9" r="14.4" fill="url(#sPt)"/>
<circle cx="962.5" cy="1069.9" r="14.4" fill="url(#sPt)"/>
<circle cx="1019.7" cy="1069.9" r="14.4" fill="url(#sPt)"/>
<circle cx="1076.8" cy="1069.9" r="14.4" fill="url(#sPt)"/>
<circle cx="815.8" cy="1078.7" r="14.8" fill="url(#sPt)"/>
<circle cx="874.5" cy="1078.7" r="14.8" fill="url(#sPt)"/>
<circle cx="933.2" cy="1078.7" r="14.8" fill="url(#sPt)"/>
<circle cx="991.8" cy="1078.7" r="14.8" fill="url(#sPt)"/>
<circle cx="1050.5" cy="1078.7" r="14.8" fill="url(#sPt)"/>
<circle cx="1109.2" cy="1078.7" r="14.8" fill="url(#sPt)"/>
<circle cx="842.3" cy="1088.2" r="15.2" fill="url(#sPt)"/>
<circle cx="902.4" cy="1088.2" r="15.2" fill="url(#sPt)"/>
<circle cx="962.5" cy="1088.2" r="15.2" fill="url(#sPt)"/>
<circle cx="1022.6" cy="1088.2" r="15.2" fill="url(#sPt)"/>
<circle cx="1082.7" cy="1088.2" r="15.2" fill="url(#sPt)"/>
<circle cx="808.8" cy="1097.6" r="15.5" fill="url(#sPt)"/>
<circle cx="870.3" cy="1097.6" r="15.5" fill="url(#sPt)"/>
<circle cx="931.8" cy="1097.6" r="15.5" fill="url(#sPt)"/>
<circle cx="993.2" cy="1097.6" r="15.5" fill="url(#sPt)"/>
<circle cx="1054.7" cy="1097.6" r="15.5" fill="url(#sPt)"/>
<circle cx="1116.2" cy="1097.6" r="15.5" fill="url(#sPt)"/>
<circle cx="844.8" cy="1001.2" r="13.2" fill="url(#sI)"/>
<circle cx="945.7" cy="1001.2" r="13.2" fill="url(#sI)"/>
<circle cx="1044.8" cy="1001.2" r="13.2" fill="url(#sI)"/>
<g filter="url(#fsoft)">
<path d="M880.7,980.2L872.6,974.1l-9.9,6.7M909.6,990.0L899.6,984.3l-7.4,6.0M923.5,994.7L918.8,982.0l-7.9,5.4M926.5,967.9L930.8,977.0l8.9,-1.6M948.4,966.7L957.8,967.6l-0.2,-12.0M955.6,970.5L966.1,974.6l6.0,-8.3M1002.5,977.7L993.8,975.9l-1.0,11.8M991.7,974.7L999.8,983.6l10.7,-3.3M1013.4,987.5L1017.3,979.0l-6.8,-8.1M1046.5,958.6L1048.2,967.5l13.4,-2.4M1064.8,977.1L1052.9,976.5l-4.4,9.7M849.6,1009.0L850.1,998.1l-10.1,-3.3M862.8,977.1L872.0,985.2l9.6,-2.9M898.1,986.3L891.5,997.9l7.4,6.4M910.6,1006.0L905.7,998.7l-9.6,3.5M928.2,1009.3L929.6,997.1l-13.0,-4.0M951.1,990.6L945.8,983.0l-7.2,5.7M954.2,971.9L957.2,984.3l12.1,-3.3M967.0,987.7L968.9,996.8l12.7,4.6M997.3,982.5L997.3,995.4l11.0,4.7M1028.7,1015.0L1028.0,1002.9l-10.8,-3.7M1058.2,978.1L1048.2,985.0l7.2,8.0M842.7,991.2L849.3,1000.8l9.1,-4.1M857.1,1018.9L868.5,1018.7l4.3,-8.5M897.9,997.0L902.3,1004.4l11.3,-0.6M908.4,1002.4L915.0,1009.7l7.6,-6.5M919.2,1026.4L926.4,1019.0l-2.5,-8.3M980.3,1010.6L982.0,1019.7l9.7,3.1M1006.5,1025.2L999.7,1018.9l-7.7,10.1M1023.1,1006.1L1017.2,1016.5l11.6,3.9M1044.3,996.7L1048.0,1006.2l9.8,0.8M1058.9,1018.3L1057.4,1009.4l-10.9,-0.4M846.0,1032.9L840.0,1021.0l-11.5,4.7M853.8,1019.5L863.3,1021.0l8.4,-9.1M868.7,1023.1L880.3,1027.9l2.3,-12.2M896.0,1015.4L908.7,1018.4l7.7,-7.7M908.7,1027.2L914.2,1037.3l9.3,-2.8M928.1,1025.8L940.0,1021.7l-2.3,-10.4M950.2,1026.3L959.4,1024.6l-2.7,-9.7M977.4,1021.9L971.0,1033.1l11.9,4.5M1019.0,1027.8L1009.7,1031.7l3.6,12.0M1026.6,1009.7L1024.7,1018.8l11.7,6.1M1033.5,1028.1L1043.2,1019.8l-5.4,-10.3M1071.5,1015.4L1070.5,1024.1l10.2,2.3M841.9,1040.2L831.4,1044.0l4.8,8.5M853.3,1040.2L858.9,1047.3l11.9,-1.0M862.1,1062.1L869.5,1054.7l-2.8,-9.6M893.3,1052.4L906.0,1048.4l-6.3,-10.8M926.7,1050.2L932.9,1042.4l-5.2,-7.8M942.1,1044.1L945.1,1035.4l-11.8,-3.0M962.5,1057.6L968.1,1049.4l-4.6,-11.2M989.5,1048.9L985.9,1039.0l-10.8,2.1M1006.5,1034.5L1011.6,1044.3l9.9,-2.0M1021.3,1042.5L1017.0,1053.8l10.8,1.7M1024.3,1049.8L1035.4,1042.3l-2.3,-9.7M1077.8,1036.2L1071.7,1045.9l7.0,10.3M1066.6,1055.9L1075.2,1052.9l-3.8,-10.3" fill="none" stroke="#efefef" stroke-width="2.9" stroke-linecap="round" stroke-linejoin="round"/>
<path d="M876.0,976.7L872.6,974.1l-4.2,2.8M903.8,986.7L899.6,984.3l-3.1,2.5M920.8,987.3L918.8,982.0l-3.3,2.3M929.0,973.1L930.8,977.0l3.7,-0.7M953.9,967.2L957.8,967.6l-0.1,-5.0M961.7,972.9L966.1,974.6l2.5,-3.5M997.4,976.7L993.8,975.9l-0.4,4.9M996.4,979.9L999.8,983.6l4.5,-1.4M1015.7,982.5L1017.3,979.0l-2.9,-3.4M1047.5,963.8L1048.2,967.5l5.6,-1.0M1057.9,976.7L1052.9,976.5l-1.8,4.1M849.9,1002.7L850.1,998.1l-4.2,-1.4M868.1,981.8L872.0,985.2l4.0,-1.2M894.2,993.0L891.5,997.9l3.1,2.7M907.7,1001.7L905.7,998.7l-4.0,1.5M929.0,1002.2L929.6,997.1l-5.5,-1.7M948.0,986.2L945.8,983.0l-3.0,2.4M955.9,979.1L957.2,984.3l5.1,-1.4M968.1,993.0L968.9,996.8l5.3,2.0M997.3,990.0L997.3,995.4l4.6,2.0M1028.3,1008.0L1028.0,1002.9l-4.5,-1.6M1052.4,982.1L1048.2,985.0l3.0,3.3M846.5,996.8L849.3,1000.8l3.8,-1.7M863.8,1018.8L868.5,1018.7l1.8,-3.6M900.5,1001.3L902.3,1004.4l4.7,-0.2M912.3,1006.6L915.0,1009.7l3.2,-2.7M923.4,1022.1L926.4,1019.0l-1.0,-3.5M981.3,1015.9L982.0,1019.7l4.1,1.3M1002.6,1021.6L999.7,1018.9l-3.2,4.2M1019.7,1012.1L1017.2,1016.5l4.9,1.6M1046.4,1002.3L1048.0,1006.2l4.1,0.3M1058.1,1013.1L1057.4,1009.4l-4.6,-0.2M842.5,1026.0L840.0,1021.0l-4.8,2.0M859.3,1020.4L863.3,1021.0l3.5,-3.8M875.4,1025.9L880.3,1027.9l1.0,-5.1M903.4,1017.1L908.7,1018.4l3.3,-3.2M911.9,1033.0L914.2,1037.3l3.9,-1.2M935.0,1023.4L940.0,1021.7l-1.0,-4.4M955.5,1025.3L959.4,1024.6l-1.1,-4.1M973.7,1028.4L971.0,1033.1l5.0,1.9M1013.6,1030.0L1009.7,1031.7l1.5,5.0M1025.5,1015.0L1024.7,1018.8l4.9,2.5M1039.1,1023.3L1043.2,1019.8l-2.3,-4.3M1070.9,1020.4L1070.5,1024.1l4.3,1.0M835.8,1042.4L831.4,1044.0l2.0,3.6M856.6,1044.3L858.9,1047.3l5.0,-0.4M866.4,1057.8L869.5,1054.7l-1.2,-4.0M900.7,1050.1L906.0,1048.4l-2.7,-4.5M930.3,1045.7L932.9,1042.4l-2.2,-3.3M943.9,1039.0L945.1,1035.4l-5.0,-1.3M965.8,1052.9L968.1,1049.4l-1.9,-4.7M987.4,1043.1L985.9,1039.0l-4.5,0.9M1009.5,1040.2L1011.6,1044.3l4.1,-0.8M1018.8,1049.0L1017.0,1053.8l4.5,0.7M1030.7,1045.5L1035.4,1042.3l-1.0,-4.1M1074.2,1041.8L1071.7,1045.9l2.9,4.3M1071.6,1054.2L1075.2,1052.9l-1.6,-4.3" fill="none" stroke="#d01c1c" stroke-width="2.9" stroke-linecap="round" stroke-linejoin="round"/>
<path d="M1016.7,980.2l-2.0,4.3M873.4,984.8l4.8,-1.4M892.6,998.8l3.7,3.2M927.7,996.5l-6.5,-2.0M968.6,995.5l-0.9,-4.6M1049.7,983.9l5.0,-3.4M869.2,1017.4l2.2,-4.3M901.7,1003.3l-2.2,-3.7M916.2,1008.7l3.8,-3.3M998.6,1020.4l-3.9,5.0M1010.2,1033.5l1.8,6.0M1072.1,1024.4l5.1,1.2M832.1,1045.3l2.4,4.3M858.1,1046.2l-2.8,-3.5M868.4,1055.8l-3.7,3.7M967.3,1050.7l-2.8,4.1M984.3,1039.3l-5.4,1.1M1033.7,1043.5l-5.5,3.8M1072.7,1047.5l3.5,5.2M1073.9,1053.4l-4.3,1.5" fill="none" stroke="#5a1010" stroke-width="2.3" stroke-linecap="round" opacity="0.6"/>
</g>
<circle cx="822.6" cy="1058.7" r="16.8" fill="url(#sI)"/>
<circle cx="942.6" cy="1058.7" r="16.8" fill="url(#sI)"/>
<circle cx="1062.4" cy="1058.7" r="16.8" fill="url(#sI)"/>
<circle cx="891.5" cy="616.0" r="3.0" fill="url(#sCl)"/>
<circle cx="1011.0" cy="635.0" r="2.4" fill="url(#sCl)"/>
<circle cx="945.5" cy="745.0" r="2.6" fill="url(#sCl)"/>
<circle cx="1080.0" cy="736.0" r="2.8" fill="url(#sCl)"/>
<circle cx="958.0" cy="869.0" r="2.4" fill="url(#sCl)"/>
<circle cx="904.5" cy="593.0" r="2.6" fill="url(#sNa)"/>
<circle cx="1004.5" cy="630.0" r="3.0" fill="url(#sNa)"/>
<circle cx="990.0" cy="663.5" r="2.8" fill="url(#sNa)"/>
<circle cx="926.0" cy="667.5" r="2.4" fill="url(#sNa)"/>
<circle cx="1029.5" cy="650.5" r="2.4" fill="url(#sNa)"/>
<circle cx="873.0" cy="707.0" r="2.4" fill="url(#sNa)"/>
<circle cx="846.0" cy="715.0" r="2.4" fill="url(#sNa)"/>
<circle cx="975.5" cy="729.5" r="2.8" fill="url(#sNa)"/>
<circle cx="845.0" cy="791.0" r="3.0" fill="url(#sNa)"/>
<circle cx="1007.0" cy="831.0" r="2.6" fill="url(#sNa)"/>
<circle cx="959.5" cy="886.0" r="3.0" fill="url(#sNa)"/>
<circle cx="966.5" cy="893.5" r="2.4" fill="url(#sNa)"/>
<circle cx="1015.5" cy="926.0" r="2.4" fill="url(#sNa)"/>
<circle cx="1052.0" cy="962.5" r="2.2" fill="url(#sNa)"/>
<circle cx="866.0" cy="977.0" r="2.6" fill="url(#sNa)"/>
<circle cx="973.0" cy="1002.5" r="2.6" fill="url(#sNa)"/>
<circle cx="1072.0" cy="1011.0" r="2.6" fill="url(#sNa)"/>
<circle cx="1004.0" cy="1024.0" r="2.6" fill="url(#sNa)"/>
<circle cx="910.5" cy="1068.0" r="2.8" fill="url(#sNa)"/>
<circle cx="972.5" cy="1068.0" r="2.8" fill="url(#sNa)"/>
<circle cx="970.3" cy="761.0" r="3.8" fill="url(#sMg)"/>
<circle cx="918.0" cy="640.0" r="8.0" fill="url(#sO)"/>
<circle cx="926.5" cy="650.0" r="6.0" fill="url(#sH)"/>
<circle cx="1002.5" cy="646.5" r="8.0" fill="url(#sO)"/>
<circle cx="1013.0" cy="652.0" r="6.0" fill="url(#sH)"/>
<circle cx="964.5" cy="663.0" r="5.6" fill="url(#sH)"/>
<circle cx="975.0" cy="668.5" r="8.0" fill="url(#sO)"/>
<circle cx="844.0" cy="677.0" r="8.0" fill="url(#sO)"/>
<circle cx="849.0" cy="670.0" r="6.0" fill="url(#sH)"/>
<circle cx="855.0" cy="711.0" r="5.6" fill="url(#sH)"/>
<circle cx="859.0" cy="718.5" r="8.0" fill="url(#sO)"/>
<circle cx="1106.5" cy="730.5" r="8.0" fill="url(#sO)"/>
<circle cx="1095.5" cy="734.5" r="6.0" fill="url(#sH)"/>
<circle cx="937.0" cy="752.5" r="8.0" fill="url(#sO)"/>
<circle cx="991.5" cy="744.0" r="5.6" fill="url(#sH)"/>
<circle cx="981.0" cy="750.0" r="8.0" fill="url(#sO)"/>
<circle cx="956.5" cy="771.5" r="8.0" fill="url(#sO)"/>
<circle cx="966.0" cy="773.0" r="6.0" fill="url(#sH)"/>
<circle cx="937.5" cy="877.5" r="8.0" fill="url(#sO)"/>
<circle cx="1000.5" cy="916.0" r="6.0" fill="url(#sO)"/>
<circle cx="963.5" cy="592.5" r="8.0" fill="url(#sO)"/>
<circle cx="995.0" cy="586.0" r="5.6" fill="url(#sH)"/>
<circle cx="1005.5" cy="588.0" r="8.0" fill="url(#sO)"/>
<circle cx="1032.5" cy="977.5" r="6.0" fill="url(#sO)"/>
</g>
<text x="1171.60" y="640.00" font-size="31.4" >Pt-I/Ti</text>
<circle cx="1177.4" cy="862.4" r="10.0" fill="url(#sI)"/>
<text x="1204.50" y="869.80" font-size="25" >I</text>
<circle cx="1177.4" cy="913.7" r="10.0" fill="url(#sPt)"/>
<text x="1204.50" y="920.80" font-size="25" >Pt</text>
<circle cx="1177.4" cy="963.2" r="10.0" fill="url(#sCl)"/>
<text x="1204.50" y="970.60" font-size="25" >Cl<tspan dy="-9.0" font-size="16">-</tspan></text>
<circle cx="1177.4" cy="1013.8" r="10.0" fill="url(#sMg)"/>
<text x="1204.50" y="1021.80" font-size="25" >Mg<tspan dy="-9.0" font-size="16">2+</tspan></text>
<circle cx="1177.4" cy="1062.6" r="10.0" fill="url(#sO)"/>
<text x="1204.50" y="1070.40" font-size="25" >O</text>
<circle cx="1177.4" cy="1109.8" r="6.6" fill="url(#sH)"/>
<text x="1204.50" y="1117.60" font-size="25" >H</text>
<text x="667.00" y="610.80" font-size="42.5" font-weight="bold" >e</text>
<rect x="1453.4" y="587.5" width="516.5999999999999" height="495.5" fill="none" stroke="#000" stroke-width="3"/>
<rect x="1462.20" y="1080.11" width="41.40" height="3.79" fill="#958ba1" />
<rect x="1503.60" y="1080.11" width="41.40" height="3.79" fill="#f7aeb0" />
<rect x="1566.20" y="1041.71" width="41.40" height="42.19" fill="url(#gfg)" />
<rect x="1607.60" y="1000.42" width="41.40" height="83.48" fill="url(#gfp)" />
<rect x="1669.80" y="793.96" width="41.40" height="289.94" fill="url(#gfg)" />
<rect x="1711.20" y="959.12" width="41.40" height="124.78" fill="url(#gfp)" />
<rect x="1773.30" y="711.38" width="41.40" height="372.53" fill="url(#gfg)" />
<rect x="1814.70" y="628.79" width="41.40" height="455.11" fill="url(#gfp)" />
<rect x="1876.80" y="793.96" width="41.40" height="289.94" fill="url(#gfg)" />
<rect x="1918.20" y="752.67" width="41.40" height="331.23" fill="url(#gfp)" />
<line x1="1442.80" y1="1083.00" x2="1453.40" y2="1083.00" stroke="#000" stroke-width="2.6" />
<text x="1437.00" y="1090.60" font-size="21.6" text-anchor="end" >0</text>
<line x1="1447.80" y1="1021.06" x2="1453.40" y2="1021.06" stroke="#000" stroke-width="2.6" />
<line x1="1442.80" y1="959.12" x2="1453.40" y2="959.12" stroke="#000" stroke-width="2.6" />
<text x="1437.00" y="966.73" font-size="21.6" text-anchor="end" >3</text>
<line x1="1447.80" y1="897.19" x2="1453.40" y2="897.19" stroke="#000" stroke-width="2.6" />
<line x1="1442.80" y1="835.25" x2="1453.40" y2="835.25" stroke="#000" stroke-width="2.6" />
<text x="1437.00" y="842.85" font-size="21.6" text-anchor="end" >6</text>
<line x1="1447.80" y1="773.31" x2="1453.40" y2="773.31" stroke="#000" stroke-width="2.6" />
<line x1="1442.80" y1="711.38" x2="1453.40" y2="711.38" stroke="#000" stroke-width="2.6" />
<text x="1437.00" y="718.98" font-size="21.6" text-anchor="end" >9</text>
<line x1="1447.80" y1="649.44" x2="1453.40" y2="649.44" stroke="#000" stroke-width="2.6" />
<line x1="1442.80" y1="587.50" x2="1453.40" y2="587.50" stroke="#000" stroke-width="2.6" />
<text x="1437.00" y="593.90" font-size="21.6" text-anchor="end" >12</text>
<text x="1503.60" y="1112.00" font-size="22" text-anchor="middle" >(0,3) Å</text>
<text x="1503.60" y="1136.50" font-size="22" text-anchor="middle" >IHP</text>
<text x="1607.60" y="1112.00" font-size="22" text-anchor="middle" >(3,10) Å</text>
<text x="1607.60" y="1136.50" font-size="22" text-anchor="middle" >OHP</text>
<text x="1711.20" y="1112.00" font-size="22" text-anchor="middle" >(10,30) Å</text>
<text x="1711.20" y="1136.50" font-size="22" text-anchor="middle" >DL</text>
<text x="1814.70" y="1112.00" font-size="22" text-anchor="middle" >(30,50) Å</text>
<text x="1814.70" y="1136.50" font-size="22" text-anchor="middle" >BS</text>
<text x="1918.20" y="1112.00" font-size="22" text-anchor="middle" >(&gt;50) Å</text>
<text x="1918.20" y="1136.50" font-size="22" text-anchor="middle" >BS</text>
<text x="1392.50" y="846.50" font-size="25.4" text-anchor="middle" transform="rotate(-90 1392.50 846.50)" >Number of OH<tspan dy="-10.2" font-size="16.8">-</tspan></text>
<text x="1341.20" y="618.90" font-size="42.5" font-weight="bold" >f</text>
<rect x="1485.00" y="599.20" width="55.00" height="26.60" fill="#7b6d86" />
<rect x="1485.00" y="630.60" width="55.00" height="27.30" fill="#fdb0b3" />
<text x="1547.00" y="620.80" font-size="20.7" >Pt/Ti</text>
<text x="1547.00" y="652.00" font-size="20.7" >Pt-I/Ti</text>
<rect x="45.20" y="1174.30" width="67.00" height="531.20" fill="#a6a6a6" />
<rect x="75.60" y="1178.50" width="5.20" height="24.20" fill="#000" />
<rect x="75.60" y="1261.95" width="5.20" height="24.20" fill="#000" />
<rect x="75.60" y="1345.40" width="5.20" height="24.20" fill="#000" />
<rect x="75.60" y="1428.85" width="5.20" height="24.20" fill="#000" />
<rect x="75.60" y="1512.30" width="5.20" height="24.20" fill="#000" />
<rect x="75.60" y="1595.75" width="5.20" height="24.20" fill="#000" />
<rect x="75.60" y="1679.20" width="5.20" height="24.20" fill="#000" />
<rect x="112.20" y="1174.30" width="371.80" height="531.20" fill="#ddeefa" />
<path d="M128.3,1300.0 Q120.8,1300.0 121.3,1290.0 C122.3,1255.0 158.3,1220.8 212.3,1227.3" fill="none" stroke="#000" stroke-width="2.5" stroke-dasharray="10.5 6.5"/>
<path d="M206.5,1230.5 L216.3,1228.8 L209.4,1221.6" fill="none" stroke="#000" stroke-width="2.5" stroke-linejoin="miter"/>
<path d="M128.3,1300.0 L234.3,1300.0" fill="none" stroke="#000" stroke-width="2.5" stroke-dasharray="10.5 6.5"/>
<path d="M228.0,1304.7 L236.8,1300.0 L228.0,1295.3" fill="none" stroke="#000" stroke-width="2.5" stroke-linejoin="miter"/>
<circle cx="245.3" cy="1230.3" r="24.2" fill="#57cc98" stroke="#e8f7fd" stroke-width="1.2"/>
<text x="245.80" y="1236.80" font-size="22" text-anchor="middle" fill="#fff" >H<tspan dy="5.0" font-size="15">2</tspan></text>
<circle cx="264.3" cy="1301.0" r="24.2" fill="#e8664b" stroke="#e8f7fd" stroke-width="1.2"/>
<text x="263.50" y="1309.20" font-size="22" text-anchor="middle" fill="#fff" >OH<tspan dy="-8.0" font-size="15">-</tspan></text>
<circle cx="291.8" cy="1371.4" r="24.2" fill="#e8664b" stroke="#e8f7fd" stroke-width="1.2"/>
<text x="291.00" y="1379.60" font-size="22" text-anchor="middle" fill="#fff" >OH<tspan dy="-8.0" font-size="15">-</tspan></text>
<circle cx="195.3" cy="1440.4" r="24.2" fill="#e8664b" stroke="#e8f7fd" stroke-width="1.2"/>
<text x="194.50" y="1448.60" font-size="22" text-anchor="middle" fill="#fff" >OH<tspan dy="-8.0" font-size="15">-</tspan></text>
<circle cx="273.6" cy="1499.2" r="24.2" fill="#e8664b" stroke="#e8f7fd" stroke-width="1.2"/>
<text x="272.80" y="1507.40" font-size="22" text-anchor="middle" fill="#fff" >OH<tspan dy="-8.0" font-size="15">-</tspan></text>
<circle cx="227.4" cy="1583.6" r="24.2" fill="#e8664b" stroke="#e8f7fd" stroke-width="1.2"/>
<text x="226.60" y="1591.80" font-size="22" text-anchor="middle" fill="#fff" >OH<tspan dy="-8.0" font-size="15">-</tspan></text>
<circle cx="181.3" cy="1665.8" r="24.2" fill="#e8664b" stroke="#e8f7fd" stroke-width="1.2"/>
<text x="180.50" y="1674.00" font-size="22" text-anchor="middle" fill="#fff" >OH<tspan dy="-8.0" font-size="15">-</tspan></text>
<path d="M184.8,1347 C182,1329 163,1312 131,1309.5" fill="none" stroke="#000" stroke-width="2.5"/>
<path d="M134.9,1305.4 L125.6,1309.0 L134.5,1313.5 Z" fill="#000"/>
<text x="165.60" y="1372.40" font-size="22" >H<tspan dy="4.5" font-size="15">2</tspan><tspan dy="-4.5">O</tspan></text>
<text x="222.30" y="1430.00" font-size="20" >Slow diffusion</text>
<path d="M228.5,1440.3 L347,1440.3" fill="none" stroke="#000" stroke-width="2.5" stroke-dasharray="5.4 2.8"/>
<path d="M342.1,1444.8 L350.5,1440.3 L342.1,1435.8" fill="none" stroke="#000" stroke-width="2.5" stroke-linejoin="miter"/>
<line x1="114.00" y1="1703.50" x2="114.00" y2="1716.50" stroke="#000" stroke-width="2.1" />
<line x1="194.20" y1="1703.50" x2="194.20" y2="1716.50" stroke="#000" stroke-width="2.1" />
<line x1="117.00" y1="1710.00" x2="191.20" y2="1710.00" stroke="#000" stroke-width="2" />
<path d="M124.4,1706.6 L115.5,1710.0 L124.4,1713.4 Z" fill="#000"/>
<path d="M183.8,1713.4 L192.7,1710.0 L183.8,1706.6 Z" fill="#000"/>
<text x="178.50" y="1744.40" font-size="24.7" text-anchor="middle" >Narrow low-pH region</text>
<text x="0.00" y="1186.60" font-size="42.5" font-weight="bold" >g</text>
<path d="M489.0,1434.2 L518.3,1434.2 L514.3,1428.2 L541.8,1439.8 L514.3,1451.4 L518.3,1445.4 L489.0,1445.4 Z" fill="url(#gtr)"/>
<rect x="545.90" y="1174.30" width="67.00" height="531.20" fill="#a6a6a6" />
<rect x="576.30" y="1178.50" width="5.20" height="24.20" fill="#000" />
<rect x="576.30" y="1261.95" width="5.20" height="24.20" fill="#000" />
<rect x="576.30" y="1345.40" width="5.20" height="24.20" fill="#000" />
<rect x="576.30" y="1428.85" width="5.20" height="24.20" fill="#000" />
<rect x="576.30" y="1512.30" width="5.20" height="24.20" fill="#000" />
<rect x="576.30" y="1595.75" width="5.20" height="24.20" fill="#000" />
<rect x="576.30" y="1679.20" width="5.20" height="24.20" fill="#000" />
<rect x="612.90" y="1174.30" width="370.10" height="531.20" fill="#ddeefa" />
<g fill="#fff"><ellipse rx="5.4" ry="2.5" transform="translate(656.7 1184.3) rotate(96)"/><ellipse rx="5.4" ry="2.8" transform="translate(674.8 1181.4) rotate(16)"/><ellipse rx="5.3" ry="2.5" transform="translate(715.8 1188.5) rotate(155)"/><ellipse rx="5.6" ry="2.6" transform="translate(730.9 1186.4) rotate(105)"/><ellipse rx="5.3" ry="2.7" transform="translate(653.7 1197.1) rotate(77)"/><ellipse rx="5.6" ry="2.7" transform="translate(675.9 1204.7) rotate(44)"/><ellipse rx="5.0" ry="2.8" transform="translate(716.4 1204.3) rotate(88)"/><ellipse rx="5.6" ry="2.7" transform="translate(740.1 1205.8) rotate(125)"/><ellipse rx="5.7" ry="2.7" transform="translate(675.1 1219.2) rotate(11)"/><ellipse rx="5.0" ry="2.7" transform="translate(697.2 1216.7) rotate(120)"/><ellipse rx="5.2" ry="2.6" transform="translate(704.7 1213.8) rotate(23)"/><ellipse rx="5.8" ry="2.8" transform="translate(726.9 1218.9) rotate(159)"/><ellipse rx="5.6" ry="2.6" transform="translate(677.5 1234.7) rotate(87)"/><ellipse rx="5.7" ry="2.7" transform="translate(695.9 1236.5) rotate(172)"/><ellipse rx="5.9" ry="2.8" transform="translate(719.7 1232.4) rotate(140)"/><ellipse rx="5.1" ry="2.5" transform="translate(734.7 1233.0) rotate(11)"/><ellipse rx="5.4" ry="2.5" transform="translate(659.0 1250.3) rotate(18)"/><ellipse rx="5.4" ry="2.5" transform="translate(689.0 1252.2) rotate(63)"/><ellipse rx="5.1" ry="2.6" transform="translate(716.3 1256.3) rotate(15)"/><ellipse rx="5.5" ry="2.5" transform="translate(731.7 1252.4) rotate(171)"/><ellipse rx="5.3" ry="2.6" transform="translate(661.6 1281.6) rotate(125)"/><ellipse rx="5.2" ry="2.8" transform="translate(681.4 1275.8) rotate(59)"/><ellipse rx="5.2" ry="2.7" transform="translate(706.1 1279.4) rotate(133)"/><ellipse rx="5.7" ry="2.9" transform="translate(713.6 1269.3) rotate(47)"/><ellipse rx="5.9" ry="2.8" transform="translate(659.6 1290.1) rotate(112)"/><ellipse rx="5.9" ry="2.8" transform="translate(684.4 1297.9) rotate(119)"/><ellipse rx="5.8" ry="2.9" transform="translate(703.8 1289.8) rotate(60)"/><ellipse rx="5.1" ry="2.5" transform="translate(721.4 1299.8) rotate(31)"/><ellipse rx="5.7" ry="2.6" transform="translate(749.6 1289.4) rotate(176)"/><ellipse rx="5.9" ry="2.6" transform="translate(655.1 1318.8) rotate(95)"/><ellipse rx="5.2" ry="2.7" transform="translate(688.3 1308.9) rotate(53)"/><ellipse rx="5.0" ry="2.6" transform="translate(744.0 1312.7) rotate(94)"/><ellipse rx="5.7" ry="2.7" transform="translate(748.9 1316.5) rotate(85)"/><ellipse rx="5.2" ry="2.6" transform="translate(665.6 1335.0) rotate(101)"/><ellipse rx="5.4" ry="2.7" transform="translate(686.8 1332.1) rotate(164)"/><ellipse rx="5.5" ry="2.9" transform="translate(706.4 1333.8) rotate(96)"/><ellipse rx="5.9" ry="2.8" transform="translate(732.3 1337.0) rotate(101)"/><ellipse rx="5.1" ry="2.8" transform="translate(738.9 1330.5) rotate(43)"/><ellipse rx="5.9" ry="2.9" transform="translate(663.6 1352.7) rotate(26)"/><ellipse rx="5.8" ry="2.5" transform="translate(691.0 1348.6) rotate(178)"/><ellipse rx="5.7" ry="2.5" transform="translate(704.2 1347.8) rotate(57)"/><ellipse rx="5.5" ry="2.5" transform="translate(723.2 1343.6) rotate(112)"/><ellipse rx="5.0" ry="2.8" transform="translate(751.3 1356.0) rotate(48)"/><ellipse rx="5.1" ry="2.9" transform="translate(657.1 1373.8) rotate(47)"/><ellipse rx="5.4" ry="2.5" transform="translate(680.8 1363.2) rotate(124)"/><ellipse rx="5.1" ry="2.8" transform="translate(703.1 1372.4) rotate(154)"/><ellipse rx="5.2" ry="2.5" transform="translate(733.1 1368.8) rotate(20)"/><ellipse rx="5.5" ry="2.5" transform="translate(752.4 1366.0) rotate(52)"/><ellipse rx="5.2" ry="2.7" transform="translate(652.4 1380.8) rotate(99)"/><ellipse rx="5.8" ry="2.6" transform="translate(673.7 1391.3) rotate(89)"/><ellipse rx="5.7" ry="2.7" transform="translate(700.8 1393.4) rotate(150)"/><ellipse rx="5.7" ry="2.6" transform="translate(715.0 1381.3) rotate(13)"/><ellipse rx="5.3" ry="2.6" transform="translate(728.2 1391.6) rotate(121)"/><ellipse rx="6.0" ry="2.9" transform="translate(750.8 1382.7) rotate(47)"/><ellipse rx="5.4" ry="2.7" transform="translate(663.2 1403.3) rotate(0)"/><ellipse rx="5.1" ry="2.6" transform="translate(672.8 1405.8) rotate(48)"/><ellipse rx="5.5" ry="2.8" transform="translate(686.0 1403.2) rotate(105)"/><ellipse rx="6.0" ry="2.5" transform="translate(715.8 1410.7) rotate(59)"/><ellipse rx="5.6" ry="2.8" transform="translate(736.3 1399.8) rotate(161)"/><ellipse rx="5.8" ry="2.8" transform="translate(751.9 1406.0) rotate(150)"/><ellipse rx="5.8" ry="2.7" transform="translate(674.8 1419.6) rotate(19)"/><ellipse rx="5.8" ry="2.8" transform="translate(703.1 1426.7) rotate(1)"/><ellipse rx="5.3" ry="2.5" transform="translate(721.4 1426.4) rotate(133)"/><ellipse rx="5.5" ry="2.6" transform="translate(741.4 1420.5) rotate(176)"/><ellipse rx="5.1" ry="2.6" transform="translate(702.1 1440.4) rotate(2)"/><ellipse rx="5.5" ry="2.7" transform="translate(722.4 1445.3) rotate(93)"/><ellipse rx="5.2" ry="2.7" transform="translate(676.0 1458.6) rotate(170)"/><ellipse rx="5.5" ry="2.8" transform="translate(693.4 1467.5) rotate(148)"/><ellipse rx="5.0" ry="2.7" transform="translate(710.8 1466.8) rotate(4)"/><ellipse rx="5.8" ry="2.5" transform="translate(730.8 1456.9) rotate(57)"/><ellipse rx="5.3" ry="2.6" transform="translate(657.9 1485.8) rotate(162)"/><ellipse rx="5.3" ry="2.5" transform="translate(687.9 1481.4) rotate(77)"/><ellipse rx="6.0" ry="2.8" transform="translate(711.8 1480.4) rotate(67)"/><ellipse rx="5.6" ry="2.6" transform="translate(656.3 1501.9) rotate(135)"/><ellipse rx="5.3" ry="2.8" transform="translate(683.3 1494.0) rotate(62)"/><ellipse rx="5.4" ry="2.5" transform="translate(698.2 1500.9) rotate(100)"/><ellipse rx="5.9" ry="2.9" transform="translate(714.1 1504.1) rotate(40)"/><ellipse rx="5.1" ry="2.6" transform="translate(732.3 1494.8) rotate(62)"/><ellipse rx="5.5" ry="2.6" transform="translate(666.4 1520.7) rotate(74)"/><ellipse rx="5.3" ry="2.6" transform="translate(695.8 1519.1) rotate(39)"/><ellipse rx="5.0" ry="2.5" transform="translate(713.7 1523.4) rotate(157)"/><ellipse rx="5.4" ry="2.9" transform="translate(740.8 1517.1) rotate(0)"/><ellipse rx="5.5" ry="2.8" transform="translate(671.9 1532.8) rotate(28)"/><ellipse rx="5.6" ry="2.5" transform="translate(691.9 1538.0) rotate(82)"/><ellipse rx="5.1" ry="2.6" transform="translate(707.4 1541.5) rotate(55)"/><ellipse rx="5.6" ry="2.6" transform="translate(734.1 1531.0) rotate(94)"/><ellipse rx="5.6" ry="2.8" transform="translate(657.7 1552.1) rotate(173)"/><ellipse rx="5.4" ry="2.6" transform="translate(702.1 1548.5) rotate(121)"/><ellipse rx="5.4" ry="2.8" transform="translate(731.0 1551.1) rotate(61)"/><ellipse rx="6.0" ry="2.6" transform="translate(746.2 1557.8) rotate(37)"/><ellipse rx="5.5" ry="2.5" transform="translate(657.5 1576.7) rotate(171)"/><ellipse rx="5.9" ry="2.8" transform="translate(705.2 1567.6) rotate(162)"/><ellipse rx="5.7" ry="2.5" transform="translate(740.4 1571.1) rotate(168)"/><ellipse rx="5.3" ry="2.6" transform="translate(662.2 1589.8) rotate(1)"/><ellipse rx="5.8" ry="2.8" transform="translate(682.3 1598.0) rotate(64)"/><ellipse rx="5.2" ry="2.6" transform="translate(700.2 1591.6) rotate(166)"/><ellipse rx="5.0" ry="2.5" transform="translate(722.9 1590.8) rotate(138)"/><ellipse rx="5.3" ry="2.6" transform="translate(750.2 1588.8) rotate(162)"/><ellipse rx="5.0" ry="2.8" transform="translate(664.3 1613.4) rotate(50)"/><ellipse rx="5.5" ry="2.9" transform="translate(692.2 1616.3) rotate(42)"/><ellipse rx="5.9" ry="2.5" transform="translate(712.3 1607.3) rotate(89)"/><ellipse rx="5.3" ry="2.6" transform="translate(738.9 1614.8) rotate(109)"/><ellipse rx="5.1" ry="2.5" transform="translate(664.3 1625.2) rotate(45)"/><ellipse rx="5.3" ry="2.5" transform="translate(687.4 1635.4) rotate(178)"/><ellipse rx="5.4" ry="2.7" transform="translate(705.7 1631.9) rotate(42)"/><ellipse rx="5.8" ry="2.6" transform="translate(729.9 1633.7) rotate(22)"/><ellipse rx="5.2" ry="2.5" transform="translate(745.1 1632.3) rotate(45)"/><ellipse rx="5.1" ry="2.7" transform="translate(683.6 1651.8) rotate(178)"/><ellipse rx="5.1" ry="2.5" transform="translate(713.8 1653.2) rotate(53)"/><ellipse rx="5.4" ry="2.6" transform="translate(733.9 1653.4) rotate(156)"/><ellipse rx="5.2" ry="2.6" transform="translate(760.5 1642.7) rotate(112)"/><ellipse rx="5.0" ry="2.6" transform="translate(659.9 1667.7) rotate(37)"/><ellipse rx="5.5" ry="2.5" transform="translate(680.0 1664.0) rotate(143)"/><ellipse rx="5.2" ry="2.8" transform="translate(698.8 1667.1) rotate(16)"/><ellipse rx="6.0" ry="2.6" transform="translate(737.6 1664.6) rotate(156)"/><ellipse rx="5.4" ry="2.8" transform="translate(756.6 1662.6) rotate(162)"/><ellipse rx="5.6" ry="2.9" transform="translate(669.7 1680.7) rotate(99)"/><ellipse rx="5.3" ry="2.7" transform="translate(687.8 1683.4) rotate(26)"/><ellipse rx="5.2" ry="2.5" transform="translate(704.2 1684.9) rotate(174)"/><ellipse rx="5.4" ry="2.9" transform="translate(738.7 1684.8) rotate(167)"/><ellipse rx="5.4" ry="2.8" transform="translate(757.3 1680.6) rotate(40)"/></g>
<path d="M612.9,1254.5 C616.9,1249.5 621.9,1251.5 623.9,1258.5 C626.9,1250.5 634.9,1250.5 637.9,1258.5 C643.9,1252.5 651.9,1258.5 652.4,1270.5 C656.9,1276.5 657.4,1290.5 653.9,1298.5 C655.4,1308.5 650.9,1318.5 645.9,1322.5 C642.9,1328.5 637.9,1331.5 633.9,1331.0 C630.9,1338.5 622.9,1344.5 617.9,1340.5 C615.9,1343.5 613.9,1343.5 612.9,1342.5 Z" fill="#fff"/>
<path d="M612.9,1565.5 C616.9,1560.5 621.9,1562.5 623.9,1569.5 C626.9,1561.5 634.9,1561.5 637.9,1569.5 C643.9,1563.5 651.9,1569.5 652.4,1581.5 C656.9,1587.5 657.4,1601.5 653.9,1609.5 C655.4,1619.5 650.9,1629.5 645.9,1633.5 C642.9,1639.5 637.9,1642.5 633.9,1642.0 C630.9,1649.5 622.9,1655.5 617.9,1651.5 C615.9,1654.5 613.9,1654.5 612.9,1653.5 Z" fill="#fff"/>
<circle cx="650.0" cy="1440.8" r="24.2" fill="#e8664b" stroke="#e8f7fd" stroke-width="1.2"/>
<text x="649.20" y="1449.00" font-size="22" text-anchor="middle" fill="#fff" >OH<tspan dy="-8.0" font-size="15">-</tspan></text>
<path d="M718.5,1441 L683,1441" fill="none" stroke="#000" stroke-width="2.6" stroke-dasharray="6.2 2.6"/>
<path d="M687.6,1436.5 L679.2,1441.0 L687.6,1445.5" fill="none" stroke="#000" stroke-width="2.6" stroke-linejoin="miter"/>
<text x="722.60" y="1448.80" font-size="22" >Mg<tspan dy="-7.5" font-size="15">2+</tspan></text>
<path d="M656.8,1466 C660,1482 654,1496 643,1503.5" fill="none" stroke="#000" stroke-width="2.5"/>
<path d="M641.8,1499.9 L637.0,1507.5 L646.0,1506.6 Z" fill="#000"/>
<text x="616.20" y="1533.80" font-size="22.3" >Mg(OH)<tspan dy="4.5" font-size="15">2</tspan></text>
<line x1="666.40" y1="1703.50" x2="666.40" y2="1716.50" stroke="#000" stroke-width="2.1" />
<line x1="747.10" y1="1703.50" x2="747.10" y2="1716.50" stroke="#000" stroke-width="2.1" />
<line x1="669.40" y1="1710.00" x2="744.10" y2="1710.00" stroke="#000" stroke-width="2" />
<path d="M676.8,1706.6 L667.9,1710.0 L676.8,1713.4 Z" fill="#000"/>
<path d="M736.7,1713.4 L745.6,1710.0 L736.7,1706.6 Z" fill="#000"/>
<text x="706.50" y="1744.40" font-size="24.7" text-anchor="middle" >Precipitation region</text>
<rect x="1044.90" y="1174.30" width="67.00" height="531.20" fill="#a6a6a6" />
<rect x="1075.30" y="1178.50" width="5.20" height="24.20" fill="#000" />
<rect x="1075.30" y="1261.95" width="5.20" height="24.20" fill="#000" />
<rect x="1075.30" y="1345.40" width="5.20" height="24.20" fill="#000" />
<rect x="1075.30" y="1428.85" width="5.20" height="24.20" fill="#000" />
<rect x="1075.30" y="1512.30" width="5.20" height="24.20" fill="#000" />
<rect x="1075.30" y="1595.75" width="5.20" height="24.20" fill="#000" />
<rect x="1075.30" y="1679.20" width="5.20" height="24.20" fill="#000" />
<rect x="1111.90" y="1174.30" width="46.30" height="531.20" fill="#feefdd" />
<rect x="1158.20" y="1174.30" width="330.70" height="531.20" fill="#ddeefa" />
<path d="M1339.8,1223.6 L1387.8,1203.6 L1387.8,1243.6 Z" fill="#9aa0a8" opacity="0.35" filter="url(#fblur)"/>
<path d="M1338.8,1221.6 L1387.8,1201.1 L1387.8,1241.1 Z" fill="url(#gtail)" filter="url(#fblur)"/>
<circle cx="1397.8" cy="1221.1" r="24.2" fill="#e8664b" stroke="#e8f7fd" stroke-width="1.2"/>
<text x="1397.00" y="1229.30" font-size="22" text-anchor="middle" fill="#fff" >OH<tspan dy="-8.0" font-size="15">-</tspan></text>
<path d="M1294.2,1302.5 L1342.2,1282.5 L1342.2,1322.5 Z" fill="#9aa0a8" opacity="0.35" filter="url(#fblur)"/>
<path d="M1293.2,1300.5 L1342.2,1280.0 L1342.2,1320.0 Z" fill="url(#gtail)" filter="url(#fblur)"/>
<circle cx="1352.2" cy="1300.0" r="24.2" fill="#e8664b" stroke="#e8f7fd" stroke-width="1.2"/>
<text x="1351.40" y="1308.20" font-size="22" text-anchor="middle" fill="#fff" >OH<tspan dy="-8.0" font-size="15">-</tspan></text>
<path d="M1387.2,1355.7 L1435.2,1335.7 L1435.2,1375.7 Z" fill="#9aa0a8" opacity="0.35" filter="url(#fblur)"/>
<path d="M1386.2,1353.7 L1435.2,1333.2 L1435.2,1373.2 Z" fill="url(#gtail)" filter="url(#fblur)"/>
<circle cx="1445.2" cy="1353.2" r="24.2" fill="#e8664b" stroke="#e8f7fd" stroke-width="1.2"/>
<text x="1444.40" y="1361.40" font-size="22" text-anchor="middle" fill="#fff" >OH<tspan dy="-8.0" font-size="15">-</tspan></text>
<path d="M1396.1,1443.6 L1444.1,1423.6 L1444.1,1463.6 Z" fill="#9aa0a8" opacity="0.35" filter="url(#fblur)"/>
<path d="M1395.1,1441.6 L1444.1,1421.1 L1444.1,1461.1 Z" fill="url(#gtail)" filter="url(#fblur)"/>
<circle cx="1454.1" cy="1441.1" r="24.2" fill="#e8664b" stroke="#e8f7fd" stroke-width="1.2"/>
<text x="1453.30" y="1449.30" font-size="22" text-anchor="middle" fill="#fff" >OH<tspan dy="-8.0" font-size="15">-</tspan></text>
<path d="M1370.4,1560.3 L1418.4,1540.3 L1418.4,1580.3 Z" fill="#9aa0a8" opacity="0.35" filter="url(#fblur)"/>
<path d="M1369.4,1558.3 L1418.4,1537.8 L1418.4,1577.8 Z" fill="url(#gtail)" filter="url(#fblur)"/>
<circle cx="1428.4" cy="1557.8" r="24.2" fill="#e8664b" stroke="#e8f7fd" stroke-width="1.2"/>
<text x="1427.60" y="1566.00" font-size="22" text-anchor="middle" fill="#fff" >OH<tspan dy="-8.0" font-size="15">-</tspan></text>
<path d="M1326.8,1656.1 L1374.8,1636.1 L1374.8,1676.1 Z" fill="#9aa0a8" opacity="0.35" filter="url(#fblur)"/>
<path d="M1325.8,1654.1 L1374.8,1633.6 L1374.8,1673.6 Z" fill="url(#gtail)" filter="url(#fblur)"/>
<circle cx="1384.8" cy="1653.6" r="24.2" fill="#e8664b" stroke="#e8f7fd" stroke-width="1.2"/>
<text x="1384.00" y="1661.80" font-size="22" text-anchor="middle" fill="#fff" >OH<tspan dy="-8.0" font-size="15">-</tspan></text>
<circle cx="1267.4" cy="1441.1" r="24.2" fill="#e8664b" stroke="#e8f7fd" stroke-width="1.2"/>
<text x="1266.60" y="1449.30" font-size="22" text-anchor="middle" fill="#fff" >OH<tspan dy="-8.0" font-size="15">-</tspan></text>
<path d="M1127.5,1299.0 Q1120.0,1299.0 1120.5,1289.0 C1121.5,1254.0 1157.5,1219.5 1211.7,1226.0" fill="none" stroke="#000" stroke-width="2.5" stroke-dasharray="10.5 6.5"/>
<path d="M1205.9,1229.2 L1215.7,1227.5 L1208.8,1220.3" fill="none" stroke="#000" stroke-width="2.5" stroke-linejoin="miter"/>
<path d="M1127.5,1299.0 L1322.2,1299.0" fill="none" stroke="#000" stroke-width="2.5" stroke-dasharray="10.5 6.5"/>
<path d="M1315.9,1303.7 L1324.7,1299.0 L1315.9,1294.3" fill="none" stroke="#000" stroke-width="2.5" stroke-linejoin="miter"/>
<circle cx="1244.7" cy="1229.0" r="24.2" fill="#57cc98" stroke="#e8f7fd" stroke-width="1.2"/>
<text x="1245.20" y="1235.50" font-size="22" text-anchor="middle" fill="#fff" >H<tspan dy="5.0" font-size="15">2</tspan></text>
<path d="M1184,1346 C1181,1328 1162,1311 1131,1308.5" fill="none" stroke="#000" stroke-width="2.5"/>
<path d="M1134.3,1304.4 L1125.0,1308.0 L1133.9,1312.5 Z" fill="#000"/>
<text x="1165.00" y="1372.40" font-size="22" >H<tspan dy="4.5" font-size="15">2</tspan><tspan dy="-4.5">O</tspan></text>
<text x="1141.30" y="1440.00" font-size="25" text-anchor="middle" transform="rotate(-90 1141.30 1440.00)" >Halogen layer</text>
<text x="1154.80" y="1430.50" font-size="20" >Repulsion</text>
<path d="M1157,1440.3 L1228,1440.3" fill="none" stroke="#000" stroke-width="2.4"/>
<path d="M1225.3,1444.2 L1234.0,1440.3 L1225.3,1436.4 Z" fill="#000"/>
<text x="1292.80" y="1430.50" font-size="20" >Rapid diffusion</text>
<path d="M1300.5,1439.8 L1417,1439.8" fill="none" stroke="#000" stroke-width="2.5" stroke-dasharray="5.4 2.8"/>
<path d="M1412.4,1444.3 L1420.8,1439.8 L1412.4,1435.3" fill="none" stroke="#000" stroke-width="2.5" stroke-linejoin="miter"/>
<line x1="1154.10" y1="1703.50" x2="1154.10" y2="1716.50" stroke="#000" stroke-width="2.1" />
<line x1="1310.00" y1="1703.50" x2="1310.00" y2="1716.50" stroke="#000" stroke-width="2.1" />
<line x1="1157.10" y1="1710.00" x2="1307.00" y2="1710.00" stroke="#000" stroke-width="2" />
<path d="M1164.5,1706.6 L1155.6,1710.0 L1164.5,1713.4 Z" fill="#000"/>
<path d="M1299.6,1713.4 L1308.5,1710.0 L1299.6,1706.6 Z" fill="#000"/>
<text x="1237.20" y="1744.40" font-size="24.7" text-anchor="middle" >Enlarged low-pH region</text>
<text x="994.80" y="1195.60" font-size="42.5" font-weight="bold" >h</text>
<path d="M1487.8,1434.2 L1517.1,1434.2 L1513.1,1428.2 L1540.6,1439.8 L1513.1,1451.4 L1517.1,1445.4 L1487.8,1445.4 Z" fill="url(#gtr)"/>
<rect x="1544.60" y="1174.30" width="67.30" height="531.20" fill="#a6a6a6" />
<rect x="1575.15" y="1178.50" width="5.20" height="24.20" fill="#000" />
<rect x="1575.15" y="1261.95" width="5.20" height="24.20" fill="#000" />
<rect x="1575.15" y="1345.40" width="5.20" height="24.20" fill="#000" />
<rect x="1575.15" y="1428.85" width="5.20" height="24.20" fill="#000" />
<rect x="1575.15" y="1512.30" width="5.20" height="24.20" fill="#000" />
<rect x="1575.15" y="1595.75" width="5.20" height="24.20" fill="#000" />
<rect x="1575.15" y="1679.20" width="5.20" height="24.20" fill="#000" />
<rect x="1611.90" y="1174.30" width="37.70" height="531.20" fill="#feefdd" />
<rect x="1649.60" y="1174.30" width="331.70" height="531.20" fill="#ddeefa" />
<clipPath id="cph2"><rect x="1649.6" y="1174.3" width="331.7" height="531.2"/></clipPath>
<g clip-path="url(#cph2)">
<g fill="#fff"><ellipse rx="5.1" ry="2.3" transform="translate(1817.4 1187.8) rotate(91)"/><ellipse rx="4.7" ry="2.6" transform="translate(1836.3 1186.1) rotate(55)"/><ellipse rx="5.1" ry="2.5" transform="translate(1919.7 1186.8) rotate(115)"/><ellipse rx="4.7" ry="2.6" transform="translate(1961.4 1179.9) rotate(52)"/><ellipse rx="5.0" ry="2.3" transform="translate(1809.7 1204.8) rotate(176)"/><ellipse rx="5.5" ry="2.6" transform="translate(1836.0 1196.5) rotate(60)"/><ellipse rx="4.8" ry="2.5" transform="translate(1844.0 1194.3) rotate(143)"/><ellipse rx="4.7" ry="2.4" transform="translate(1860.8 1202.5) rotate(116)"/><ellipse rx="5.4" ry="2.3" transform="translate(1877.5 1205.6) rotate(55)"/><ellipse rx="4.8" ry="2.4" transform="translate(1902.2 1201.3) rotate(178)"/><ellipse rx="5.1" ry="2.4" transform="translate(1915.5 1196.8) rotate(16)"/><ellipse rx="5.4" ry="2.6" transform="translate(1955.2 1204.2) rotate(28)"/><ellipse rx="4.6" ry="2.7" transform="translate(1829.7 1217.9) rotate(19)"/><ellipse rx="4.9" ry="2.3" transform="translate(1843.3 1213.4) rotate(107)"/><ellipse rx="5.2" ry="2.4" transform="translate(1854.7 1213.1) rotate(153)"/><ellipse rx="4.7" ry="2.3" transform="translate(1877.7 1210.3) rotate(80)"/><ellipse rx="5.5" ry="2.5" transform="translate(1899.4 1211.8) rotate(160)"/><ellipse rx="5.4" ry="2.5" transform="translate(1919.0 1211.9) rotate(3)"/><ellipse rx="4.9" ry="2.7" transform="translate(1933.2 1218.4) rotate(131)"/><ellipse rx="5.4" ry="2.5" transform="translate(1828.1 1238.6) rotate(142)"/><ellipse rx="5.2" ry="2.7" transform="translate(1840.2 1234.8) rotate(14)"/><ellipse rx="5.0" ry="2.6" transform="translate(1865.7 1232.3) rotate(105)"/><ellipse rx="4.8" ry="2.5" transform="translate(1880.6 1227.6) rotate(87)"/><ellipse rx="4.9" ry="2.5" transform="translate(1896.8 1239.2) rotate(2)"/><ellipse rx="5.4" ry="2.4" transform="translate(1906.6 1239.0) rotate(80)"/><ellipse rx="5.4" ry="2.4" transform="translate(1926.2 1232.9) rotate(165)"/><ellipse rx="5.4" ry="2.5" transform="translate(1946.3 1229.0) rotate(151)"/><ellipse rx="4.8" ry="2.4" transform="translate(1967.3 1229.4) rotate(50)"/><ellipse rx="5.3" ry="2.5" transform="translate(1833.2 1244.8) rotate(7)"/><ellipse rx="4.6" ry="2.6" transform="translate(1859.0 1244.6) rotate(82)"/><ellipse rx="5.2" ry="2.5" transform="translate(1866.4 1245.0) rotate(80)"/><ellipse rx="4.8" ry="2.3" transform="translate(1897.4 1253.3) rotate(86)"/><ellipse rx="5.2" ry="2.5" transform="translate(1911.9 1246.7) rotate(62)"/><ellipse rx="4.7" ry="2.6" transform="translate(1931.3 1249.5) rotate(163)"/><ellipse rx="4.9" ry="2.5" transform="translate(1942.8 1250.3) rotate(164)"/><ellipse rx="4.8" ry="2.6" transform="translate(1972.4 1256.7) rotate(117)"/><ellipse rx="5.5" ry="2.5" transform="translate(1825.3 1264.3) rotate(176)"/><ellipse rx="4.7" ry="2.4" transform="translate(1840.4 1273.4) rotate(63)"/><ellipse rx="4.7" ry="2.6" transform="translate(1864.5 1267.9) rotate(146)"/><ellipse rx="5.1" ry="2.6" transform="translate(1874.3 1271.8) rotate(27)"/><ellipse rx="4.7" ry="2.3" transform="translate(1899.5 1273.8) rotate(171)"/><ellipse rx="5.4" ry="2.5" transform="translate(1912.5 1271.0) rotate(94)"/><ellipse rx="4.8" ry="2.5" transform="translate(1951.8 1274.1) rotate(103)"/><ellipse rx="5.2" ry="2.3" transform="translate(1982.0 1272.0) rotate(88)"/><ellipse rx="4.7" ry="2.4" transform="translate(1825.3 1290.7) rotate(85)"/><ellipse rx="5.2" ry="2.6" transform="translate(1844.9 1284.9) rotate(34)"/><ellipse rx="5.2" ry="2.4" transform="translate(1858.4 1279.0) rotate(41)"/><ellipse rx="5.1" ry="2.4" transform="translate(1873.1 1280.1) rotate(22)"/><ellipse rx="5.1" ry="2.3" transform="translate(1887.5 1284.4) rotate(74)"/><ellipse rx="5.2" ry="2.6" transform="translate(1904.4 1287.0) rotate(153)"/><ellipse rx="5.4" ry="2.3" transform="translate(1932.6 1290.7) rotate(180)"/><ellipse rx="5.0" ry="2.6" transform="translate(1953.9 1282.1) rotate(150)"/><ellipse rx="5.2" ry="2.6" transform="translate(1964.7 1287.6) rotate(36)"/><ellipse rx="4.8" ry="2.3" transform="translate(1815.0 1305.7) rotate(123)"/><ellipse rx="4.7" ry="2.3" transform="translate(1823.8 1303.0) rotate(102)"/><ellipse rx="4.9" ry="2.4" transform="translate(1854.4 1308.2) rotate(138)"/><ellipse rx="5.4" ry="2.3" transform="translate(1877.3 1303.7) rotate(126)"/><ellipse rx="5.1" ry="2.3" transform="translate(1898.9 1301.1) rotate(30)"/><ellipse rx="5.0" ry="2.5" transform="translate(1920.7 1305.0) rotate(113)"/><ellipse rx="5.3" ry="2.6" transform="translate(1941.0 1306.3) rotate(164)"/><ellipse rx="5.3" ry="2.6" transform="translate(1953.9 1307.5) rotate(125)"/><ellipse rx="4.6" ry="2.4" transform="translate(1975.3 1296.8) rotate(84)"/><ellipse rx="5.2" ry="2.5" transform="translate(1815.2 1325.3) rotate(61)"/><ellipse rx="5.3" ry="2.7" transform="translate(1835.5 1326.0) rotate(126)"/><ellipse rx="4.6" ry="2.3" transform="translate(1852.6 1322.6) rotate(72)"/><ellipse rx="5.2" ry="2.6" transform="translate(1886.5 1325.6) rotate(179)"/><ellipse rx="4.7" ry="2.4" transform="translate(1902.2 1322.9) rotate(167)"/><ellipse rx="5.0" ry="2.5" transform="translate(1916.2 1320.9) rotate(170)"/><ellipse rx="4.9" ry="2.6" transform="translate(1933.3 1316.7) rotate(101)"/><ellipse rx="5.3" ry="2.4" transform="translate(1945.0 1316.2) rotate(28)"/><ellipse rx="4.8" ry="2.5" transform="translate(1816.5 1335.7) rotate(175)"/><ellipse rx="4.8" ry="2.3" transform="translate(1854.4 1331.6) rotate(82)"/><ellipse rx="4.8" ry="2.5" transform="translate(1866.3 1335.9) rotate(82)"/><ellipse rx="5.3" ry="2.5" transform="translate(1913.0 1333.2) rotate(161)"/><ellipse rx="5.2" ry="2.6" transform="translate(1923.9 1339.1) rotate(107)"/><ellipse rx="5.2" ry="2.3" transform="translate(1957.3 1330.9) rotate(77)"/><ellipse rx="5.2" ry="2.4" transform="translate(1975.9 1331.3) rotate(99)"/><ellipse rx="4.7" ry="2.6" transform="translate(1809.0 1357.0) rotate(13)"/><ellipse rx="5.3" ry="2.4" transform="translate(1833.4 1350.1) rotate(46)"/><ellipse rx="5.4" ry="2.4" transform="translate(1855.4 1351.5) rotate(134)"/><ellipse rx="5.1" ry="2.5" transform="translate(1860.7 1358.7) rotate(15)"/><ellipse rx="5.2" ry="2.3" transform="translate(1882.8 1357.4) rotate(38)"/><ellipse rx="4.9" ry="2.6" transform="translate(1904.7 1356.3) rotate(26)"/><ellipse rx="5.5" ry="2.6" transform="translate(1913.7 1356.5) rotate(165)"/><ellipse rx="5.5" ry="2.6" transform="translate(1940.0 1351.3) rotate(72)"/><ellipse rx="5.0" ry="2.3" transform="translate(1950.3 1352.1) rotate(71)"/><ellipse rx="4.8" ry="2.6" transform="translate(1974.4 1354.3) rotate(101)"/><ellipse rx="5.5" ry="2.5" transform="translate(1804.2 1371.2) rotate(102)"/><ellipse rx="4.7" ry="2.6" transform="translate(1825.0 1371.6) rotate(15)"/><ellipse rx="5.2" ry="2.4" transform="translate(1846.4 1372.7) rotate(134)"/><ellipse rx="4.9" ry="2.7" transform="translate(1871.0 1371.2) rotate(71)"/><ellipse rx="5.4" ry="2.4" transform="translate(1886.7 1371.4) rotate(127)"/><ellipse rx="5.4" ry="2.7" transform="translate(1909.5 1375.5) rotate(150)"/><ellipse rx="5.0" ry="2.3" transform="translate(1926.7 1373.7) rotate(76)"/><ellipse rx="5.0" ry="2.4" transform="translate(1952.6 1369.3) rotate(37)"/><ellipse rx="5.3" ry="2.3" transform="translate(1962.1 1368.5) rotate(117)"/><ellipse rx="5.1" ry="2.3" transform="translate(1803.5 1384.4) rotate(129)"/><ellipse rx="5.1" ry="2.6" transform="translate(1820.2 1383.8) rotate(56)"/><ellipse rx="4.6" ry="2.6" transform="translate(1858.1 1394.0) rotate(40)"/><ellipse rx="5.5" ry="2.5" transform="translate(1876.3 1388.5) rotate(49)"/><ellipse rx="5.3" ry="2.5" transform="translate(1887.3 1387.7) rotate(143)"/><ellipse rx="5.1" ry="2.5" transform="translate(1904.5 1385.8) rotate(156)"/><ellipse rx="4.6" ry="2.6" transform="translate(1927.7 1388.5) rotate(139)"/><ellipse rx="4.7" ry="2.5" transform="translate(1955.6 1382.7) rotate(129)"/><ellipse rx="5.3" ry="2.4" transform="translate(1975.0 1389.2) rotate(55)"/><ellipse rx="4.7" ry="2.6" transform="translate(1811.2 1401.5) rotate(95)"/><ellipse rx="5.3" ry="2.4" transform="translate(1821.0 1399.7) rotate(84)"/><ellipse rx="5.4" ry="2.5" transform="translate(1837.7 1403.9) rotate(174)"/><ellipse rx="5.0" ry="2.3" transform="translate(1855.3 1408.0) rotate(102)"/><ellipse rx="4.9" ry="2.5" transform="translate(1882.6 1401.4) rotate(52)"/><ellipse rx="4.8" ry="2.6" transform="translate(1893.0 1403.8) rotate(46)"/><ellipse rx="5.4" ry="2.3" transform="translate(1917.5 1406.1) rotate(60)"/><ellipse rx="5.0" ry="2.6" transform="translate(1921.5 1407.6) rotate(32)"/><ellipse rx="5.0" ry="2.3" transform="translate(1940.1 1401.7) rotate(22)"/><ellipse rx="5.4" ry="2.4" transform="translate(1965.8 1405.4) rotate(138)"/><ellipse rx="5.5" ry="2.6" transform="translate(1982.2 1399.0) rotate(126)"/><ellipse rx="4.7" ry="2.4" transform="translate(1806.3 1420.2) rotate(117)"/><ellipse rx="5.2" ry="2.3" transform="translate(1909.3 1426.8) rotate(170)"/><ellipse rx="5.5" ry="2.4" transform="translate(1917.8 1423.4) rotate(59)"/><ellipse rx="5.1" ry="2.5" transform="translate(1933.9 1428.6) rotate(163)"/><ellipse rx="5.4" ry="2.4" transform="translate(1979.0 1417.5) rotate(52)"/><ellipse rx="5.0" ry="2.3" transform="translate(1886.6 1443.5) rotate(36)"/><ellipse rx="5.1" ry="2.4" transform="translate(1903.3 1435.3) rotate(47)"/><ellipse rx="5.2" ry="2.4" transform="translate(1915.5 1441.8) rotate(173)"/><ellipse rx="5.0" ry="2.7" transform="translate(1940.3 1442.0) rotate(135)"/><ellipse rx="5.4" ry="2.5" transform="translate(1963.9 1438.4) rotate(102)"/><ellipse rx="5.3" ry="2.6" transform="translate(1976.6 1444.8) rotate(10)"/><ellipse rx="5.3" ry="2.5" transform="translate(1920.7 1455.7) rotate(40)"/><ellipse rx="5.5" ry="2.3" transform="translate(1931.8 1460.5) rotate(97)"/><ellipse rx="5.4" ry="2.4" transform="translate(1950.3 1454.4) rotate(161)"/><ellipse rx="4.9" ry="2.5" transform="translate(1970.9 1450.8) rotate(162)"/><ellipse rx="5.4" ry="2.3" transform="translate(1819.5 1470.0) rotate(166)"/><ellipse rx="5.5" ry="2.3" transform="translate(1838.6 1473.5) rotate(158)"/><ellipse rx="5.3" ry="2.4" transform="translate(1855.4 1478.8) rotate(19)"/><ellipse rx="5.5" ry="2.4" transform="translate(1885.3 1476.6) rotate(125)"/><ellipse rx="4.8" ry="2.4" transform="translate(1891.5 1471.3) rotate(35)"/><ellipse rx="5.1" ry="2.3" transform="translate(1918.2 1472.2) rotate(159)"/><ellipse rx="4.7" ry="2.7" transform="translate(1936.3 1476.0) rotate(115)"/><ellipse rx="4.9" ry="2.4" transform="translate(1948.6 1474.3) rotate(108)"/><ellipse rx="4.9" ry="2.5" transform="translate(1963.2 1471.1) rotate(44)"/><ellipse rx="5.0" ry="2.6" transform="translate(1827.0 1484.9) rotate(135)"/><ellipse rx="5.2" ry="2.6" transform="translate(1834.5 1491.7) rotate(65)"/><ellipse rx="5.5" ry="2.3" transform="translate(1856.8 1495.5) rotate(94)"/><ellipse rx="5.3" ry="2.6" transform="translate(1872.5 1492.4) rotate(79)"/><ellipse rx="5.1" ry="2.3" transform="translate(1893.6 1490.9) rotate(104)"/><ellipse rx="4.7" ry="2.3" transform="translate(1918.6 1491.9) rotate(32)"/><ellipse rx="4.7" ry="2.6" transform="translate(1932.8 1490.2) rotate(144)"/><ellipse rx="4.9" ry="2.3" transform="translate(1952.7 1494.8) rotate(26)"/><ellipse rx="4.7" ry="2.6" transform="translate(1970.2 1491.3) rotate(106)"/><ellipse rx="5.3" ry="2.3" transform="translate(1980.8 1486.6) rotate(150)"/><ellipse rx="5.3" ry="2.7" transform="translate(1813.1 1514.3) rotate(88)"/><ellipse rx="5.4" ry="2.3" transform="translate(1831.3 1511.3) rotate(43)"/><ellipse rx="5.5" ry="2.6" transform="translate(1846.4 1507.2) rotate(6)"/><ellipse rx="5.0" ry="2.6" transform="translate(1865.3 1504.9) rotate(44)"/><ellipse rx="5.0" ry="2.5" transform="translate(1883.5 1514.4) rotate(7)"/><ellipse rx="5.4" ry="2.4" transform="translate(1898.1 1510.7) rotate(106)"/><ellipse rx="4.9" ry="2.3" transform="translate(1921.7 1506.6) rotate(39)"/><ellipse rx="4.9" ry="2.4" transform="translate(1931.2 1504.3) rotate(84)"/><ellipse rx="4.7" ry="2.5" transform="translate(1959.7 1512.9) rotate(69)"/><ellipse rx="5.0" ry="2.6" transform="translate(1971.3 1501.9) rotate(47)"/><ellipse rx="4.9" ry="2.6" transform="translate(1845.9 1523.8) rotate(159)"/><ellipse rx="4.7" ry="2.5" transform="translate(1860.5 1523.9) rotate(7)"/><ellipse rx="5.3" ry="2.4" transform="translate(1878.1 1524.3) rotate(24)"/><ellipse rx="5.3" ry="2.4" transform="translate(1902.4 1520.7) rotate(50)"/><ellipse rx="4.8" ry="2.3" transform="translate(1922.1 1521.7) rotate(62)"/><ellipse rx="4.9" ry="2.5" transform="translate(1933.2 1526.2) rotate(176)"/><ellipse rx="5.4" ry="2.4" transform="translate(1949.0 1527.8) rotate(172)"/><ellipse rx="5.0" ry="2.4" transform="translate(1966.4 1524.4) rotate(11)"/><ellipse rx="5.2" ry="2.4" transform="translate(1813.9 1541.2) rotate(30)"/><ellipse rx="5.2" ry="2.5" transform="translate(1831.0 1541.4) rotate(105)"/><ellipse rx="5.0" ry="2.3" transform="translate(1846.4 1541.0) rotate(11)"/><ellipse rx="4.6" ry="2.4" transform="translate(1871.6 1542.0) rotate(46)"/><ellipse rx="5.0" ry="2.5" transform="translate(1892.4 1539.4) rotate(33)"/><ellipse rx="4.9" ry="2.6" transform="translate(1934.8 1544.0) rotate(75)"/><ellipse rx="5.1" ry="2.4" transform="translate(1952.5 1547.8) rotate(24)"/><ellipse rx="5.2" ry="2.4" transform="translate(1977.1 1537.9) rotate(41)"/><ellipse rx="5.1" ry="2.5" transform="translate(1820.3 1556.2) rotate(117)"/><ellipse rx="5.4" ry="2.4" transform="translate(1844.4 1565.7) rotate(62)"/><ellipse rx="4.9" ry="2.4" transform="translate(1875.8 1561.2) rotate(101)"/><ellipse rx="4.8" ry="2.5" transform="translate(1900.5 1556.2) rotate(58)"/><ellipse rx="4.7" ry="2.4" transform="translate(1909.4 1554.0) rotate(127)"/><ellipse rx="4.6" ry="2.4" transform="translate(1934.9 1555.2) rotate(157)"/><ellipse rx="5.3" ry="2.4" transform="translate(1957.0 1558.2) rotate(45)"/><ellipse rx="5.0" ry="2.5" transform="translate(1973.2 1564.1) rotate(102)"/><ellipse rx="4.8" ry="2.3" transform="translate(1828.5 1571.9) rotate(120)"/><ellipse rx="5.5" ry="2.7" transform="translate(1856.2 1575.7) rotate(71)"/><ellipse rx="5.3" ry="2.7" transform="translate(1870.9 1571.8) rotate(51)"/><ellipse rx="4.9" ry="2.4" transform="translate(1880.9 1570.6) rotate(87)"/><ellipse rx="5.3" ry="2.7" transform="translate(1907.8 1573.9) rotate(111)"/><ellipse rx="4.8" ry="2.3" transform="translate(1923.0 1577.3) rotate(26)"/><ellipse rx="4.6" ry="2.5" transform="translate(1938.6 1576.6) rotate(58)"/><ellipse rx="4.9" ry="2.4" transform="translate(1958.6 1573.8) rotate(87)"/><ellipse rx="4.8" ry="2.5" transform="translate(1965.7 1581.9) rotate(14)"/><ellipse rx="5.0" ry="2.3" transform="translate(1822.2 1593.7) rotate(145)"/><ellipse rx="5.4" ry="2.7" transform="translate(1837.8 1595.5) rotate(169)"/><ellipse rx="4.8" ry="2.3" transform="translate(1857.6 1596.8) rotate(5)"/><ellipse rx="4.6" ry="2.3" transform="translate(1866.0 1597.2) rotate(93)"/><ellipse rx="5.3" ry="2.4" transform="translate(1883.0 1594.3) rotate(143)"/><ellipse rx="5.4" ry="2.3" transform="translate(1930.3 1592.6) rotate(45)"/><ellipse rx="5.3" ry="2.4" transform="translate(1939.5 1592.4) rotate(118)"/><ellipse rx="5.3" ry="2.5" transform="translate(1973.3 1591.8) rotate(38)"/><ellipse rx="4.6" ry="2.5" transform="translate(1810.9 1606.4) rotate(78)"/><ellipse rx="5.5" ry="2.4" transform="translate(1853.8 1608.7) rotate(20)"/><ellipse rx="4.9" ry="2.5" transform="translate(1866.7 1609.9) rotate(32)"/><ellipse rx="4.7" ry="2.5" transform="translate(1889.5 1606.9) rotate(178)"/><ellipse rx="5.4" ry="2.5" transform="translate(1910.7 1607.3) rotate(160)"/><ellipse rx="5.0" ry="2.5" transform="translate(1927.7 1606.0) rotate(124)"/><ellipse rx="5.1" ry="2.3" transform="translate(1942.6 1607.5) rotate(103)"/><ellipse rx="4.7" ry="2.4" transform="translate(1962.4 1612.3) rotate(168)"/><ellipse rx="5.4" ry="2.6" transform="translate(1852.0 1632.6) rotate(169)"/><ellipse rx="4.8" ry="2.6" transform="translate(1879.9 1622.5) rotate(128)"/><ellipse rx="5.2" ry="2.3" transform="translate(1891.5 1633.0) rotate(50)"/><ellipse rx="5.4" ry="2.6" transform="translate(1913.2 1628.1) rotate(144)"/><ellipse rx="4.7" ry="2.3" transform="translate(1933.0 1632.1) rotate(66)"/><ellipse rx="5.0" ry="2.6" transform="translate(1949.2 1632.5) rotate(33)"/><ellipse rx="5.2" ry="2.4" transform="translate(1980.6 1633.1) rotate(35)"/><ellipse rx="5.2" ry="2.3" transform="translate(1812.2 1647.0) rotate(109)"/><ellipse rx="5.5" ry="2.5" transform="translate(1832.1 1644.9) rotate(21)"/><ellipse rx="4.9" ry="2.4" transform="translate(1842.4 1651.8) rotate(133)"/><ellipse rx="5.0" ry="2.4" transform="translate(1859.0 1647.1) rotate(148)"/><ellipse rx="5.1" ry="2.4" transform="translate(1887.3 1643.4) rotate(42)"/><ellipse rx="5.5" ry="2.4" transform="translate(1899.7 1650.0) rotate(82)"/><ellipse rx="4.9" ry="2.4" transform="translate(1923.6 1644.7) rotate(75)"/><ellipse rx="5.0" ry="2.3" transform="translate(1941.1 1647.9) rotate(44)"/><ellipse rx="5.4" ry="2.5" transform="translate(1961.6 1644.3) rotate(148)"/><ellipse rx="4.9" ry="2.6" transform="translate(1978.0 1650.5) rotate(65)"/><ellipse rx="5.0" ry="2.4" transform="translate(1818.1 1668.3) rotate(114)"/><ellipse rx="5.5" ry="2.7" transform="translate(1828.2 1664.7) rotate(175)"/><ellipse rx="4.7" ry="2.4" transform="translate(1852.0 1664.4) rotate(180)"/><ellipse rx="4.7" ry="2.3" transform="translate(1878.8 1657.9) rotate(134)"/><ellipse rx="5.3" ry="2.6" transform="translate(1901.2 1665.6) rotate(146)"/><ellipse rx="5.4" ry="2.3" transform="translate(1914.1 1656.2) rotate(170)"/><ellipse rx="4.9" ry="2.5" transform="translate(1931.8 1662.9) rotate(142)"/><ellipse rx="4.9" ry="2.6" transform="translate(1947.2 1657.7) rotate(92)"/><ellipse rx="5.1" ry="2.4" transform="translate(1961.1 1656.7) rotate(81)"/><ellipse rx="5.1" ry="2.4" transform="translate(1977.8 1667.1) rotate(175)"/><ellipse rx="5.4" ry="2.6" transform="translate(1822.9 1678.5) rotate(28)"/><ellipse rx="4.9" ry="2.7" transform="translate(1832.0 1680.1) rotate(20)"/><ellipse rx="4.8" ry="2.3" transform="translate(1860.1 1673.7) rotate(14)"/><ellipse rx="5.5" ry="2.5" transform="translate(1874.6 1679.5) rotate(160)"/><ellipse rx="4.8" ry="2.4" transform="translate(1900.0 1678.3) rotate(133)"/><ellipse rx="4.6" ry="2.6" transform="translate(1911.8 1677.8) rotate(81)"/><ellipse rx="4.7" ry="2.4" transform="translate(1927.0 1680.3) rotate(40)"/><ellipse rx="4.6" ry="2.4" transform="translate(1942.9 1676.1) rotate(88)"/><ellipse rx="5.1" ry="2.4" transform="translate(1982.9 1677.9) rotate(110)"/><ellipse rx="4.8" ry="2.6" transform="translate(1815.4 1691.0) rotate(45)"/><ellipse rx="4.7" ry="2.7" transform="translate(1834.2 1695.5) rotate(122)"/><ellipse rx="5.2" ry="2.3" transform="translate(1847.8 1694.4) rotate(142)"/><ellipse rx="5.2" ry="2.3" transform="translate(1864.2 1698.4) rotate(167)"/><ellipse rx="5.0" ry="2.5" transform="translate(1894.7 1697.8) rotate(133)"/><ellipse rx="5.3" ry="2.4" transform="translate(1918.6 1691.3) rotate(79)"/><ellipse rx="4.7" ry="2.3" transform="translate(1929.9 1691.8) rotate(132)"/><ellipse rx="4.9" ry="2.6" transform="translate(1953.4 1697.4) rotate(21)"/><ellipse rx="5.4" ry="2.3" transform="translate(1975.1 1693.0) rotate(97)"/></g>
</g>
<path d="M1796.6,1442.0 L1844.6,1422.0 L1844.6,1462.0 Z" fill="#9aa0a8" opacity="0.35" filter="url(#fblur)"/>
<path d="M1795.6,1440.0 L1844.6,1419.5 L1844.6,1459.5 Z" fill="url(#gtail)" filter="url(#fblur)"/>
<circle cx="1854.6" cy="1439.5" r="24.2" fill="#e8664b" stroke="#e8f7fd" stroke-width="1.2"/>
<text x="1853.80" y="1447.70" font-size="22" text-anchor="middle" fill="#fff" >OH<tspan dy="-8.0" font-size="15">-</tspan></text>
<path d="M1922.5,1440 L1888,1440" fill="none" stroke="#000" stroke-width="2.6" stroke-dasharray="6.2 2.6"/>
<path d="M1892.6,1435.5 L1884.2,1440.0 L1892.6,1444.5" fill="none" stroke="#000" stroke-width="2.6" stroke-linejoin="miter"/>
<text x="1925.80" y="1447.20" font-size="22" >Mg<tspan dy="-7.5" font-size="15">2+</tspan></text>
<path d="M1867.6,1466 C1866,1484 1871,1496 1881,1502" fill="none" stroke="#000" stroke-width="2.5"/>
<path d="M1877.8,1504.7 L1886.8,1505.3 L1881.8,1497.8 Z" fill="#000"/>
<text x="1888.80" y="1516.80" font-size="22.3" >Mg(OH)<tspan dy="4.5" font-size="15">2</tspan></text>
<text x="1640.30" y="1440.50" font-size="25" text-anchor="middle" transform="rotate(-90 1640.30 1440.50)" >Halogen layer</text>
<line x1="1820.70" y1="1703.50" x2="1820.70" y2="1716.50" stroke="#000" stroke-width="2.1" />
<line x1="1976.80" y1="1703.50" x2="1976.80" y2="1716.50" stroke="#000" stroke-width="2.1" />
<line x1="1823.70" y1="1710.00" x2="1973.80" y2="1710.00" stroke="#000" stroke-width="2" />
<path d="M1831.1,1706.6 L1822.2,1710.0 L1831.1,1713.4 Z" fill="#000"/>
<path d="M1966.4,1713.4 L1975.3,1710.0 L1966.4,1706.6 Z" fill="#000"/>
<text x="1785.80" y="1744.40" font-size="24.7" >Precipitation region</text>
</svg>
</body></html>
